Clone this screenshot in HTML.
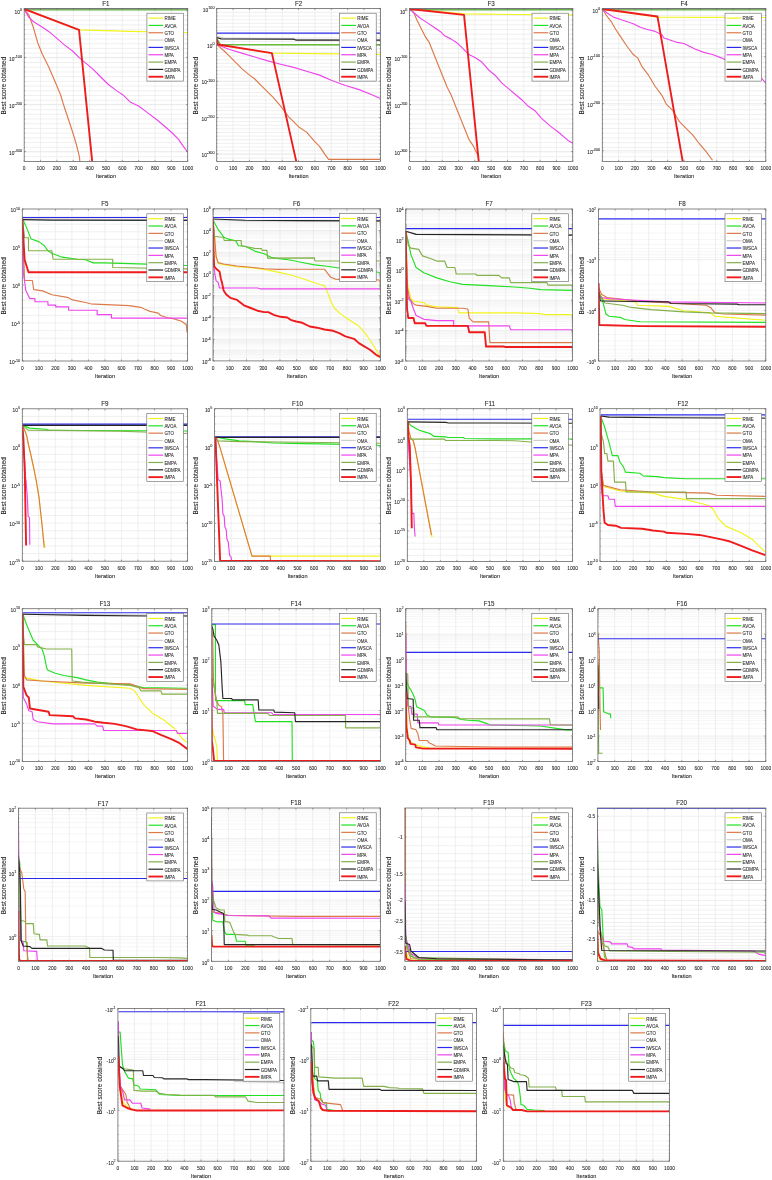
<!DOCTYPE html><html><head><meta charset="utf-8"><style>html,body{margin:0;padding:0;background:#fff;width:772px;height:1180px;overflow:hidden}svg{display:block;font-family:"Liberation Sans",sans-serif}</style></head><body><svg width="772" height="1180" viewBox="0 0 772 1180" font-family="Liberation Sans, sans-serif"><defs><filter id="bl" x="0" y="0" width="1" height="1"><feGaussianBlur stdDeviation="0.45"/></filter><style>text{stroke:#262626;stroke-width:0.08px}</style></defs><rect width="772" height="1180" fill="#fff"/><g filter="url(#bl)"><clipPath id="clipF1"><rect x="24.20" y="8.40" width="163.50" height="153.00"/></clipPath>
<g><path d="M24.2 156.69H187.7M24.2 151.98H187.7M24.2 147.28H187.7M24.2 142.57H187.7M24.2 137.86H187.7M24.2 133.15H187.7M24.2 128.45H187.7M24.2 123.74H187.7M24.2 119.03H187.7M24.2 114.32H187.7M24.2 109.62H187.7M24.2 104.91H187.7M24.2 100.20H187.7M24.2 95.49H187.7M24.2 90.78H187.7M24.2 86.08H187.7M24.2 81.37H187.7M24.2 76.66H187.7M24.2 71.95H187.7M24.2 67.25H187.7M24.2 62.54H187.7M24.2 57.83H187.7M24.2 53.12H187.7M24.2 48.42H187.7M24.2 43.71H187.7M24.2 39.00H187.7M24.2 34.29H187.7M24.2 29.58H187.7M24.2 24.88H187.7M24.2 20.17H187.7M24.2 15.46H187.7M24.2 10.75H187.7" stroke="#e6e6e6" stroke-width="0.6"/>
<path d="" stroke="#f0f0f0" stroke-width="0.6"/>
<path d="M24.2 10.28H187.7M24.2 57.36H187.7M24.2 104.44H187.7M24.2 151.51H187.7M40.55 8.4V161.4M56.90 8.4V161.4M73.25 8.4V161.4M89.60 8.4V161.4M105.95 8.4V161.4M122.30 8.4V161.4M138.65 8.4V161.4M155.00 8.4V161.4M171.35 8.4V161.4" stroke="#e4e4e4" stroke-width="0.6"/>
<g clip-path="url(#clipF1)">
<polyline points="23.96,8.96 79.02,29.88 130.11,31.43 187.80,32.53" fill="none" stroke="#f2f21a" stroke-width="1.15" stroke-linejoin="round"/>
<polyline points="24.20,9.60 187.70,9.60" fill="none" stroke="#22e022" stroke-width="1.15" stroke-linejoin="round"/>
<polyline points="23.96,8.96 28.81,14.91 33.21,27.02 37.62,42.44 42.02,53.45 48.63,66.66 55.23,82.08 60.74,95.29 64.04,106.30 68.45,119.51 72.85,132.73 76.16,143.74 79.46,156.95 79.90,161.79" fill="none" stroke="#dc7a4a" stroke-width="1.15" stroke-linejoin="round"/>
<polyline points="24.20,8.90 187.70,8.90" fill="none" stroke="#cfcfcf" stroke-width="1.15" stroke-linejoin="round"/>
<polyline points="24.20,8.70 187.70,8.70" fill="none" stroke="#2c2cec" stroke-width="1.15" stroke-linejoin="round"/>
<polyline points="23.96,8.96 28.81,17.11 33.21,21.52 42.02,27.02 48.63,31.43 55.23,36.93 64.04,44.64 72.85,51.25 79.46,57.85 86.06,63.36 92.67,68.86 99.28,75.47 108.09,84.28 116.89,90.88 123.50,95.29 130.11,101.89 138.92,106.30 147.73,112.91 156.53,119.51 163.14,125.02 171.95,132.73 178.56,139.33 182.96,145.94 187.80,152.10" fill="none" stroke="#ee44ee" stroke-width="1.15" stroke-linejoin="round"/>
<polyline points="24.20,9.70 187.70,9.70" fill="none" stroke="#84b04a" stroke-width="1.15" stroke-linejoin="round"/>
<polyline points="23.96,8.96 79.02,29.88 92.23,161.79" fill="none" stroke="#ee1c1c" stroke-width="1.9" stroke-linejoin="round"/>
</g>
<rect x="24.20" y="8.40" width="163.50" height="153.00" fill="none" stroke="#6a6a6a" stroke-width="0.8"/>
<path d="M24.20 161.4v-1.6M24.20 8.4v1.6M40.55 161.4v-1.6M40.55 8.4v1.6M56.90 161.4v-1.6M56.90 8.4v1.6M73.25 161.4v-1.6M73.25 8.4v1.6M89.60 161.4v-1.6M89.60 8.4v1.6M105.95 161.4v-1.6M105.95 8.4v1.6M122.30 161.4v-1.6M122.30 8.4v1.6M138.65 161.4v-1.6M138.65 8.4v1.6M155.00 161.4v-1.6M155.00 8.4v1.6M171.35 161.4v-1.6M171.35 8.4v1.6M187.70 161.4v-1.6M187.70 8.4v1.6M24.2 10.28h1.6M187.7 10.28h-1.6M24.2 57.36h1.6M187.7 57.36h-1.6M24.2 104.44h1.6M187.7 104.44h-1.6M24.2 151.51h1.6M187.7 151.51h-1.6" stroke="#6a6a6a" stroke-width="0.6"/>
<path d="M24.2 156.69h0.9M187.7 156.69h-0.9M24.2 151.98h0.9M187.7 151.98h-0.9M24.2 147.28h0.9M187.7 147.28h-0.9M24.2 142.57h0.9M187.7 142.57h-0.9M24.2 137.86h0.9M187.7 137.86h-0.9M24.2 133.15h0.9M187.7 133.15h-0.9M24.2 128.45h0.9M187.7 128.45h-0.9M24.2 123.74h0.9M187.7 123.74h-0.9M24.2 119.03h0.9M187.7 119.03h-0.9M24.2 114.32h0.9M187.7 114.32h-0.9M24.2 109.62h0.9M187.7 109.62h-0.9M24.2 104.91h0.9M187.7 104.91h-0.9M24.2 100.20h0.9M187.7 100.20h-0.9M24.2 95.49h0.9M187.7 95.49h-0.9M24.2 90.78h0.9M187.7 90.78h-0.9M24.2 86.08h0.9M187.7 86.08h-0.9M24.2 81.37h0.9M187.7 81.37h-0.9M24.2 76.66h0.9M187.7 76.66h-0.9M24.2 71.95h0.9M187.7 71.95h-0.9M24.2 67.25h0.9M187.7 67.25h-0.9M24.2 62.54h0.9M187.7 62.54h-0.9M24.2 57.83h0.9M187.7 57.83h-0.9M24.2 53.12h0.9M187.7 53.12h-0.9M24.2 48.42h0.9M187.7 48.42h-0.9M24.2 43.71h0.9M187.7 43.71h-0.9M24.2 39.00h0.9M187.7 39.00h-0.9M24.2 34.29h0.9M187.7 34.29h-0.9M24.2 29.58h0.9M187.7 29.58h-0.9M24.2 24.88h0.9M187.7 24.88h-0.9M24.2 20.17h0.9M187.7 20.17h-0.9M24.2 15.46h0.9M187.7 15.46h-0.9M24.2 10.75h0.9M187.7 10.75h-0.9" stroke="#6a6a6a" stroke-width="0.5"/>
<text x="22.85" y="170.10" font-size="5.6" textLength="2.71" lengthAdjust="spacingAndGlyphs" fill="#262626" >0</text>
<text x="36.49" y="170.10" font-size="5.6" textLength="8.13" lengthAdjust="spacingAndGlyphs" fill="#262626" >100</text>
<text x="52.84" y="170.10" font-size="5.6" textLength="8.13" lengthAdjust="spacingAndGlyphs" fill="#262626" >200</text>
<text x="69.19" y="170.10" font-size="5.6" textLength="8.13" lengthAdjust="spacingAndGlyphs" fill="#262626" >300</text>
<text x="85.54" y="170.10" font-size="5.6" textLength="8.13" lengthAdjust="spacingAndGlyphs" fill="#262626" >400</text>
<text x="101.89" y="170.10" font-size="5.6" textLength="8.13" lengthAdjust="spacingAndGlyphs" fill="#262626" >500</text>
<text x="118.24" y="170.10" font-size="5.6" textLength="8.13" lengthAdjust="spacingAndGlyphs" fill="#262626" >600</text>
<text x="134.59" y="170.10" font-size="5.6" textLength="8.13" lengthAdjust="spacingAndGlyphs" fill="#262626" >700</text>
<text x="150.94" y="170.10" font-size="5.6" textLength="8.13" lengthAdjust="spacingAndGlyphs" fill="#262626" >800</text>
<text x="167.29" y="170.10" font-size="5.6" textLength="8.13" lengthAdjust="spacingAndGlyphs" fill="#262626" >900</text>
<text x="182.28" y="170.10" font-size="5.6" textLength="10.84" lengthAdjust="spacingAndGlyphs" fill="#262626" >1000</text>
<text x="14.50" y="13.58" font-size="5.6" textLength="5.42" lengthAdjust="spacingAndGlyphs" fill="#262626" >10</text>
<text x="19.92" y="10.78" font-size="4.3" textLength="2.08" lengthAdjust="spacingAndGlyphs" fill="#262626" >0</text>
<text x="9.09" y="60.66" font-size="5.6" textLength="5.42" lengthAdjust="spacingAndGlyphs" fill="#262626" >10</text>
<text x="14.51" y="57.86" font-size="4.3" textLength="7.49" lengthAdjust="spacingAndGlyphs" fill="#262626" >-100</text>
<text x="9.09" y="107.74" font-size="5.6" textLength="5.42" lengthAdjust="spacingAndGlyphs" fill="#262626" >10</text>
<text x="14.51" y="104.94" font-size="4.3" textLength="7.49" lengthAdjust="spacingAndGlyphs" fill="#262626" >-200</text>
<text x="9.09" y="154.81" font-size="5.6" textLength="5.42" lengthAdjust="spacingAndGlyphs" fill="#262626" >10</text>
<text x="14.51" y="152.01" font-size="4.3" textLength="7.49" lengthAdjust="spacingAndGlyphs" fill="#262626" >-300</text>
<text x="95.87" y="178.10" font-size="6.2" textLength="20.16" lengthAdjust="spacingAndGlyphs" fill="#262626" >Iteration</text>
<text x="102.29" y="5.80" font-size="6.6" textLength="7.32" lengthAdjust="spacingAndGlyphs" fill="#262626" >F1</text>
<text x="-28.72" y="0.00" font-size="6.5" textLength="57.45" lengthAdjust="spacingAndGlyphs" fill="#262626" transform="translate(5.50,85.70) rotate(-90)" style="stroke-width:0.1px">Best score obtained</text>
<rect x="146.90" y="13.20" width="36.60" height="67.90" fill="#fff" stroke="#666" stroke-width="0.6"/>
<line x1="148.50" y1="18.10" x2="163.20" y2="18.10" stroke="#f2f21a" stroke-width="1.2"/>
<text x="164.50" y="20.40" font-size="5.2" textLength="11.18" lengthAdjust="spacingAndGlyphs" fill="#262626" >RIME</text>
<line x1="148.50" y1="25.43" x2="163.20" y2="25.43" stroke="#22e022" stroke-width="1.2"/>
<text x="164.50" y="27.73" font-size="5.2" textLength="12.10" lengthAdjust="spacingAndGlyphs" fill="#262626" >AVOA</text>
<line x1="148.50" y1="32.76" x2="163.20" y2="32.76" stroke="#dc7a4a" stroke-width="1.2"/>
<text x="164.50" y="35.06" font-size="5.2" textLength="9.61" lengthAdjust="spacingAndGlyphs" fill="#262626" >GTO</text>
<line x1="148.50" y1="40.09" x2="163.20" y2="40.09" stroke="#cfcfcf" stroke-width="1.2"/>
<text x="164.50" y="42.39" font-size="5.2" textLength="10.19" lengthAdjust="spacingAndGlyphs" fill="#262626" >OMA</text>
<line x1="148.50" y1="47.42" x2="163.20" y2="47.42" stroke="#2c2cec" stroke-width="1.2"/>
<text x="164.50" y="49.72" font-size="5.2" textLength="14.66" lengthAdjust="spacingAndGlyphs" fill="#262626" >IWSCA</text>
<line x1="148.50" y1="54.75" x2="163.20" y2="54.75" stroke="#ee44ee" stroke-width="1.2"/>
<text x="164.50" y="57.05" font-size="5.2" textLength="9.36" lengthAdjust="spacingAndGlyphs" fill="#262626" >MPA</text>
<line x1="148.50" y1="62.08" x2="163.20" y2="62.08" stroke="#84b04a" stroke-width="1.2"/>
<text x="164.50" y="64.38" font-size="5.2" textLength="12.34" lengthAdjust="spacingAndGlyphs" fill="#262626" >EMPA</text>
<line x1="148.50" y1="69.41" x2="163.20" y2="69.41" stroke="#262626" stroke-width="1.2"/>
<text x="164.50" y="71.71" font-size="5.2" textLength="16.07" lengthAdjust="spacingAndGlyphs" fill="#262626" >GDMPA</text>
<line x1="148.50" y1="76.74" x2="163.20" y2="76.74" stroke="#ee1c1c" stroke-width="1.9"/>
<text x="164.50" y="79.04" font-size="5.2" textLength="10.60" lengthAdjust="spacingAndGlyphs" fill="#262626" >IMPA</text></g>
<clipPath id="clipF2"><rect x="216.70" y="8.40" width="163.70" height="153.00"/></clipPath>
<g><path d="M216.7 157.94H380.4M216.7 154.30H380.4M216.7 150.67H380.4M216.7 147.03H380.4M216.7 143.39H380.4M216.7 139.75H380.4M216.7 136.11H380.4M216.7 132.47H380.4M216.7 128.84H380.4M216.7 125.20H380.4M216.7 121.56H380.4M216.7 117.92H380.4M216.7 114.28H380.4M216.7 110.64H380.4M216.7 107.00H380.4M216.7 103.37H380.4M216.7 99.73H380.4M216.7 96.09H380.4M216.7 92.45H380.4M216.7 88.81H380.4M216.7 85.17H380.4M216.7 81.53H380.4M216.7 77.90H380.4M216.7 74.26H380.4M216.7 70.62H380.4M216.7 66.98H380.4M216.7 63.34H380.4M216.7 59.70H380.4M216.7 56.06H380.4M216.7 52.43H380.4M216.7 48.79H380.4M216.7 45.15H380.4M216.7 41.51H380.4M216.7 37.87H380.4M216.7 34.23H380.4M216.7 30.60H380.4M216.7 26.96H380.4M216.7 23.32H380.4M216.7 19.68H380.4M216.7 16.04H380.4M216.7 12.40H380.4M216.7 8.76H380.4" stroke="#e6e6e6" stroke-width="0.6"/>
<path d="" stroke="#f0f0f0" stroke-width="0.6"/>
<path d="M216.7 44.79H380.4M216.7 81.17H380.4M216.7 117.56H380.4M216.7 153.94H380.4M233.07 8.4V161.4M249.44 8.4V161.4M265.81 8.4V161.4M282.18 8.4V161.4M298.55 8.4V161.4M314.92 8.4V161.4M331.29 8.4V161.4M347.66 8.4V161.4M364.03 8.4V161.4" stroke="#e4e4e4" stroke-width="0.6"/>
<g clip-path="url(#clipF2)">
<polyline points="216.68,44.56 271.87,53.11 380.41,54.40" fill="none" stroke="#f2f21a" stroke-width="1.15" stroke-linejoin="round"/>
<polyline points="216.68,37.56 219.79,44.56 380.41,44.56" fill="none" stroke="#22e022" stroke-width="1.15" stroke-linejoin="round"/>
<polyline points="216.68,44.56 223.68,50.52 228.86,55.70 235.34,62.18 241.81,68.65 249.59,75.13 254.77,79.02 262.54,86.79 272.90,97.15 280.67,106.22 288.45,116.58 298.81,126.94 306.58,132.12 314.35,141.19 319.53,146.37 324.72,154.15 328.60,159.33 380.41,159.33" fill="none" stroke="#dc7a4a" stroke-width="1.15" stroke-linejoin="round"/>
<polyline points="216.68,36.27 223.68,38.08 296.22,39.38 380.41,40.16" fill="none" stroke="#cfcfcf" stroke-width="1.15" stroke-linejoin="round"/>
<polyline points="216.68,33.16 380.41,33.16" fill="none" stroke="#2c2cec" stroke-width="1.15" stroke-linejoin="round"/>
<polyline points="216.68,44.56 228.86,49.22 241.81,53.11 254.77,56.99 267.72,60.88 280.67,64.25 293.63,67.36 306.58,71.24 319.53,75.13 331.19,80.31 345.44,85.49 358.39,89.38 371.35,94.56 380.41,98.45" fill="none" stroke="#ee44ee" stroke-width="1.15" stroke-linejoin="round"/>
<polyline points="216.68,38.86 220.57,44.56 380.41,44.82" fill="none" stroke="#84b04a" stroke-width="1.15" stroke-linejoin="round"/>
<polyline points="216.68,37.56 221.09,38.86 293.63,39.12 296.22,40.16 380.41,40.16" fill="none" stroke="#262626" stroke-width="1.15" stroke-linejoin="round"/>
<polyline points="216.68,38.86 217.98,44.56 271.87,53.11 296.22,161.14" fill="none" stroke="#ee1c1c" stroke-width="1.9" stroke-linejoin="round"/>
</g>
<rect x="216.70" y="8.40" width="163.70" height="153.00" fill="none" stroke="#6a6a6a" stroke-width="0.8"/>
<path d="M216.70 161.4v-1.6M216.70 8.4v1.6M233.07 161.4v-1.6M233.07 8.4v1.6M249.44 161.4v-1.6M249.44 8.4v1.6M265.81 161.4v-1.6M265.81 8.4v1.6M282.18 161.4v-1.6M282.18 8.4v1.6M298.55 161.4v-1.6M298.55 8.4v1.6M314.92 161.4v-1.6M314.92 8.4v1.6M331.29 161.4v-1.6M331.29 8.4v1.6M347.66 161.4v-1.6M347.66 8.4v1.6M364.03 161.4v-1.6M364.03 8.4v1.6M380.40 161.4v-1.6M380.40 8.4v1.6M216.7 8.40h1.6M380.4 8.40h-1.6M216.7 44.79h1.6M380.4 44.79h-1.6M216.7 81.17h1.6M380.4 81.17h-1.6M216.7 117.56h1.6M380.4 117.56h-1.6M216.7 153.94h1.6M380.4 153.94h-1.6" stroke="#6a6a6a" stroke-width="0.6"/>
<path d="M216.7 157.94h0.9M380.4 157.94h-0.9M216.7 154.30h0.9M380.4 154.30h-0.9M216.7 150.67h0.9M380.4 150.67h-0.9M216.7 147.03h0.9M380.4 147.03h-0.9M216.7 143.39h0.9M380.4 143.39h-0.9M216.7 139.75h0.9M380.4 139.75h-0.9M216.7 136.11h0.9M380.4 136.11h-0.9M216.7 132.47h0.9M380.4 132.47h-0.9M216.7 128.84h0.9M380.4 128.84h-0.9M216.7 125.20h0.9M380.4 125.20h-0.9M216.7 121.56h0.9M380.4 121.56h-0.9M216.7 117.92h0.9M380.4 117.92h-0.9M216.7 114.28h0.9M380.4 114.28h-0.9M216.7 110.64h0.9M380.4 110.64h-0.9M216.7 107.00h0.9M380.4 107.00h-0.9M216.7 103.37h0.9M380.4 103.37h-0.9M216.7 99.73h0.9M380.4 99.73h-0.9M216.7 96.09h0.9M380.4 96.09h-0.9M216.7 92.45h0.9M380.4 92.45h-0.9M216.7 88.81h0.9M380.4 88.81h-0.9M216.7 85.17h0.9M380.4 85.17h-0.9M216.7 81.53h0.9M380.4 81.53h-0.9M216.7 77.90h0.9M380.4 77.90h-0.9M216.7 74.26h0.9M380.4 74.26h-0.9M216.7 70.62h0.9M380.4 70.62h-0.9M216.7 66.98h0.9M380.4 66.98h-0.9M216.7 63.34h0.9M380.4 63.34h-0.9M216.7 59.70h0.9M380.4 59.70h-0.9M216.7 56.06h0.9M380.4 56.06h-0.9M216.7 52.43h0.9M380.4 52.43h-0.9M216.7 48.79h0.9M380.4 48.79h-0.9M216.7 45.15h0.9M380.4 45.15h-0.9M216.7 41.51h0.9M380.4 41.51h-0.9M216.7 37.87h0.9M380.4 37.87h-0.9M216.7 34.23h0.9M380.4 34.23h-0.9M216.7 30.60h0.9M380.4 30.60h-0.9M216.7 26.96h0.9M380.4 26.96h-0.9M216.7 23.32h0.9M380.4 23.32h-0.9M216.7 19.68h0.9M380.4 19.68h-0.9M216.7 16.04h0.9M380.4 16.04h-0.9M216.7 12.40h0.9M380.4 12.40h-0.9M216.7 8.76h0.9M380.4 8.76h-0.9" stroke="#6a6a6a" stroke-width="0.5"/>
<text x="215.35" y="170.10" font-size="5.6" textLength="2.71" lengthAdjust="spacingAndGlyphs" fill="#262626" >0</text>
<text x="229.01" y="170.10" font-size="5.6" textLength="8.13" lengthAdjust="spacingAndGlyphs" fill="#262626" >100</text>
<text x="245.38" y="170.10" font-size="5.6" textLength="8.13" lengthAdjust="spacingAndGlyphs" fill="#262626" >200</text>
<text x="261.75" y="170.10" font-size="5.6" textLength="8.13" lengthAdjust="spacingAndGlyphs" fill="#262626" >300</text>
<text x="278.12" y="170.10" font-size="5.6" textLength="8.13" lengthAdjust="spacingAndGlyphs" fill="#262626" >400</text>
<text x="294.49" y="170.10" font-size="5.6" textLength="8.13" lengthAdjust="spacingAndGlyphs" fill="#262626" >500</text>
<text x="310.86" y="170.10" font-size="5.6" textLength="8.13" lengthAdjust="spacingAndGlyphs" fill="#262626" >600</text>
<text x="327.23" y="170.10" font-size="5.6" textLength="8.13" lengthAdjust="spacingAndGlyphs" fill="#262626" >700</text>
<text x="343.60" y="170.10" font-size="5.6" textLength="8.13" lengthAdjust="spacingAndGlyphs" fill="#262626" >800</text>
<text x="359.97" y="170.10" font-size="5.6" textLength="8.13" lengthAdjust="spacingAndGlyphs" fill="#262626" >900</text>
<text x="374.98" y="170.10" font-size="5.6" textLength="10.84" lengthAdjust="spacingAndGlyphs" fill="#262626" >1000</text>
<text x="202.84" y="11.70" font-size="5.6" textLength="5.42" lengthAdjust="spacingAndGlyphs" fill="#262626" >10</text>
<text x="208.26" y="8.90" font-size="4.3" textLength="6.24" lengthAdjust="spacingAndGlyphs" fill="#262626" >100</text>
<text x="207.00" y="48.09" font-size="5.6" textLength="5.42" lengthAdjust="spacingAndGlyphs" fill="#262626" >10</text>
<text x="212.42" y="45.29" font-size="4.3" textLength="2.08" lengthAdjust="spacingAndGlyphs" fill="#262626" >0</text>
<text x="201.59" y="84.47" font-size="5.6" textLength="5.42" lengthAdjust="spacingAndGlyphs" fill="#262626" >10</text>
<text x="207.01" y="81.67" font-size="4.3" textLength="7.49" lengthAdjust="spacingAndGlyphs" fill="#262626" >-100</text>
<text x="201.59" y="120.86" font-size="5.6" textLength="5.42" lengthAdjust="spacingAndGlyphs" fill="#262626" >10</text>
<text x="207.01" y="118.06" font-size="4.3" textLength="7.49" lengthAdjust="spacingAndGlyphs" fill="#262626" >-200</text>
<text x="201.59" y="157.24" font-size="5.6" textLength="5.42" lengthAdjust="spacingAndGlyphs" fill="#262626" >10</text>
<text x="207.01" y="154.44" font-size="4.3" textLength="7.49" lengthAdjust="spacingAndGlyphs" fill="#262626" >-300</text>
<text x="288.47" y="178.10" font-size="6.2" textLength="20.16" lengthAdjust="spacingAndGlyphs" fill="#262626" >Iteration</text>
<text x="294.89" y="5.80" font-size="6.6" textLength="7.32" lengthAdjust="spacingAndGlyphs" fill="#262626" >F2</text>
<text x="-28.72" y="0.00" font-size="6.5" textLength="57.45" lengthAdjust="spacingAndGlyphs" fill="#262626" transform="translate(198.20,85.70) rotate(-90)" style="stroke-width:0.1px">Best score obtained</text>
<rect x="339.60" y="13.20" width="36.60" height="67.90" fill="#fff" stroke="#666" stroke-width="0.6"/>
<line x1="341.20" y1="18.10" x2="355.90" y2="18.10" stroke="#f2f21a" stroke-width="1.2"/>
<text x="357.20" y="20.40" font-size="5.2" textLength="11.18" lengthAdjust="spacingAndGlyphs" fill="#262626" >RIME</text>
<line x1="341.20" y1="25.43" x2="355.90" y2="25.43" stroke="#22e022" stroke-width="1.2"/>
<text x="357.20" y="27.73" font-size="5.2" textLength="12.10" lengthAdjust="spacingAndGlyphs" fill="#262626" >AVOA</text>
<line x1="341.20" y1="32.76" x2="355.90" y2="32.76" stroke="#dc7a4a" stroke-width="1.2"/>
<text x="357.20" y="35.06" font-size="5.2" textLength="9.61" lengthAdjust="spacingAndGlyphs" fill="#262626" >GTO</text>
<line x1="341.20" y1="40.09" x2="355.90" y2="40.09" stroke="#cfcfcf" stroke-width="1.2"/>
<text x="357.20" y="42.39" font-size="5.2" textLength="10.19" lengthAdjust="spacingAndGlyphs" fill="#262626" >OMA</text>
<line x1="341.20" y1="47.42" x2="355.90" y2="47.42" stroke="#2c2cec" stroke-width="1.2"/>
<text x="357.20" y="49.72" font-size="5.2" textLength="14.66" lengthAdjust="spacingAndGlyphs" fill="#262626" >IWSCA</text>
<line x1="341.20" y1="54.75" x2="355.90" y2="54.75" stroke="#ee44ee" stroke-width="1.2"/>
<text x="357.20" y="57.05" font-size="5.2" textLength="9.36" lengthAdjust="spacingAndGlyphs" fill="#262626" >MPA</text>
<line x1="341.20" y1="62.08" x2="355.90" y2="62.08" stroke="#84b04a" stroke-width="1.2"/>
<text x="357.20" y="64.38" font-size="5.2" textLength="12.34" lengthAdjust="spacingAndGlyphs" fill="#262626" >EMPA</text>
<line x1="341.20" y1="69.41" x2="355.90" y2="69.41" stroke="#262626" stroke-width="1.2"/>
<text x="357.20" y="71.71" font-size="5.2" textLength="16.07" lengthAdjust="spacingAndGlyphs" fill="#262626" >GDMPA</text>
<line x1="341.20" y1="76.74" x2="355.90" y2="76.74" stroke="#ee1c1c" stroke-width="1.9"/>
<text x="357.20" y="79.04" font-size="5.2" textLength="10.60" lengthAdjust="spacingAndGlyphs" fill="#262626" >IMPA</text></g>
<clipPath id="clipF3"><rect x="409.60" y="8.40" width="163.20" height="153.00"/></clipPath>
<g><path d="M409.6 156.69H572.8M409.6 151.98H572.8M409.6 147.28H572.8M409.6 142.57H572.8M409.6 137.86H572.8M409.6 133.15H572.8M409.6 128.45H572.8M409.6 123.74H572.8M409.6 119.03H572.8M409.6 114.32H572.8M409.6 109.62H572.8M409.6 104.91H572.8M409.6 100.20H572.8M409.6 95.49H572.8M409.6 90.78H572.8M409.6 86.08H572.8M409.6 81.37H572.8M409.6 76.66H572.8M409.6 71.95H572.8M409.6 67.25H572.8M409.6 62.54H572.8M409.6 57.83H572.8M409.6 53.12H572.8M409.6 48.42H572.8M409.6 43.71H572.8M409.6 39.00H572.8M409.6 34.29H572.8M409.6 29.58H572.8M409.6 24.88H572.8M409.6 20.17H572.8M409.6 15.46H572.8M409.6 10.75H572.8" stroke="#e6e6e6" stroke-width="0.6"/>
<path d="" stroke="#f0f0f0" stroke-width="0.6"/>
<path d="M409.6 10.28H572.8M409.6 57.36H572.8M409.6 104.44H572.8M409.6 151.51H572.8M425.92 8.4V161.4M442.24 8.4V161.4M458.56 8.4V161.4M474.88 8.4V161.4M491.20 8.4V161.4M507.52 8.4V161.4M523.84 8.4V161.4M540.16 8.4V161.4M556.48 8.4V161.4" stroke="#e4e4e4" stroke-width="0.6"/>
<g clip-path="url(#clipF3)">
<polyline points="409.84,8.96 464.46,13.81 515.11,14.47 572.80,14.91" fill="none" stroke="#f2f21a" stroke-width="1.15" stroke-linejoin="round"/>
<polyline points="409.60,9.60 572.80,9.60" fill="none" stroke="#22e022" stroke-width="1.15" stroke-linejoin="round"/>
<polyline points="409.84,8.96 413.81,12.71 417.11,20.42 420.42,27.02 424.82,35.83 429.22,42.44 433.63,53.45 438.03,64.46 442.44,75.47 446.84,86.48 451.25,95.29 455.65,106.30 460.05,117.31 464.46,128.32 468.86,139.33 473.27,145.94 478.77,156.95" fill="none" stroke="#dc7a4a" stroke-width="1.15" stroke-linejoin="round"/>
<polyline points="409.60,8.70 572.80,8.70" fill="none" stroke="#2c2cec" stroke-width="1.15" stroke-linejoin="round"/>
<polyline points="409.84,8.96 413.81,12.71 420.42,18.21 427.02,22.62 433.63,27.02 440.23,31.43 444.64,35.83 451.25,39.13 457.85,43.54 462.26,47.94 468.86,54.55 475.47,57.85 482.08,62.26 488.68,69.96 495.29,75.47 501.89,83.18 508.50,88.68 515.11,94.19 521.71,99.69 528.32,106.30 534.93,110.70 541.53,118.41 550.34,126.12 559.15,132.73 567.96,140.43 572.80,143.30" fill="none" stroke="#ee44ee" stroke-width="1.15" stroke-linejoin="round"/>
<polyline points="409.60,9.70 572.80,9.70" fill="none" stroke="#84b04a" stroke-width="1.15" stroke-linejoin="round"/>
<polyline points="409.84,8.96 464.02,14.91 478.77,161.79" fill="none" stroke="#ee1c1c" stroke-width="1.9" stroke-linejoin="round"/>
</g>
<rect x="409.60" y="8.40" width="163.20" height="153.00" fill="none" stroke="#6a6a6a" stroke-width="0.8"/>
<path d="M409.60 161.4v-1.6M409.60 8.4v1.6M425.92 161.4v-1.6M425.92 8.4v1.6M442.24 161.4v-1.6M442.24 8.4v1.6M458.56 161.4v-1.6M458.56 8.4v1.6M474.88 161.4v-1.6M474.88 8.4v1.6M491.20 161.4v-1.6M491.20 8.4v1.6M507.52 161.4v-1.6M507.52 8.4v1.6M523.84 161.4v-1.6M523.84 8.4v1.6M540.16 161.4v-1.6M540.16 8.4v1.6M556.48 161.4v-1.6M556.48 8.4v1.6M572.80 161.4v-1.6M572.80 8.4v1.6M409.6 10.28h1.6M572.8 10.28h-1.6M409.6 57.36h1.6M572.8 57.36h-1.6M409.6 104.44h1.6M572.8 104.44h-1.6M409.6 151.51h1.6M572.8 151.51h-1.6" stroke="#6a6a6a" stroke-width="0.6"/>
<path d="M409.6 156.69h0.9M572.8 156.69h-0.9M409.6 151.98h0.9M572.8 151.98h-0.9M409.6 147.28h0.9M572.8 147.28h-0.9M409.6 142.57h0.9M572.8 142.57h-0.9M409.6 137.86h0.9M572.8 137.86h-0.9M409.6 133.15h0.9M572.8 133.15h-0.9M409.6 128.45h0.9M572.8 128.45h-0.9M409.6 123.74h0.9M572.8 123.74h-0.9M409.6 119.03h0.9M572.8 119.03h-0.9M409.6 114.32h0.9M572.8 114.32h-0.9M409.6 109.62h0.9M572.8 109.62h-0.9M409.6 104.91h0.9M572.8 104.91h-0.9M409.6 100.20h0.9M572.8 100.20h-0.9M409.6 95.49h0.9M572.8 95.49h-0.9M409.6 90.78h0.9M572.8 90.78h-0.9M409.6 86.08h0.9M572.8 86.08h-0.9M409.6 81.37h0.9M572.8 81.37h-0.9M409.6 76.66h0.9M572.8 76.66h-0.9M409.6 71.95h0.9M572.8 71.95h-0.9M409.6 67.25h0.9M572.8 67.25h-0.9M409.6 62.54h0.9M572.8 62.54h-0.9M409.6 57.83h0.9M572.8 57.83h-0.9M409.6 53.12h0.9M572.8 53.12h-0.9M409.6 48.42h0.9M572.8 48.42h-0.9M409.6 43.71h0.9M572.8 43.71h-0.9M409.6 39.00h0.9M572.8 39.00h-0.9M409.6 34.29h0.9M572.8 34.29h-0.9M409.6 29.58h0.9M572.8 29.58h-0.9M409.6 24.88h0.9M572.8 24.88h-0.9M409.6 20.17h0.9M572.8 20.17h-0.9M409.6 15.46h0.9M572.8 15.46h-0.9M409.6 10.75h0.9M572.8 10.75h-0.9" stroke="#6a6a6a" stroke-width="0.5"/>
<text x="408.25" y="170.10" font-size="5.6" textLength="2.71" lengthAdjust="spacingAndGlyphs" fill="#262626" >0</text>
<text x="421.86" y="170.10" font-size="5.6" textLength="8.13" lengthAdjust="spacingAndGlyphs" fill="#262626" >100</text>
<text x="438.18" y="170.10" font-size="5.6" textLength="8.13" lengthAdjust="spacingAndGlyphs" fill="#262626" >200</text>
<text x="454.50" y="170.10" font-size="5.6" textLength="8.13" lengthAdjust="spacingAndGlyphs" fill="#262626" >300</text>
<text x="470.82" y="170.10" font-size="5.6" textLength="8.13" lengthAdjust="spacingAndGlyphs" fill="#262626" >400</text>
<text x="487.14" y="170.10" font-size="5.6" textLength="8.13" lengthAdjust="spacingAndGlyphs" fill="#262626" >500</text>
<text x="503.46" y="170.10" font-size="5.6" textLength="8.13" lengthAdjust="spacingAndGlyphs" fill="#262626" >600</text>
<text x="519.78" y="170.10" font-size="5.6" textLength="8.13" lengthAdjust="spacingAndGlyphs" fill="#262626" >700</text>
<text x="536.10" y="170.10" font-size="5.6" textLength="8.13" lengthAdjust="spacingAndGlyphs" fill="#262626" >800</text>
<text x="552.42" y="170.10" font-size="5.6" textLength="8.13" lengthAdjust="spacingAndGlyphs" fill="#262626" >900</text>
<text x="567.38" y="170.10" font-size="5.6" textLength="10.84" lengthAdjust="spacingAndGlyphs" fill="#262626" >1000</text>
<text x="399.90" y="13.58" font-size="5.6" textLength="5.42" lengthAdjust="spacingAndGlyphs" fill="#262626" >10</text>
<text x="405.32" y="10.78" font-size="4.3" textLength="2.08" lengthAdjust="spacingAndGlyphs" fill="#262626" >0</text>
<text x="394.49" y="60.66" font-size="5.6" textLength="5.42" lengthAdjust="spacingAndGlyphs" fill="#262626" >10</text>
<text x="399.91" y="57.86" font-size="4.3" textLength="7.49" lengthAdjust="spacingAndGlyphs" fill="#262626" >-100</text>
<text x="394.49" y="107.74" font-size="5.6" textLength="5.42" lengthAdjust="spacingAndGlyphs" fill="#262626" >10</text>
<text x="399.91" y="104.94" font-size="4.3" textLength="7.49" lengthAdjust="spacingAndGlyphs" fill="#262626" >-200</text>
<text x="394.49" y="154.81" font-size="5.6" textLength="5.42" lengthAdjust="spacingAndGlyphs" fill="#262626" >10</text>
<text x="399.91" y="152.01" font-size="4.3" textLength="7.49" lengthAdjust="spacingAndGlyphs" fill="#262626" >-300</text>
<text x="481.12" y="178.10" font-size="6.2" textLength="20.16" lengthAdjust="spacingAndGlyphs" fill="#262626" >Iteration</text>
<text x="487.54" y="5.80" font-size="6.6" textLength="7.32" lengthAdjust="spacingAndGlyphs" fill="#262626" >F3</text>
<text x="-28.72" y="0.00" font-size="6.5" textLength="57.45" lengthAdjust="spacingAndGlyphs" fill="#262626" transform="translate(390.90,85.70) rotate(-90)" style="stroke-width:0.1px">Best score obtained</text>
<rect x="532.00" y="13.20" width="36.60" height="67.90" fill="#fff" stroke="#666" stroke-width="0.6"/>
<line x1="533.60" y1="18.10" x2="548.30" y2="18.10" stroke="#f2f21a" stroke-width="1.2"/>
<text x="549.60" y="20.40" font-size="5.2" textLength="11.18" lengthAdjust="spacingAndGlyphs" fill="#262626" >RIME</text>
<line x1="533.60" y1="25.43" x2="548.30" y2="25.43" stroke="#22e022" stroke-width="1.2"/>
<text x="549.60" y="27.73" font-size="5.2" textLength="12.10" lengthAdjust="spacingAndGlyphs" fill="#262626" >AVOA</text>
<line x1="533.60" y1="32.76" x2="548.30" y2="32.76" stroke="#dc7a4a" stroke-width="1.2"/>
<text x="549.60" y="35.06" font-size="5.2" textLength="9.61" lengthAdjust="spacingAndGlyphs" fill="#262626" >GTO</text>
<line x1="533.60" y1="40.09" x2="548.30" y2="40.09" stroke="#cfcfcf" stroke-width="1.2"/>
<text x="549.60" y="42.39" font-size="5.2" textLength="10.19" lengthAdjust="spacingAndGlyphs" fill="#262626" >OMA</text>
<line x1="533.60" y1="47.42" x2="548.30" y2="47.42" stroke="#2c2cec" stroke-width="1.2"/>
<text x="549.60" y="49.72" font-size="5.2" textLength="14.66" lengthAdjust="spacingAndGlyphs" fill="#262626" >IWSCA</text>
<line x1="533.60" y1="54.75" x2="548.30" y2="54.75" stroke="#ee44ee" stroke-width="1.2"/>
<text x="549.60" y="57.05" font-size="5.2" textLength="9.36" lengthAdjust="spacingAndGlyphs" fill="#262626" >MPA</text>
<line x1="533.60" y1="62.08" x2="548.30" y2="62.08" stroke="#84b04a" stroke-width="1.2"/>
<text x="549.60" y="64.38" font-size="5.2" textLength="12.34" lengthAdjust="spacingAndGlyphs" fill="#262626" >EMPA</text>
<line x1="533.60" y1="69.41" x2="548.30" y2="69.41" stroke="#262626" stroke-width="1.2"/>
<text x="549.60" y="71.71" font-size="5.2" textLength="16.07" lengthAdjust="spacingAndGlyphs" fill="#262626" >GDMPA</text>
<line x1="533.60" y1="76.74" x2="548.30" y2="76.74" stroke="#ee1c1c" stroke-width="1.9"/>
<text x="549.60" y="79.04" font-size="5.2" textLength="10.60" lengthAdjust="spacingAndGlyphs" fill="#262626" >IMPA</text></g>
<clipPath id="clipF4"><rect x="602.30" y="8.40" width="163.50" height="153.00"/></clipPath>
<g><path d="M602.3 156.78H765.8M602.3 152.07H765.8M602.3 147.36H765.8M602.3 142.65H765.8M602.3 137.94H765.8M602.3 133.23H765.8M602.3 128.52H765.8M602.3 123.81H765.8M602.3 119.10H765.8M602.3 114.39H765.8M602.3 109.68H765.8M602.3 104.97H765.8M602.3 100.26H765.8M602.3 95.55H765.8M602.3 90.84H765.8M602.3 86.12H765.8M602.3 81.41H765.8M602.3 76.70H765.8M602.3 71.99H765.8M602.3 67.28H765.8M602.3 62.57H765.8M602.3 57.86H765.8M602.3 53.15H765.8M602.3 48.44H765.8M602.3 43.73H765.8M602.3 39.02H765.8M602.3 34.31H765.8M602.3 29.60H765.8M602.3 24.89H765.8M602.3 20.18H765.8M602.3 15.47H765.8M602.3 10.76H765.8" stroke="#e6e6e6" stroke-width="0.6"/>
<path d="" stroke="#f0f0f0" stroke-width="0.6"/>
<path d="M602.3 9.34H765.8M602.3 56.45H765.8M602.3 103.55H765.8M602.3 150.66H765.8M618.65 8.4V161.4M635.00 8.4V161.4M651.35 8.4V161.4M667.70 8.4V161.4M684.05 8.4V161.4M700.40 8.4V161.4M716.75 8.4V161.4M733.10 8.4V161.4M749.45 8.4V161.4" stroke="#e4e4e4" stroke-width="0.6"/>
<g clip-path="url(#clipF4)">
<polyline points="602.40,8.96 657.46,17.11 765.80,17.55" fill="none" stroke="#f2f21a" stroke-width="1.15" stroke-linejoin="round"/>
<polyline points="602.30,9.60 765.80,9.60" fill="none" stroke="#22e022" stroke-width="1.15" stroke-linejoin="round"/>
<polyline points="602.40,8.96 606.81,16.01 611.21,21.52 615.62,29.22 620.02,35.83 626.63,45.74 633.23,54.55 637.64,57.85 642.04,66.66 648.65,75.47 655.26,86.48 661.86,95.29 666.27,104.10 672.87,110.70 679.48,121.71 686.09,128.32 692.69,134.93 699.30,143.74 705.91,151.44 712.51,160.25" fill="none" stroke="#dc7a4a" stroke-width="1.15" stroke-linejoin="round"/>
<polyline points="602.30,8.90 765.80,8.90" fill="none" stroke="#cfcfcf" stroke-width="1.15" stroke-linejoin="round"/>
<polyline points="602.30,8.70 765.80,8.70" fill="none" stroke="#2c2cec" stroke-width="1.15" stroke-linejoin="round"/>
<polyline points="602.40,8.96 606.81,12.71 613.42,17.11 620.02,19.31 626.63,21.52 633.23,23.72 639.84,27.02 646.45,29.22 655.26,31.43 661.86,34.73 664.06,38.03 670.67,40.23 677.28,42.44 683.88,43.54 690.49,46.84 694.89,49.04 703.70,52.35 712.51,54.55 721.32,57.85 730.13,62.26 741.14,66.66 752.15,71.06 760.96,77.67 765.80,83.18" fill="none" stroke="#ee44ee" stroke-width="1.15" stroke-linejoin="round"/>
<polyline points="602.30,9.70 765.80,9.70" fill="none" stroke="#84b04a" stroke-width="1.15" stroke-linejoin="round"/>
<polyline points="602.40,8.96 657.46,16.45 682.78,161.79" fill="none" stroke="#ee1c1c" stroke-width="1.9" stroke-linejoin="round"/>
</g>
<rect x="602.30" y="8.40" width="163.50" height="153.00" fill="none" stroke="#6a6a6a" stroke-width="0.8"/>
<path d="M602.30 161.4v-1.6M602.30 8.4v1.6M618.65 161.4v-1.6M618.65 8.4v1.6M635.00 161.4v-1.6M635.00 8.4v1.6M651.35 161.4v-1.6M651.35 8.4v1.6M667.70 161.4v-1.6M667.70 8.4v1.6M684.05 161.4v-1.6M684.05 8.4v1.6M700.40 161.4v-1.6M700.40 8.4v1.6M716.75 161.4v-1.6M716.75 8.4v1.6M733.10 161.4v-1.6M733.10 8.4v1.6M749.45 161.4v-1.6M749.45 8.4v1.6M765.80 161.4v-1.6M765.80 8.4v1.6M602.3 9.34h1.6M765.8 9.34h-1.6M602.3 56.45h1.6M765.8 56.45h-1.6M602.3 103.55h1.6M765.8 103.55h-1.6M602.3 150.66h1.6M765.8 150.66h-1.6" stroke="#6a6a6a" stroke-width="0.6"/>
<path d="M602.3 156.78h0.9M765.8 156.78h-0.9M602.3 152.07h0.9M765.8 152.07h-0.9M602.3 147.36h0.9M765.8 147.36h-0.9M602.3 142.65h0.9M765.8 142.65h-0.9M602.3 137.94h0.9M765.8 137.94h-0.9M602.3 133.23h0.9M765.8 133.23h-0.9M602.3 128.52h0.9M765.8 128.52h-0.9M602.3 123.81h0.9M765.8 123.81h-0.9M602.3 119.10h0.9M765.8 119.10h-0.9M602.3 114.39h0.9M765.8 114.39h-0.9M602.3 109.68h0.9M765.8 109.68h-0.9M602.3 104.97h0.9M765.8 104.97h-0.9M602.3 100.26h0.9M765.8 100.26h-0.9M602.3 95.55h0.9M765.8 95.55h-0.9M602.3 90.84h0.9M765.8 90.84h-0.9M602.3 86.12h0.9M765.8 86.12h-0.9M602.3 81.41h0.9M765.8 81.41h-0.9M602.3 76.70h0.9M765.8 76.70h-0.9M602.3 71.99h0.9M765.8 71.99h-0.9M602.3 67.28h0.9M765.8 67.28h-0.9M602.3 62.57h0.9M765.8 62.57h-0.9M602.3 57.86h0.9M765.8 57.86h-0.9M602.3 53.15h0.9M765.8 53.15h-0.9M602.3 48.44h0.9M765.8 48.44h-0.9M602.3 43.73h0.9M765.8 43.73h-0.9M602.3 39.02h0.9M765.8 39.02h-0.9M602.3 34.31h0.9M765.8 34.31h-0.9M602.3 29.60h0.9M765.8 29.60h-0.9M602.3 24.89h0.9M765.8 24.89h-0.9M602.3 20.18h0.9M765.8 20.18h-0.9M602.3 15.47h0.9M765.8 15.47h-0.9M602.3 10.76h0.9M765.8 10.76h-0.9" stroke="#6a6a6a" stroke-width="0.5"/>
<text x="600.95" y="170.10" font-size="5.6" textLength="2.71" lengthAdjust="spacingAndGlyphs" fill="#262626" >0</text>
<text x="614.59" y="170.10" font-size="5.6" textLength="8.13" lengthAdjust="spacingAndGlyphs" fill="#262626" >100</text>
<text x="630.94" y="170.10" font-size="5.6" textLength="8.13" lengthAdjust="spacingAndGlyphs" fill="#262626" >200</text>
<text x="647.29" y="170.10" font-size="5.6" textLength="8.13" lengthAdjust="spacingAndGlyphs" fill="#262626" >300</text>
<text x="663.64" y="170.10" font-size="5.6" textLength="8.13" lengthAdjust="spacingAndGlyphs" fill="#262626" >400</text>
<text x="679.99" y="170.10" font-size="5.6" textLength="8.13" lengthAdjust="spacingAndGlyphs" fill="#262626" >500</text>
<text x="696.34" y="170.10" font-size="5.6" textLength="8.13" lengthAdjust="spacingAndGlyphs" fill="#262626" >600</text>
<text x="712.69" y="170.10" font-size="5.6" textLength="8.13" lengthAdjust="spacingAndGlyphs" fill="#262626" >700</text>
<text x="729.04" y="170.10" font-size="5.6" textLength="8.13" lengthAdjust="spacingAndGlyphs" fill="#262626" >800</text>
<text x="745.39" y="170.10" font-size="5.6" textLength="8.13" lengthAdjust="spacingAndGlyphs" fill="#262626" >900</text>
<text x="760.38" y="170.10" font-size="5.6" textLength="10.84" lengthAdjust="spacingAndGlyphs" fill="#262626" >1000</text>
<text x="592.60" y="12.64" font-size="5.6" textLength="5.42" lengthAdjust="spacingAndGlyphs" fill="#262626" >10</text>
<text x="598.02" y="9.84" font-size="4.3" textLength="2.08" lengthAdjust="spacingAndGlyphs" fill="#262626" >0</text>
<text x="587.19" y="59.75" font-size="5.6" textLength="5.42" lengthAdjust="spacingAndGlyphs" fill="#262626" >10</text>
<text x="592.61" y="56.95" font-size="4.3" textLength="7.49" lengthAdjust="spacingAndGlyphs" fill="#262626" >-100</text>
<text x="587.19" y="106.85" font-size="5.6" textLength="5.42" lengthAdjust="spacingAndGlyphs" fill="#262626" >10</text>
<text x="592.61" y="104.05" font-size="4.3" textLength="7.49" lengthAdjust="spacingAndGlyphs" fill="#262626" >-200</text>
<text x="587.19" y="153.96" font-size="5.6" textLength="5.42" lengthAdjust="spacingAndGlyphs" fill="#262626" >10</text>
<text x="592.61" y="151.16" font-size="4.3" textLength="7.49" lengthAdjust="spacingAndGlyphs" fill="#262626" >-300</text>
<text x="673.97" y="178.10" font-size="6.2" textLength="20.16" lengthAdjust="spacingAndGlyphs" fill="#262626" >Iteration</text>
<text x="680.39" y="5.80" font-size="6.6" textLength="7.32" lengthAdjust="spacingAndGlyphs" fill="#262626" >F4</text>
<text x="-28.72" y="0.00" font-size="6.5" textLength="57.45" lengthAdjust="spacingAndGlyphs" fill="#262626" transform="translate(583.60,85.70) rotate(-90)" style="stroke-width:0.1px">Best score obtained</text>
<rect x="725.00" y="13.20" width="36.60" height="67.90" fill="#fff" stroke="#666" stroke-width="0.6"/>
<line x1="726.60" y1="18.10" x2="741.30" y2="18.10" stroke="#f2f21a" stroke-width="1.2"/>
<text x="742.60" y="20.40" font-size="5.2" textLength="11.18" lengthAdjust="spacingAndGlyphs" fill="#262626" >RIME</text>
<line x1="726.60" y1="25.43" x2="741.30" y2="25.43" stroke="#22e022" stroke-width="1.2"/>
<text x="742.60" y="27.73" font-size="5.2" textLength="12.10" lengthAdjust="spacingAndGlyphs" fill="#262626" >AVOA</text>
<line x1="726.60" y1="32.76" x2="741.30" y2="32.76" stroke="#dc7a4a" stroke-width="1.2"/>
<text x="742.60" y="35.06" font-size="5.2" textLength="9.61" lengthAdjust="spacingAndGlyphs" fill="#262626" >GTO</text>
<line x1="726.60" y1="40.09" x2="741.30" y2="40.09" stroke="#cfcfcf" stroke-width="1.2"/>
<text x="742.60" y="42.39" font-size="5.2" textLength="10.19" lengthAdjust="spacingAndGlyphs" fill="#262626" >OMA</text>
<line x1="726.60" y1="47.42" x2="741.30" y2="47.42" stroke="#2c2cec" stroke-width="1.2"/>
<text x="742.60" y="49.72" font-size="5.2" textLength="14.66" lengthAdjust="spacingAndGlyphs" fill="#262626" >IWSCA</text>
<line x1="726.60" y1="54.75" x2="741.30" y2="54.75" stroke="#ee44ee" stroke-width="1.2"/>
<text x="742.60" y="57.05" font-size="5.2" textLength="9.36" lengthAdjust="spacingAndGlyphs" fill="#262626" >MPA</text>
<line x1="726.60" y1="62.08" x2="741.30" y2="62.08" stroke="#84b04a" stroke-width="1.2"/>
<text x="742.60" y="64.38" font-size="5.2" textLength="12.34" lengthAdjust="spacingAndGlyphs" fill="#262626" >EMPA</text>
<line x1="726.60" y1="69.41" x2="741.30" y2="69.41" stroke="#262626" stroke-width="1.2"/>
<text x="742.60" y="71.71" font-size="5.2" textLength="16.07" lengthAdjust="spacingAndGlyphs" fill="#262626" >GDMPA</text>
<line x1="726.60" y1="76.74" x2="741.30" y2="76.74" stroke="#ee1c1c" stroke-width="1.9"/>
<text x="742.60" y="79.04" font-size="5.2" textLength="10.60" lengthAdjust="spacingAndGlyphs" fill="#262626" >IMPA</text></g>
<clipPath id="clipF5"><rect x="22.30" y="209.00" width="165.30" height="152.00"/></clipPath>
<g><path d="M22.3 353.40H187.6M22.3 345.80H187.6M22.3 338.20H187.6M22.3 330.60H187.6M22.3 315.40H187.6M22.3 307.80H187.6M22.3 300.20H187.6M22.3 292.60H187.6M22.3 277.40H187.6M22.3 269.80H187.6M22.3 262.20H187.6M22.3 254.60H187.6M22.3 239.40H187.6M22.3 231.80H187.6M22.3 224.20H187.6M22.3 216.60H187.6" stroke="#e6e6e6" stroke-width="0.6"/>
<path d="" stroke="#f0f0f0" stroke-width="0.6"/>
<path d="M22.3 247.00H187.6M22.3 285.00H187.6M22.3 323.00H187.6M38.83 209.0V361.0M55.36 209.0V361.0M71.89 209.0V361.0M88.42 209.0V361.0M104.95 209.0V361.0M121.48 209.0V361.0M138.01 209.0V361.0M154.54 209.0V361.0M171.07 209.0V361.0" stroke="#e4e4e4" stroke-width="0.6"/>
<g clip-path="url(#clipF5)">
<polyline points="22.28,218.32 25.91,226.09 31.09,239.04 38.86,241.63 44.04,245.52 47.93,250.70 51.81,253.29 62.18,257.18 77.72,259.25 85.49,259.77 93.26,262.88 103.63,262.88 129.53,263.65 155.44,264.43 187.56,265.47" fill="none" stroke="#22e022" stroke-width="1.15" stroke-linejoin="round"/>
<polyline points="22.28,218.32 24.61,280.49 32.38,280.49 33.68,289.56 42.75,290.85 51.81,294.74 67.36,297.33 72.54,299.92 85.49,302.51 90.67,303.81 100.00,304.40 129.09,305.60 140.80,307.31 144.30,309.09 150.10,311.40 158.29,313.11 160.60,315.49 167.59,317.80 172.31,318.39 181.61,321.30 186.30,324.79 187.20,333.01" fill="none" stroke="#dc7a4a" stroke-width="1.15" stroke-linejoin="round"/>
<polyline points="22.28,218.83 187.56,219.61" fill="none" stroke="#cfcfcf" stroke-width="1.15" stroke-linejoin="round"/>
<polyline points="22.28,217.54 187.56,217.54" fill="none" stroke="#2c2cec" stroke-width="1.15" stroke-linejoin="round"/>
<polyline points="22.28,218.32 23.32,272.72 25.91,290.85 29.79,298.63 34.97,298.63 34.97,301.74 47.93,301.74 47.93,305.10 55.70,305.10 55.70,306.92 68.65,306.92 68.65,310.28 97.15,310.28 97.15,314.69 111.40,314.69 111.40,318.06 187.56,318.06" fill="none" stroke="#ee44ee" stroke-width="1.15" stroke-linejoin="round"/>
<polyline points="22.28,218.32 24.61,237.75 28.50,237.75 28.50,250.70 51.81,250.70 53.11,259.25 112.69,259.25 112.69,267.54 187.56,268.83" fill="none" stroke="#84b04a" stroke-width="1.15" stroke-linejoin="round"/>
<polyline points="22.28,219.61 51.81,220.13 187.56,220.39" fill="none" stroke="#262626" stroke-width="1.15" stroke-linejoin="round"/>
<polyline points="22.28,218.32 24.61,259.77 28.50,272.20 187.56,272.20" fill="none" stroke="#ee1c1c" stroke-width="1.9" stroke-linejoin="round"/>
</g>
<rect x="22.30" y="209.00" width="165.30" height="152.00" fill="none" stroke="#6a6a6a" stroke-width="0.8"/>
<path d="M22.30 361.0v-1.6M22.30 209.0v1.6M38.83 361.0v-1.6M38.83 209.0v1.6M55.36 361.0v-1.6M55.36 209.0v1.6M71.89 361.0v-1.6M71.89 209.0v1.6M88.42 361.0v-1.6M88.42 209.0v1.6M104.95 361.0v-1.6M104.95 209.0v1.6M121.48 361.0v-1.6M121.48 209.0v1.6M138.01 361.0v-1.6M138.01 209.0v1.6M154.54 361.0v-1.6M154.54 209.0v1.6M171.07 361.0v-1.6M171.07 209.0v1.6M187.60 361.0v-1.6M187.60 209.0v1.6M22.3 209.00h1.6M187.6 209.00h-1.6M22.3 247.00h1.6M187.6 247.00h-1.6M22.3 285.00h1.6M187.6 285.00h-1.6M22.3 323.00h1.6M187.6 323.00h-1.6M22.3 361.00h1.6M187.6 361.00h-1.6" stroke="#6a6a6a" stroke-width="0.6"/>
<path d="M22.3 353.40h0.9M187.6 353.40h-0.9M22.3 345.80h0.9M187.6 345.80h-0.9M22.3 338.20h0.9M187.6 338.20h-0.9M22.3 330.60h0.9M187.6 330.60h-0.9M22.3 315.40h0.9M187.6 315.40h-0.9M22.3 307.80h0.9M187.6 307.80h-0.9M22.3 300.20h0.9M187.6 300.20h-0.9M22.3 292.60h0.9M187.6 292.60h-0.9M22.3 277.40h0.9M187.6 277.40h-0.9M22.3 269.80h0.9M187.6 269.80h-0.9M22.3 262.20h0.9M187.6 262.20h-0.9M22.3 254.60h0.9M187.6 254.60h-0.9M22.3 239.40h0.9M187.6 239.40h-0.9M22.3 231.80h0.9M187.6 231.80h-0.9M22.3 224.20h0.9M187.6 224.20h-0.9M22.3 216.60h0.9M187.6 216.60h-0.9" stroke="#6a6a6a" stroke-width="0.5"/>
<text x="20.95" y="369.70" font-size="5.6" textLength="2.71" lengthAdjust="spacingAndGlyphs" fill="#262626" >0</text>
<text x="34.77" y="369.70" font-size="5.6" textLength="8.13" lengthAdjust="spacingAndGlyphs" fill="#262626" >100</text>
<text x="51.30" y="369.70" font-size="5.6" textLength="8.13" lengthAdjust="spacingAndGlyphs" fill="#262626" >200</text>
<text x="67.83" y="369.70" font-size="5.6" textLength="8.13" lengthAdjust="spacingAndGlyphs" fill="#262626" >300</text>
<text x="84.36" y="369.70" font-size="5.6" textLength="8.13" lengthAdjust="spacingAndGlyphs" fill="#262626" >400</text>
<text x="100.89" y="369.70" font-size="5.6" textLength="8.13" lengthAdjust="spacingAndGlyphs" fill="#262626" >500</text>
<text x="117.42" y="369.70" font-size="5.6" textLength="8.13" lengthAdjust="spacingAndGlyphs" fill="#262626" >600</text>
<text x="133.95" y="369.70" font-size="5.6" textLength="8.13" lengthAdjust="spacingAndGlyphs" fill="#262626" >700</text>
<text x="150.48" y="369.70" font-size="5.6" textLength="8.13" lengthAdjust="spacingAndGlyphs" fill="#262626" >800</text>
<text x="167.01" y="369.70" font-size="5.6" textLength="8.13" lengthAdjust="spacingAndGlyphs" fill="#262626" >900</text>
<text x="182.18" y="369.70" font-size="5.6" textLength="10.84" lengthAdjust="spacingAndGlyphs" fill="#262626" >1000</text>
<text x="10.52" y="212.30" font-size="5.6" textLength="5.42" lengthAdjust="spacingAndGlyphs" fill="#262626" >10</text>
<text x="15.94" y="209.50" font-size="4.3" textLength="4.16" lengthAdjust="spacingAndGlyphs" fill="#262626" >10</text>
<text x="12.60" y="250.30" font-size="5.6" textLength="5.42" lengthAdjust="spacingAndGlyphs" fill="#262626" >10</text>
<text x="18.02" y="247.50" font-size="4.3" textLength="2.08" lengthAdjust="spacingAndGlyphs" fill="#262626" >5</text>
<text x="12.60" y="288.30" font-size="5.6" textLength="5.42" lengthAdjust="spacingAndGlyphs" fill="#262626" >10</text>
<text x="18.02" y="285.50" font-size="4.3" textLength="2.08" lengthAdjust="spacingAndGlyphs" fill="#262626" >0</text>
<text x="11.36" y="326.30" font-size="5.6" textLength="5.42" lengthAdjust="spacingAndGlyphs" fill="#262626" >10</text>
<text x="16.77" y="323.50" font-size="4.3" textLength="3.33" lengthAdjust="spacingAndGlyphs" fill="#262626" >-5</text>
<text x="9.28" y="364.30" font-size="5.6" textLength="5.42" lengthAdjust="spacingAndGlyphs" fill="#262626" >10</text>
<text x="14.69" y="361.50" font-size="4.3" textLength="5.41" lengthAdjust="spacingAndGlyphs" fill="#262626" >-10</text>
<text x="94.87" y="377.70" font-size="6.2" textLength="20.16" lengthAdjust="spacingAndGlyphs" fill="#262626" >Iteration</text>
<text x="101.29" y="206.40" font-size="6.6" textLength="7.32" lengthAdjust="spacingAndGlyphs" fill="#262626" >F5</text>
<text x="-28.72" y="0.00" font-size="6.5" textLength="57.45" lengthAdjust="spacingAndGlyphs" fill="#262626" transform="translate(5.50,285.80) rotate(-90)" style="stroke-width:0.1px">Best score obtained</text>
<rect x="146.80" y="213.80" width="36.60" height="67.90" fill="#fff" stroke="#666" stroke-width="0.6"/>
<line x1="148.40" y1="218.70" x2="163.10" y2="218.70" stroke="#f2f21a" stroke-width="1.2"/>
<text x="164.40" y="221.00" font-size="5.2" textLength="11.18" lengthAdjust="spacingAndGlyphs" fill="#262626" >RIME</text>
<line x1="148.40" y1="226.03" x2="163.10" y2="226.03" stroke="#22e022" stroke-width="1.2"/>
<text x="164.40" y="228.33" font-size="5.2" textLength="12.10" lengthAdjust="spacingAndGlyphs" fill="#262626" >AVOA</text>
<line x1="148.40" y1="233.36" x2="163.10" y2="233.36" stroke="#dc7a4a" stroke-width="1.2"/>
<text x="164.40" y="235.66" font-size="5.2" textLength="9.61" lengthAdjust="spacingAndGlyphs" fill="#262626" >GTO</text>
<line x1="148.40" y1="240.69" x2="163.10" y2="240.69" stroke="#cfcfcf" stroke-width="1.2"/>
<text x="164.40" y="242.99" font-size="5.2" textLength="10.19" lengthAdjust="spacingAndGlyphs" fill="#262626" >OMA</text>
<line x1="148.40" y1="248.02" x2="163.10" y2="248.02" stroke="#2c2cec" stroke-width="1.2"/>
<text x="164.40" y="250.32" font-size="5.2" textLength="14.66" lengthAdjust="spacingAndGlyphs" fill="#262626" >IWSCA</text>
<line x1="148.40" y1="255.35" x2="163.10" y2="255.35" stroke="#ee44ee" stroke-width="1.2"/>
<text x="164.40" y="257.65" font-size="5.2" textLength="9.36" lengthAdjust="spacingAndGlyphs" fill="#262626" >MPA</text>
<line x1="148.40" y1="262.68" x2="163.10" y2="262.68" stroke="#84b04a" stroke-width="1.2"/>
<text x="164.40" y="264.98" font-size="5.2" textLength="12.34" lengthAdjust="spacingAndGlyphs" fill="#262626" >EMPA</text>
<line x1="148.40" y1="270.01" x2="163.10" y2="270.01" stroke="#262626" stroke-width="1.2"/>
<text x="164.40" y="272.31" font-size="5.2" textLength="16.07" lengthAdjust="spacingAndGlyphs" fill="#262626" >GDMPA</text>
<line x1="148.40" y1="277.34" x2="163.10" y2="277.34" stroke="#ee1c1c" stroke-width="1.9"/>
<text x="164.40" y="279.64" font-size="5.2" textLength="10.60" lengthAdjust="spacingAndGlyphs" fill="#262626" >IMPA</text></g>
<clipPath id="clipF6"><rect x="213.00" y="208.80" width="167.40" height="152.10"/></clipPath>
<g><path d="M213.0 350.04H380.4M213.0 328.31H380.4M213.0 306.58H380.4M213.0 284.85H380.4M213.0 263.12H380.4M213.0 241.39H380.4M213.0 219.66H380.4" stroke="#e6e6e6" stroke-width="0.6"/>
<path d="M213.0 357.63H380.4M213.0 355.72H380.4M213.0 354.36H380.4M213.0 353.31H380.4M213.0 352.45H380.4M213.0 351.72H380.4M213.0 351.09H380.4M213.0 350.53H380.4M213.0 346.77H380.4M213.0 344.85H380.4M213.0 343.49H380.4M213.0 342.44H380.4M213.0 341.58H380.4M213.0 340.85H380.4M213.0 340.22H380.4M213.0 339.67H380.4M213.0 335.90H380.4M213.0 333.99H380.4M213.0 332.63H380.4M213.0 331.58H380.4M213.0 330.72H380.4M213.0 329.99H380.4M213.0 329.36H380.4M213.0 328.80H380.4M213.0 325.04H380.4M213.0 323.12H380.4M213.0 321.77H380.4M213.0 320.71H380.4M213.0 319.85H380.4M213.0 319.13H380.4M213.0 318.50H380.4M213.0 317.94H380.4M213.0 314.17H380.4M213.0 312.26H380.4M213.0 310.90H380.4M213.0 309.85H380.4M213.0 308.99H380.4M213.0 308.26H380.4M213.0 307.63H380.4M213.0 307.08H380.4M213.0 303.31H380.4M213.0 301.39H380.4M213.0 300.04H380.4M213.0 298.98H380.4M213.0 298.12H380.4M213.0 297.40H380.4M213.0 296.77H380.4M213.0 296.21H380.4M213.0 292.44H380.4M213.0 290.53H380.4M213.0 289.17H380.4M213.0 288.12H380.4M213.0 287.26H380.4M213.0 286.53H380.4M213.0 285.90H380.4M213.0 285.35H380.4M213.0 281.58H380.4M213.0 279.67H380.4M213.0 278.31H380.4M213.0 277.26H380.4M213.0 276.40H380.4M213.0 275.67H380.4M213.0 275.04H380.4M213.0 274.48H380.4M213.0 270.72H380.4M213.0 268.80H380.4M213.0 267.44H380.4M213.0 266.39H380.4M213.0 265.53H380.4M213.0 264.80H380.4M213.0 264.17H380.4M213.0 263.62H380.4M213.0 259.85H380.4M213.0 257.94H380.4M213.0 256.58H380.4M213.0 255.53H380.4M213.0 254.67H380.4M213.0 253.94H380.4M213.0 253.31H380.4M213.0 252.75H380.4M213.0 248.99H380.4M213.0 247.07H380.4M213.0 245.72H380.4M213.0 244.66H380.4M213.0 243.80H380.4M213.0 243.08H380.4M213.0 242.45H380.4M213.0 241.89H380.4M213.0 238.12H380.4M213.0 236.21H380.4M213.0 234.85H380.4M213.0 233.80H380.4M213.0 232.94H380.4M213.0 232.21H380.4M213.0 231.58H380.4M213.0 231.03H380.4M213.0 227.26H380.4M213.0 225.34H380.4M213.0 223.99H380.4M213.0 222.93H380.4M213.0 222.07H380.4M213.0 221.35H380.4M213.0 220.72H380.4M213.0 220.16H380.4M213.0 216.39H380.4M213.0 214.48H380.4M213.0 213.12H380.4M213.0 212.07H380.4M213.0 211.21H380.4M213.0 210.48H380.4M213.0 209.85H380.4M213.0 209.30H380.4" stroke="#f0f0f0" stroke-width="0.6"/>
<path d="M213.0 230.53H380.4M213.0 252.26H380.4M213.0 273.99H380.4M213.0 295.71H380.4M213.0 317.44H380.4M213.0 339.17H380.4M229.74 208.8V360.9M246.48 208.8V360.9M263.22 208.8V360.9M279.96 208.8V360.9M296.70 208.8V360.9M313.44 208.8V360.9M330.18 208.8V360.9M346.92 208.8V360.9M363.66 208.8V360.9" stroke="#e4e4e4" stroke-width="0.6"/>
<g clip-path="url(#clipF6)">
<polyline points="213.00,219.90 214.70,238.90 216.10,256.50 218.10,263.30 223.60,264.60 237.10,266.70 250.70,267.60 264.20,269.40 277.80,272.10 290.00,274.80 302.30,278.50 314.60,282.80 324.50,285.80 326.90,290.80 330.60,300.60 334.30,308.00 339.20,312.90 345.40,317.20 351.50,321.50 357.70,325.20 363.80,331.40 370.00,340.00 376.10,349.80 380.50,357.20" fill="none" stroke="#f2f21a" stroke-width="1.15" stroke-linejoin="round"/>
<polyline points="213.00,219.90 218.10,229.40 223.60,236.90 227.60,238.90 235.80,240.90 238.50,245.70 245.20,246.30 254.70,251.10 264.20,253.80 271.00,257.20 275.10,258.10 290.00,260.00 302.30,262.50 314.60,264.90 326.90,266.20 339.20,268.00 378.60,272.30 380.40,273.00" fill="none" stroke="#22e022" stroke-width="1.15" stroke-linejoin="round"/>
<polyline points="213.00,219.90 214.70,238.90 216.10,256.50 218.10,262.60 223.60,264.00 237.10,266.00 250.70,267.30 264.20,268.70 277.80,269.40 290.00,269.20 324.50,269.20 326.90,272.30 330.60,277.20 335.50,279.10 339.20,279.40 376.10,279.70 379.80,280.30 380.50,286.50" fill="none" stroke="#dc7a4a" stroke-width="1.15" stroke-linejoin="round"/>
<polyline points="213.00,219.50 245.00,221.00 380.40,221.20" fill="none" stroke="#cfcfcf" stroke-width="1.15" stroke-linejoin="round"/>
<polyline points="213.00,217.50 380.40,217.50" fill="none" stroke="#2c2cec" stroke-width="1.15" stroke-linejoin="round"/>
<polyline points="213.00,259.20 214.70,272.80 216.10,280.90 218.10,282.30 219.50,288.00 257.40,288.00 260.10,288.80 380.40,288.80" fill="none" stroke="#ee44ee" stroke-width="1.15" stroke-linejoin="round"/>
<polyline points="213.00,219.90 214.10,236.20 223.60,237.50 224.20,240.50 241.20,240.50 241.40,245.70 254.70,248.40 261.50,248.60 262.20,250.40 266.90,250.40 267.60,258.10 314.40,257.90 315.00,261.00 380.40,261.00" fill="none" stroke="#84b04a" stroke-width="1.15" stroke-linejoin="round"/>
<polyline points="213.00,219.00 245.20,220.20 300.00,220.60 380.40,220.80" fill="none" stroke="#262626" stroke-width="1.15" stroke-linejoin="round"/>
<polyline points="213.00,218.60 213.40,245.70 214.10,266.00 216.10,268.70 219.50,271.40 220.80,278.20 222.20,283.60 223.60,290.40 226.30,294.50 230.30,297.80 237.10,299.90 243.90,305.30 250.70,308.00 257.40,310.70 264.20,312.10 268.30,312.10 273.70,314.80 280.50,316.80 287.30,317.50 291.30,320.20 296.20,321.50 302.30,322.80 309.70,326.50 317.10,327.70 324.50,329.50 333.10,330.80 339.20,333.20 345.40,336.30 354.00,338.80 358.90,343.10 363.80,346.10 370.00,349.80 376.10,354.80 380.50,357.20" fill="none" stroke="#ee1c1c" stroke-width="1.9" stroke-linejoin="round"/>
</g>
<rect x="213.00" y="208.80" width="167.40" height="152.10" fill="none" stroke="#6a6a6a" stroke-width="0.8"/>
<path d="M213.00 360.9v-1.6M213.00 208.8v1.6M229.74 360.9v-1.6M229.74 208.8v1.6M246.48 360.9v-1.6M246.48 208.8v1.6M263.22 360.9v-1.6M263.22 208.8v1.6M279.96 360.9v-1.6M279.96 208.8v1.6M296.70 360.9v-1.6M296.70 208.8v1.6M313.44 360.9v-1.6M313.44 208.8v1.6M330.18 360.9v-1.6M330.18 208.8v1.6M346.92 360.9v-1.6M346.92 208.8v1.6M363.66 360.9v-1.6M363.66 208.8v1.6M380.40 360.9v-1.6M380.40 208.8v1.6M213.0 208.80h1.6M380.4 208.80h-1.6M213.0 230.53h1.6M380.4 230.53h-1.6M213.0 252.26h1.6M380.4 252.26h-1.6M213.0 273.99h1.6M380.4 273.99h-1.6M213.0 295.71h1.6M380.4 295.71h-1.6M213.0 317.44h1.6M380.4 317.44h-1.6M213.0 339.17h1.6M380.4 339.17h-1.6M213.0 360.90h1.6M380.4 360.90h-1.6" stroke="#6a6a6a" stroke-width="0.6"/>
<path d="M213.0 357.63h0.9M380.4 357.63h-0.9M213.0 355.72h0.9M380.4 355.72h-0.9M213.0 354.36h0.9M380.4 354.36h-0.9M213.0 353.31h0.9M380.4 353.31h-0.9M213.0 352.45h0.9M380.4 352.45h-0.9M213.0 351.72h0.9M380.4 351.72h-0.9M213.0 351.09h0.9M380.4 351.09h-0.9M213.0 350.53h0.9M380.4 350.53h-0.9M213.0 346.77h0.9M380.4 346.77h-0.9M213.0 344.85h0.9M380.4 344.85h-0.9M213.0 343.49h0.9M380.4 343.49h-0.9M213.0 342.44h0.9M380.4 342.44h-0.9M213.0 341.58h0.9M380.4 341.58h-0.9M213.0 340.85h0.9M380.4 340.85h-0.9M213.0 340.22h0.9M380.4 340.22h-0.9M213.0 339.67h0.9M380.4 339.67h-0.9M213.0 335.90h0.9M380.4 335.90h-0.9M213.0 333.99h0.9M380.4 333.99h-0.9M213.0 332.63h0.9M380.4 332.63h-0.9M213.0 331.58h0.9M380.4 331.58h-0.9M213.0 330.72h0.9M380.4 330.72h-0.9M213.0 329.99h0.9M380.4 329.99h-0.9M213.0 329.36h0.9M380.4 329.36h-0.9M213.0 328.80h0.9M380.4 328.80h-0.9M213.0 325.04h0.9M380.4 325.04h-0.9M213.0 323.12h0.9M380.4 323.12h-0.9M213.0 321.77h0.9M380.4 321.77h-0.9M213.0 320.71h0.9M380.4 320.71h-0.9M213.0 319.85h0.9M380.4 319.85h-0.9M213.0 319.13h0.9M380.4 319.13h-0.9M213.0 318.50h0.9M380.4 318.50h-0.9M213.0 317.94h0.9M380.4 317.94h-0.9M213.0 314.17h0.9M380.4 314.17h-0.9M213.0 312.26h0.9M380.4 312.26h-0.9M213.0 310.90h0.9M380.4 310.90h-0.9M213.0 309.85h0.9M380.4 309.85h-0.9M213.0 308.99h0.9M380.4 308.99h-0.9M213.0 308.26h0.9M380.4 308.26h-0.9M213.0 307.63h0.9M380.4 307.63h-0.9M213.0 307.08h0.9M380.4 307.08h-0.9M213.0 303.31h0.9M380.4 303.31h-0.9M213.0 301.39h0.9M380.4 301.39h-0.9M213.0 300.04h0.9M380.4 300.04h-0.9M213.0 298.98h0.9M380.4 298.98h-0.9M213.0 298.12h0.9M380.4 298.12h-0.9M213.0 297.40h0.9M380.4 297.40h-0.9M213.0 296.77h0.9M380.4 296.77h-0.9M213.0 296.21h0.9M380.4 296.21h-0.9M213.0 292.44h0.9M380.4 292.44h-0.9M213.0 290.53h0.9M380.4 290.53h-0.9M213.0 289.17h0.9M380.4 289.17h-0.9M213.0 288.12h0.9M380.4 288.12h-0.9M213.0 287.26h0.9M380.4 287.26h-0.9M213.0 286.53h0.9M380.4 286.53h-0.9M213.0 285.90h0.9M380.4 285.90h-0.9M213.0 285.35h0.9M380.4 285.35h-0.9M213.0 281.58h0.9M380.4 281.58h-0.9M213.0 279.67h0.9M380.4 279.67h-0.9M213.0 278.31h0.9M380.4 278.31h-0.9M213.0 277.26h0.9M380.4 277.26h-0.9M213.0 276.40h0.9M380.4 276.40h-0.9M213.0 275.67h0.9M380.4 275.67h-0.9M213.0 275.04h0.9M380.4 275.04h-0.9M213.0 274.48h0.9M380.4 274.48h-0.9M213.0 270.72h0.9M380.4 270.72h-0.9M213.0 268.80h0.9M380.4 268.80h-0.9M213.0 267.44h0.9M380.4 267.44h-0.9M213.0 266.39h0.9M380.4 266.39h-0.9M213.0 265.53h0.9M380.4 265.53h-0.9M213.0 264.80h0.9M380.4 264.80h-0.9M213.0 264.17h0.9M380.4 264.17h-0.9M213.0 263.62h0.9M380.4 263.62h-0.9M213.0 259.85h0.9M380.4 259.85h-0.9M213.0 257.94h0.9M380.4 257.94h-0.9M213.0 256.58h0.9M380.4 256.58h-0.9M213.0 255.53h0.9M380.4 255.53h-0.9M213.0 254.67h0.9M380.4 254.67h-0.9M213.0 253.94h0.9M380.4 253.94h-0.9M213.0 253.31h0.9M380.4 253.31h-0.9M213.0 252.75h0.9M380.4 252.75h-0.9M213.0 248.99h0.9M380.4 248.99h-0.9M213.0 247.07h0.9M380.4 247.07h-0.9M213.0 245.72h0.9M380.4 245.72h-0.9M213.0 244.66h0.9M380.4 244.66h-0.9M213.0 243.80h0.9M380.4 243.80h-0.9M213.0 243.08h0.9M380.4 243.08h-0.9M213.0 242.45h0.9M380.4 242.45h-0.9M213.0 241.89h0.9M380.4 241.89h-0.9M213.0 238.12h0.9M380.4 238.12h-0.9M213.0 236.21h0.9M380.4 236.21h-0.9M213.0 234.85h0.9M380.4 234.85h-0.9M213.0 233.80h0.9M380.4 233.80h-0.9M213.0 232.94h0.9M380.4 232.94h-0.9M213.0 232.21h0.9M380.4 232.21h-0.9M213.0 231.58h0.9M380.4 231.58h-0.9M213.0 231.03h0.9M380.4 231.03h-0.9M213.0 227.26h0.9M380.4 227.26h-0.9M213.0 225.34h0.9M380.4 225.34h-0.9M213.0 223.99h0.9M380.4 223.99h-0.9M213.0 222.93h0.9M380.4 222.93h-0.9M213.0 222.07h0.9M380.4 222.07h-0.9M213.0 221.35h0.9M380.4 221.35h-0.9M213.0 220.72h0.9M380.4 220.72h-0.9M213.0 220.16h0.9M380.4 220.16h-0.9M213.0 216.39h0.9M380.4 216.39h-0.9M213.0 214.48h0.9M380.4 214.48h-0.9M213.0 213.12h0.9M380.4 213.12h-0.9M213.0 212.07h0.9M380.4 212.07h-0.9M213.0 211.21h0.9M380.4 211.21h-0.9M213.0 210.48h0.9M380.4 210.48h-0.9M213.0 209.85h0.9M380.4 209.85h-0.9M213.0 209.30h0.9M380.4 209.30h-0.9M213.0 350.04h0.9M380.4 350.04h-0.9M213.0 328.31h0.9M380.4 328.31h-0.9M213.0 306.58h0.9M380.4 306.58h-0.9M213.0 284.85h0.9M380.4 284.85h-0.9M213.0 263.12h0.9M380.4 263.12h-0.9M213.0 241.39h0.9M380.4 241.39h-0.9M213.0 219.66h0.9M380.4 219.66h-0.9" stroke="#6a6a6a" stroke-width="0.5"/>
<text x="211.65" y="369.60" font-size="5.6" textLength="2.71" lengthAdjust="spacingAndGlyphs" fill="#262626" >0</text>
<text x="225.68" y="369.60" font-size="5.6" textLength="8.13" lengthAdjust="spacingAndGlyphs" fill="#262626" >100</text>
<text x="242.42" y="369.60" font-size="5.6" textLength="8.13" lengthAdjust="spacingAndGlyphs" fill="#262626" >200</text>
<text x="259.16" y="369.60" font-size="5.6" textLength="8.13" lengthAdjust="spacingAndGlyphs" fill="#262626" >300</text>
<text x="275.90" y="369.60" font-size="5.6" textLength="8.13" lengthAdjust="spacingAndGlyphs" fill="#262626" >400</text>
<text x="292.64" y="369.60" font-size="5.6" textLength="8.13" lengthAdjust="spacingAndGlyphs" fill="#262626" >500</text>
<text x="309.38" y="369.60" font-size="5.6" textLength="8.13" lengthAdjust="spacingAndGlyphs" fill="#262626" >600</text>
<text x="326.12" y="369.60" font-size="5.6" textLength="8.13" lengthAdjust="spacingAndGlyphs" fill="#262626" >700</text>
<text x="342.86" y="369.60" font-size="5.6" textLength="8.13" lengthAdjust="spacingAndGlyphs" fill="#262626" >800</text>
<text x="359.60" y="369.60" font-size="5.6" textLength="8.13" lengthAdjust="spacingAndGlyphs" fill="#262626" >900</text>
<text x="374.98" y="369.60" font-size="5.6" textLength="10.84" lengthAdjust="spacingAndGlyphs" fill="#262626" >1000</text>
<text x="203.30" y="212.10" font-size="5.6" textLength="5.42" lengthAdjust="spacingAndGlyphs" fill="#262626" >10</text>
<text x="208.72" y="209.30" font-size="4.3" textLength="2.08" lengthAdjust="spacingAndGlyphs" fill="#262626" >6</text>
<text x="203.30" y="233.83" font-size="5.6" textLength="5.42" lengthAdjust="spacingAndGlyphs" fill="#262626" >10</text>
<text x="208.72" y="231.03" font-size="4.3" textLength="2.08" lengthAdjust="spacingAndGlyphs" fill="#262626" >4</text>
<text x="203.30" y="255.56" font-size="5.6" textLength="5.42" lengthAdjust="spacingAndGlyphs" fill="#262626" >10</text>
<text x="208.72" y="252.76" font-size="4.3" textLength="2.08" lengthAdjust="spacingAndGlyphs" fill="#262626" >2</text>
<text x="203.30" y="277.29" font-size="5.6" textLength="5.42" lengthAdjust="spacingAndGlyphs" fill="#262626" >10</text>
<text x="208.72" y="274.49" font-size="4.3" textLength="2.08" lengthAdjust="spacingAndGlyphs" fill="#262626" >0</text>
<text x="202.06" y="299.01" font-size="5.6" textLength="5.42" lengthAdjust="spacingAndGlyphs" fill="#262626" >10</text>
<text x="207.47" y="296.21" font-size="4.3" textLength="3.33" lengthAdjust="spacingAndGlyphs" fill="#262626" >-2</text>
<text x="202.06" y="320.74" font-size="5.6" textLength="5.42" lengthAdjust="spacingAndGlyphs" fill="#262626" >10</text>
<text x="207.47" y="317.94" font-size="4.3" textLength="3.33" lengthAdjust="spacingAndGlyphs" fill="#262626" >-4</text>
<text x="202.06" y="342.47" font-size="5.6" textLength="5.42" lengthAdjust="spacingAndGlyphs" fill="#262626" >10</text>
<text x="207.47" y="339.67" font-size="4.3" textLength="3.33" lengthAdjust="spacingAndGlyphs" fill="#262626" >-6</text>
<text x="202.06" y="364.20" font-size="5.6" textLength="5.42" lengthAdjust="spacingAndGlyphs" fill="#262626" >10</text>
<text x="207.47" y="361.40" font-size="4.3" textLength="3.33" lengthAdjust="spacingAndGlyphs" fill="#262626" >-8</text>
<text x="286.62" y="377.60" font-size="6.2" textLength="20.16" lengthAdjust="spacingAndGlyphs" fill="#262626" >Iteration</text>
<text x="293.04" y="206.20" font-size="6.6" textLength="7.32" lengthAdjust="spacingAndGlyphs" fill="#262626" >F6</text>
<text x="-28.72" y="0.00" font-size="6.5" textLength="57.45" lengthAdjust="spacingAndGlyphs" fill="#262626" transform="translate(198.20,285.65) rotate(-90)" style="stroke-width:0.1px">Best score obtained</text>
<rect x="339.60" y="213.60" width="36.60" height="67.90" fill="#fff" stroke="#666" stroke-width="0.6"/>
<line x1="341.20" y1="218.50" x2="355.90" y2="218.50" stroke="#f2f21a" stroke-width="1.2"/>
<text x="357.20" y="220.80" font-size="5.2" textLength="11.18" lengthAdjust="spacingAndGlyphs" fill="#262626" >RIME</text>
<line x1="341.20" y1="225.83" x2="355.90" y2="225.83" stroke="#22e022" stroke-width="1.2"/>
<text x="357.20" y="228.13" font-size="5.2" textLength="12.10" lengthAdjust="spacingAndGlyphs" fill="#262626" >AVOA</text>
<line x1="341.20" y1="233.16" x2="355.90" y2="233.16" stroke="#dc7a4a" stroke-width="1.2"/>
<text x="357.20" y="235.46" font-size="5.2" textLength="9.61" lengthAdjust="spacingAndGlyphs" fill="#262626" >GTO</text>
<line x1="341.20" y1="240.49" x2="355.90" y2="240.49" stroke="#cfcfcf" stroke-width="1.2"/>
<text x="357.20" y="242.79" font-size="5.2" textLength="10.19" lengthAdjust="spacingAndGlyphs" fill="#262626" >OMA</text>
<line x1="341.20" y1="247.82" x2="355.90" y2="247.82" stroke="#2c2cec" stroke-width="1.2"/>
<text x="357.20" y="250.12" font-size="5.2" textLength="14.66" lengthAdjust="spacingAndGlyphs" fill="#262626" >IWSCA</text>
<line x1="341.20" y1="255.15" x2="355.90" y2="255.15" stroke="#ee44ee" stroke-width="1.2"/>
<text x="357.20" y="257.45" font-size="5.2" textLength="9.36" lengthAdjust="spacingAndGlyphs" fill="#262626" >MPA</text>
<line x1="341.20" y1="262.48" x2="355.90" y2="262.48" stroke="#84b04a" stroke-width="1.2"/>
<text x="357.20" y="264.78" font-size="5.2" textLength="12.34" lengthAdjust="spacingAndGlyphs" fill="#262626" >EMPA</text>
<line x1="341.20" y1="269.81" x2="355.90" y2="269.81" stroke="#262626" stroke-width="1.2"/>
<text x="357.20" y="272.11" font-size="5.2" textLength="16.07" lengthAdjust="spacingAndGlyphs" fill="#262626" >GDMPA</text>
<line x1="341.20" y1="277.14" x2="355.90" y2="277.14" stroke="#ee1c1c" stroke-width="1.9"/>
<text x="357.20" y="279.44" font-size="5.2" textLength="10.60" lengthAdjust="spacingAndGlyphs" fill="#262626" >IMPA</text></g>
<clipPath id="clipF7"><rect x="405.70" y="209.00" width="166.90" height="152.00"/></clipPath>
<g><path d="M405.7 345.80H572.6M405.7 315.40H572.6M405.7 285.00H572.6M405.7 254.60H572.6M405.7 224.20H572.6" stroke="#e6e6e6" stroke-width="0.6"/>
<path d="M405.7 356.42H572.6M405.7 353.75H572.6M405.7 351.85H572.6M405.7 350.38H572.6M405.7 349.17H572.6M405.7 348.15H572.6M405.7 347.27H572.6M405.7 346.50H572.6M405.7 341.22H572.6M405.7 338.55H572.6M405.7 336.65H572.6M405.7 335.18H572.6M405.7 333.97H572.6M405.7 332.95H572.6M405.7 332.07H572.6M405.7 331.30H572.6M405.7 326.02H572.6M405.7 323.35H572.6M405.7 321.45H572.6M405.7 319.98H572.6M405.7 318.77H572.6M405.7 317.75H572.6M405.7 316.87H572.6M405.7 316.10H572.6M405.7 310.82H572.6M405.7 308.15H572.6M405.7 306.25H572.6M405.7 304.78H572.6M405.7 303.57H572.6M405.7 302.55H572.6M405.7 301.67H572.6M405.7 300.90H572.6M405.7 295.62H572.6M405.7 292.95H572.6M405.7 291.05H572.6M405.7 289.58H572.6M405.7 288.37H572.6M405.7 287.35H572.6M405.7 286.47H572.6M405.7 285.70H572.6M405.7 280.42H572.6M405.7 277.75H572.6M405.7 275.85H572.6M405.7 274.38H572.6M405.7 273.17H572.6M405.7 272.15H572.6M405.7 271.27H572.6M405.7 270.50H572.6M405.7 265.22H572.6M405.7 262.55H572.6M405.7 260.65H572.6M405.7 259.18H572.6M405.7 257.97H572.6M405.7 256.95H572.6M405.7 256.07H572.6M405.7 255.30H572.6M405.7 250.02H572.6M405.7 247.35H572.6M405.7 245.45H572.6M405.7 243.98H572.6M405.7 242.77H572.6M405.7 241.75H572.6M405.7 240.87H572.6M405.7 240.10H572.6M405.7 234.82H572.6M405.7 232.15H572.6M405.7 230.25H572.6M405.7 228.78H572.6M405.7 227.57H572.6M405.7 226.55H572.6M405.7 225.67H572.6M405.7 224.90H572.6M405.7 219.62H572.6M405.7 216.95H572.6M405.7 215.05H572.6M405.7 213.58H572.6M405.7 212.37H572.6M405.7 211.35H572.6M405.7 210.47H572.6M405.7 209.70H572.6" stroke="#f0f0f0" stroke-width="0.6"/>
<path d="M405.7 239.40H572.6M405.7 269.80H572.6M405.7 300.20H572.6M405.7 330.60H572.6M422.39 209.0V361.0M439.08 209.0V361.0M455.77 209.0V361.0M472.46 209.0V361.0M489.15 209.0V361.0M505.84 209.0V361.0M522.53 209.0V361.0M539.22 209.0V361.0M555.91 209.0V361.0" stroke="#e4e4e4" stroke-width="0.6"/>
<g clip-path="url(#clipF7)">
<polyline points="405.73,231.27 407.80,285.67 410.91,298.63 413.50,301.22 423.86,302.51 426.45,305.10 436.81,306.92 457.54,307.69 458.83,312.88 514.53,312.88 540.44,313.65 545.62,314.69 572.56,314.69" fill="none" stroke="#f2f21a" stroke-width="1.15" stroke-linejoin="round"/>
<polyline points="405.73,231.27 408.32,241.63 410.91,254.59 416.09,267.54 423.86,272.72 436.81,277.90 449.77,281.79 462.72,284.38 488.63,285.67 514.53,286.97 530.08,288.26 540.44,289.56 572.56,290.34" fill="none" stroke="#22e022" stroke-width="1.15" stroke-linejoin="round"/>
<polyline points="405.73,231.27 407.02,285.67 409.61,298.63 413.50,303.81 416.09,305.10 426.45,306.40 436.81,308.21 462.72,308.21 467.90,308.99 469.20,318.06 473.08,321.94 488.63,321.94 489.92,342.67 572.56,342.67" fill="none" stroke="#dc7a4a" stroke-width="1.15" stroke-linejoin="round"/>
<polyline points="405.73,231.27 416.09,233.86 572.56,234.64" fill="none" stroke="#cfcfcf" stroke-width="1.15" stroke-linejoin="round"/>
<polyline points="405.73,228.68 572.56,228.68" fill="none" stroke="#2c2cec" stroke-width="1.15" stroke-linejoin="round"/>
<polyline points="405.73,231.27 407.02,285.67 408.32,298.63 410.91,301.22 413.50,308.99 416.09,315.47 423.86,319.35 436.81,320.65 453.65,320.65 453.65,325.83 509.35,325.83 510.65,329.72 572.56,329.72" fill="none" stroke="#ee44ee" stroke-width="1.15" stroke-linejoin="round"/>
<polyline points="405.73,231.27 408.32,245.52 410.91,248.11 418.68,249.40 422.56,255.88 430.34,258.47 436.81,261.06 444.59,261.06 447.18,267.54 454.95,267.54 456.24,274.02 475.67,274.02 476.97,275.31 498.99,275.31 501.58,277.90 509.35,277.90 510.65,282.56 546.92,282.56 548.21,285.16 572.56,285.16" fill="none" stroke="#84b04a" stroke-width="1.15" stroke-linejoin="round"/>
<polyline points="405.73,231.27 416.09,234.38 572.56,235.16" fill="none" stroke="#262626" stroke-width="1.15" stroke-linejoin="round"/>
<polyline points="405.73,231.27 407.02,308.99 408.32,318.06 413.50,318.06 414.79,323.24 425.16,323.24 426.45,325.83 467.90,325.83 469.20,332.31 484.74,332.31 486.04,346.55 504.17,346.55 505.47,347.07 572.56,347.07" fill="none" stroke="#ee1c1c" stroke-width="1.9" stroke-linejoin="round"/>
</g>
<rect x="405.70" y="209.00" width="166.90" height="152.00" fill="none" stroke="#6a6a6a" stroke-width="0.8"/>
<path d="M405.70 361.0v-1.6M405.70 209.0v1.6M422.39 361.0v-1.6M422.39 209.0v1.6M439.08 361.0v-1.6M439.08 209.0v1.6M455.77 361.0v-1.6M455.77 209.0v1.6M472.46 361.0v-1.6M472.46 209.0v1.6M489.15 361.0v-1.6M489.15 209.0v1.6M505.84 361.0v-1.6M505.84 209.0v1.6M522.53 361.0v-1.6M522.53 209.0v1.6M539.22 361.0v-1.6M539.22 209.0v1.6M555.91 361.0v-1.6M555.91 209.0v1.6M572.60 361.0v-1.6M572.60 209.0v1.6M405.7 209.00h1.6M572.6 209.00h-1.6M405.7 239.40h1.6M572.6 239.40h-1.6M405.7 269.80h1.6M572.6 269.80h-1.6M405.7 300.20h1.6M572.6 300.20h-1.6M405.7 330.60h1.6M572.6 330.60h-1.6M405.7 361.00h1.6M572.6 361.00h-1.6" stroke="#6a6a6a" stroke-width="0.6"/>
<path d="M405.7 356.42h0.9M572.6 356.42h-0.9M405.7 353.75h0.9M572.6 353.75h-0.9M405.7 351.85h0.9M572.6 351.85h-0.9M405.7 350.38h0.9M572.6 350.38h-0.9M405.7 349.17h0.9M572.6 349.17h-0.9M405.7 348.15h0.9M572.6 348.15h-0.9M405.7 347.27h0.9M572.6 347.27h-0.9M405.7 346.50h0.9M572.6 346.50h-0.9M405.7 341.22h0.9M572.6 341.22h-0.9M405.7 338.55h0.9M572.6 338.55h-0.9M405.7 336.65h0.9M572.6 336.65h-0.9M405.7 335.18h0.9M572.6 335.18h-0.9M405.7 333.97h0.9M572.6 333.97h-0.9M405.7 332.95h0.9M572.6 332.95h-0.9M405.7 332.07h0.9M572.6 332.07h-0.9M405.7 331.30h0.9M572.6 331.30h-0.9M405.7 326.02h0.9M572.6 326.02h-0.9M405.7 323.35h0.9M572.6 323.35h-0.9M405.7 321.45h0.9M572.6 321.45h-0.9M405.7 319.98h0.9M572.6 319.98h-0.9M405.7 318.77h0.9M572.6 318.77h-0.9M405.7 317.75h0.9M572.6 317.75h-0.9M405.7 316.87h0.9M572.6 316.87h-0.9M405.7 316.10h0.9M572.6 316.10h-0.9M405.7 310.82h0.9M572.6 310.82h-0.9M405.7 308.15h0.9M572.6 308.15h-0.9M405.7 306.25h0.9M572.6 306.25h-0.9M405.7 304.78h0.9M572.6 304.78h-0.9M405.7 303.57h0.9M572.6 303.57h-0.9M405.7 302.55h0.9M572.6 302.55h-0.9M405.7 301.67h0.9M572.6 301.67h-0.9M405.7 300.90h0.9M572.6 300.90h-0.9M405.7 295.62h0.9M572.6 295.62h-0.9M405.7 292.95h0.9M572.6 292.95h-0.9M405.7 291.05h0.9M572.6 291.05h-0.9M405.7 289.58h0.9M572.6 289.58h-0.9M405.7 288.37h0.9M572.6 288.37h-0.9M405.7 287.35h0.9M572.6 287.35h-0.9M405.7 286.47h0.9M572.6 286.47h-0.9M405.7 285.70h0.9M572.6 285.70h-0.9M405.7 280.42h0.9M572.6 280.42h-0.9M405.7 277.75h0.9M572.6 277.75h-0.9M405.7 275.85h0.9M572.6 275.85h-0.9M405.7 274.38h0.9M572.6 274.38h-0.9M405.7 273.17h0.9M572.6 273.17h-0.9M405.7 272.15h0.9M572.6 272.15h-0.9M405.7 271.27h0.9M572.6 271.27h-0.9M405.7 270.50h0.9M572.6 270.50h-0.9M405.7 265.22h0.9M572.6 265.22h-0.9M405.7 262.55h0.9M572.6 262.55h-0.9M405.7 260.65h0.9M572.6 260.65h-0.9M405.7 259.18h0.9M572.6 259.18h-0.9M405.7 257.97h0.9M572.6 257.97h-0.9M405.7 256.95h0.9M572.6 256.95h-0.9M405.7 256.07h0.9M572.6 256.07h-0.9M405.7 255.30h0.9M572.6 255.30h-0.9M405.7 250.02h0.9M572.6 250.02h-0.9M405.7 247.35h0.9M572.6 247.35h-0.9M405.7 245.45h0.9M572.6 245.45h-0.9M405.7 243.98h0.9M572.6 243.98h-0.9M405.7 242.77h0.9M572.6 242.77h-0.9M405.7 241.75h0.9M572.6 241.75h-0.9M405.7 240.87h0.9M572.6 240.87h-0.9M405.7 240.10h0.9M572.6 240.10h-0.9M405.7 234.82h0.9M572.6 234.82h-0.9M405.7 232.15h0.9M572.6 232.15h-0.9M405.7 230.25h0.9M572.6 230.25h-0.9M405.7 228.78h0.9M572.6 228.78h-0.9M405.7 227.57h0.9M572.6 227.57h-0.9M405.7 226.55h0.9M572.6 226.55h-0.9M405.7 225.67h0.9M572.6 225.67h-0.9M405.7 224.90h0.9M572.6 224.90h-0.9M405.7 219.62h0.9M572.6 219.62h-0.9M405.7 216.95h0.9M572.6 216.95h-0.9M405.7 215.05h0.9M572.6 215.05h-0.9M405.7 213.58h0.9M572.6 213.58h-0.9M405.7 212.37h0.9M572.6 212.37h-0.9M405.7 211.35h0.9M572.6 211.35h-0.9M405.7 210.47h0.9M572.6 210.47h-0.9M405.7 209.70h0.9M572.6 209.70h-0.9M405.7 345.80h0.9M572.6 345.80h-0.9M405.7 315.40h0.9M572.6 315.40h-0.9M405.7 285.00h0.9M572.6 285.00h-0.9M405.7 254.60h0.9M572.6 254.60h-0.9M405.7 224.20h0.9M572.6 224.20h-0.9" stroke="#6a6a6a" stroke-width="0.5"/>
<text x="404.35" y="369.70" font-size="5.6" textLength="2.71" lengthAdjust="spacingAndGlyphs" fill="#262626" >0</text>
<text x="418.33" y="369.70" font-size="5.6" textLength="8.13" lengthAdjust="spacingAndGlyphs" fill="#262626" >100</text>
<text x="435.02" y="369.70" font-size="5.6" textLength="8.13" lengthAdjust="spacingAndGlyphs" fill="#262626" >200</text>
<text x="451.71" y="369.70" font-size="5.6" textLength="8.13" lengthAdjust="spacingAndGlyphs" fill="#262626" >300</text>
<text x="468.40" y="369.70" font-size="5.6" textLength="8.13" lengthAdjust="spacingAndGlyphs" fill="#262626" >400</text>
<text x="485.09" y="369.70" font-size="5.6" textLength="8.13" lengthAdjust="spacingAndGlyphs" fill="#262626" >500</text>
<text x="501.78" y="369.70" font-size="5.6" textLength="8.13" lengthAdjust="spacingAndGlyphs" fill="#262626" >600</text>
<text x="518.47" y="369.70" font-size="5.6" textLength="8.13" lengthAdjust="spacingAndGlyphs" fill="#262626" >700</text>
<text x="535.16" y="369.70" font-size="5.6" textLength="8.13" lengthAdjust="spacingAndGlyphs" fill="#262626" >800</text>
<text x="551.85" y="369.70" font-size="5.6" textLength="8.13" lengthAdjust="spacingAndGlyphs" fill="#262626" >900</text>
<text x="567.18" y="369.70" font-size="5.6" textLength="10.84" lengthAdjust="spacingAndGlyphs" fill="#262626" >1000</text>
<text x="396.00" y="212.30" font-size="5.6" textLength="5.42" lengthAdjust="spacingAndGlyphs" fill="#262626" >10</text>
<text x="401.42" y="209.50" font-size="4.3" textLength="2.08" lengthAdjust="spacingAndGlyphs" fill="#262626" >4</text>
<text x="396.00" y="242.70" font-size="5.6" textLength="5.42" lengthAdjust="spacingAndGlyphs" fill="#262626" >10</text>
<text x="401.42" y="239.90" font-size="4.3" textLength="2.08" lengthAdjust="spacingAndGlyphs" fill="#262626" >2</text>
<text x="396.00" y="273.10" font-size="5.6" textLength="5.42" lengthAdjust="spacingAndGlyphs" fill="#262626" >10</text>
<text x="401.42" y="270.30" font-size="4.3" textLength="2.08" lengthAdjust="spacingAndGlyphs" fill="#262626" >0</text>
<text x="394.76" y="303.50" font-size="5.6" textLength="5.42" lengthAdjust="spacingAndGlyphs" fill="#262626" >10</text>
<text x="400.17" y="300.70" font-size="4.3" textLength="3.33" lengthAdjust="spacingAndGlyphs" fill="#262626" >-2</text>
<text x="394.76" y="333.90" font-size="5.6" textLength="5.42" lengthAdjust="spacingAndGlyphs" fill="#262626" >10</text>
<text x="400.17" y="331.10" font-size="4.3" textLength="3.33" lengthAdjust="spacingAndGlyphs" fill="#262626" >-4</text>
<text x="394.76" y="364.30" font-size="5.6" textLength="5.42" lengthAdjust="spacingAndGlyphs" fill="#262626" >10</text>
<text x="400.17" y="361.50" font-size="4.3" textLength="3.33" lengthAdjust="spacingAndGlyphs" fill="#262626" >-6</text>
<text x="479.07" y="377.70" font-size="6.2" textLength="20.16" lengthAdjust="spacingAndGlyphs" fill="#262626" >Iteration</text>
<text x="485.49" y="206.40" font-size="6.6" textLength="7.32" lengthAdjust="spacingAndGlyphs" fill="#262626" >F7</text>
<text x="-28.72" y="0.00" font-size="6.5" textLength="57.45" lengthAdjust="spacingAndGlyphs" fill="#262626" transform="translate(390.90,285.80) rotate(-90)" style="stroke-width:0.1px">Best score obtained</text>
<rect x="531.80" y="213.80" width="36.60" height="67.90" fill="#fff" stroke="#666" stroke-width="0.6"/>
<line x1="533.40" y1="218.70" x2="548.10" y2="218.70" stroke="#f2f21a" stroke-width="1.2"/>
<text x="549.40" y="221.00" font-size="5.2" textLength="11.18" lengthAdjust="spacingAndGlyphs" fill="#262626" >RIME</text>
<line x1="533.40" y1="226.03" x2="548.10" y2="226.03" stroke="#22e022" stroke-width="1.2"/>
<text x="549.40" y="228.33" font-size="5.2" textLength="12.10" lengthAdjust="spacingAndGlyphs" fill="#262626" >AVOA</text>
<line x1="533.40" y1="233.36" x2="548.10" y2="233.36" stroke="#dc7a4a" stroke-width="1.2"/>
<text x="549.40" y="235.66" font-size="5.2" textLength="9.61" lengthAdjust="spacingAndGlyphs" fill="#262626" >GTO</text>
<line x1="533.40" y1="240.69" x2="548.10" y2="240.69" stroke="#cfcfcf" stroke-width="1.2"/>
<text x="549.40" y="242.99" font-size="5.2" textLength="10.19" lengthAdjust="spacingAndGlyphs" fill="#262626" >OMA</text>
<line x1="533.40" y1="248.02" x2="548.10" y2="248.02" stroke="#2c2cec" stroke-width="1.2"/>
<text x="549.40" y="250.32" font-size="5.2" textLength="14.66" lengthAdjust="spacingAndGlyphs" fill="#262626" >IWSCA</text>
<line x1="533.40" y1="255.35" x2="548.10" y2="255.35" stroke="#ee44ee" stroke-width="1.2"/>
<text x="549.40" y="257.65" font-size="5.2" textLength="9.36" lengthAdjust="spacingAndGlyphs" fill="#262626" >MPA</text>
<line x1="533.40" y1="262.68" x2="548.10" y2="262.68" stroke="#84b04a" stroke-width="1.2"/>
<text x="549.40" y="264.98" font-size="5.2" textLength="12.34" lengthAdjust="spacingAndGlyphs" fill="#262626" >EMPA</text>
<line x1="533.40" y1="270.01" x2="548.10" y2="270.01" stroke="#262626" stroke-width="1.2"/>
<text x="549.40" y="272.31" font-size="5.2" textLength="16.07" lengthAdjust="spacingAndGlyphs" fill="#262626" >GDMPA</text>
<line x1="533.40" y1="277.34" x2="548.10" y2="277.34" stroke="#ee1c1c" stroke-width="1.9"/>
<text x="549.40" y="279.64" font-size="5.2" textLength="10.60" lengthAdjust="spacingAndGlyphs" fill="#262626" >IMPA</text></g>
<clipPath id="clipF8"><rect x="598.40" y="209.00" width="167.40" height="152.00"/></clipPath>
<g><path d="M598.4 224.25H765.8M598.4 233.17H765.8M598.4 239.50H765.8M598.4 244.41H765.8M598.4 248.43H765.8M598.4 251.82H765.8M598.4 254.76H765.8M598.4 257.35H765.8M598.4 274.92H765.8M598.4 283.84H765.8M598.4 290.17H765.8M598.4 295.08H765.8M598.4 299.09H765.8M598.4 302.48H765.8M598.4 305.42H765.8M598.4 308.01H765.8M598.4 325.59H765.8M598.4 334.51H765.8M598.4 340.84H765.8M598.4 345.75H765.8M598.4 349.76H765.8M598.4 353.15H765.8M598.4 356.09H765.8M598.4 358.68H765.8" stroke="#f0f0f0" stroke-width="0.6"/>
<path d="M598.4 259.67H765.8M598.4 310.33H765.8M615.14 209.0V361.0M631.88 209.0V361.0M648.62 209.0V361.0M665.36 209.0V361.0M682.10 209.0V361.0M698.84 209.0V361.0M715.58 209.0V361.0M732.32 209.0V361.0M749.06 209.0V361.0" stroke="#e4e4e4" stroke-width="0.6"/>
<g clip-path="url(#clipF8)">
<polyline points="598.64,292.02 602.61,298.63 624.63,300.83 635.64,301.93 637.84,305.23 668.67,306.34 684.09,310.74 710.51,312.94 714.92,316.25 728.13,317.35 766.01,320.21" fill="none" stroke="#f2f21a" stroke-width="1.15" stroke-linejoin="round"/>
<polyline points="598.64,292.02 602.61,300.83 605.91,314.04 609.21,316.25 620.22,317.35 624.63,319.55 640.04,321.75 766.01,322.41" fill="none" stroke="#22e022" stroke-width="1.15" stroke-linejoin="round"/>
<polyline points="598.64,287.62 601.51,294.22 607.01,297.53 626.83,299.73 635.64,300.83 668.67,303.03 706.11,305.23 710.51,307.44 714.92,312.94 723.73,314.04 766.01,315.14" fill="none" stroke="#dc7a4a" stroke-width="1.15" stroke-linejoin="round"/>
<polyline points="598.40,218.80 765.80,218.80" fill="none" stroke="#2c2cec" stroke-width="1.15" stroke-linejoin="round"/>
<polyline points="598.64,292.02 600.40,297.53 609.21,298.63 626.83,299.73 668.67,301.93 766.01,303.03" fill="none" stroke="#ee44ee" stroke-width="1.15" stroke-linejoin="round"/>
<polyline points="598.64,292.02 604.81,303.03 622.43,305.23 631.23,307.44 651.05,309.64 684.09,311.84 710.51,312.94 766.01,313.60" fill="none" stroke="#84b04a" stroke-width="1.15" stroke-linejoin="round"/>
<polyline points="598.64,292.02 600.40,300.83 618.02,301.27 668.67,301.93 670.87,303.47 736.94,304.13 739.14,304.79 766.01,304.79" fill="none" stroke="#262626" stroke-width="1.15" stroke-linejoin="round"/>
<polyline points="598.64,283.21 599.30,325.05 640.04,326.16 766.01,326.82" fill="none" stroke="#ee1c1c" stroke-width="1.9" stroke-linejoin="round"/>
</g>
<rect x="598.40" y="209.00" width="167.40" height="152.00" fill="none" stroke="#6a6a6a" stroke-width="0.8"/>
<path d="M598.40 361.0v-1.6M598.40 209.0v1.6M615.14 361.0v-1.6M615.14 209.0v1.6M631.88 361.0v-1.6M631.88 209.0v1.6M648.62 361.0v-1.6M648.62 209.0v1.6M665.36 361.0v-1.6M665.36 209.0v1.6M682.10 361.0v-1.6M682.10 209.0v1.6M698.84 361.0v-1.6M698.84 209.0v1.6M715.58 361.0v-1.6M715.58 209.0v1.6M732.32 361.0v-1.6M732.32 209.0v1.6M749.06 361.0v-1.6M749.06 209.0v1.6M765.80 361.0v-1.6M765.80 209.0v1.6M598.4 209.00h1.6M765.8 209.00h-1.6M598.4 259.67h1.6M765.8 259.67h-1.6M598.4 310.33h1.6M765.8 310.33h-1.6M598.4 361.00h1.6M765.8 361.00h-1.6" stroke="#6a6a6a" stroke-width="0.6"/>
<path d="M598.4 224.25h0.9M765.8 224.25h-0.9M598.4 233.17h0.9M765.8 233.17h-0.9M598.4 239.50h0.9M765.8 239.50h-0.9M598.4 244.41h0.9M765.8 244.41h-0.9M598.4 248.43h0.9M765.8 248.43h-0.9M598.4 251.82h0.9M765.8 251.82h-0.9M598.4 254.76h0.9M765.8 254.76h-0.9M598.4 257.35h0.9M765.8 257.35h-0.9M598.4 274.92h0.9M765.8 274.92h-0.9M598.4 283.84h0.9M765.8 283.84h-0.9M598.4 290.17h0.9M765.8 290.17h-0.9M598.4 295.08h0.9M765.8 295.08h-0.9M598.4 299.09h0.9M765.8 299.09h-0.9M598.4 302.48h0.9M765.8 302.48h-0.9M598.4 305.42h0.9M765.8 305.42h-0.9M598.4 308.01h0.9M765.8 308.01h-0.9M598.4 325.59h0.9M765.8 325.59h-0.9M598.4 334.51h0.9M765.8 334.51h-0.9M598.4 340.84h0.9M765.8 340.84h-0.9M598.4 345.75h0.9M765.8 345.75h-0.9M598.4 349.76h0.9M765.8 349.76h-0.9M598.4 353.15h0.9M765.8 353.15h-0.9M598.4 356.09h0.9M765.8 356.09h-0.9M598.4 358.68h0.9M765.8 358.68h-0.9" stroke="#6a6a6a" stroke-width="0.5"/>
<text x="597.05" y="369.70" font-size="5.6" textLength="2.71" lengthAdjust="spacingAndGlyphs" fill="#262626" >0</text>
<text x="611.08" y="369.70" font-size="5.6" textLength="8.13" lengthAdjust="spacingAndGlyphs" fill="#262626" >100</text>
<text x="627.82" y="369.70" font-size="5.6" textLength="8.13" lengthAdjust="spacingAndGlyphs" fill="#262626" >200</text>
<text x="644.56" y="369.70" font-size="5.6" textLength="8.13" lengthAdjust="spacingAndGlyphs" fill="#262626" >300</text>
<text x="661.30" y="369.70" font-size="5.6" textLength="8.13" lengthAdjust="spacingAndGlyphs" fill="#262626" >400</text>
<text x="678.04" y="369.70" font-size="5.6" textLength="8.13" lengthAdjust="spacingAndGlyphs" fill="#262626" >500</text>
<text x="694.78" y="369.70" font-size="5.6" textLength="8.13" lengthAdjust="spacingAndGlyphs" fill="#262626" >600</text>
<text x="711.52" y="369.70" font-size="5.6" textLength="8.13" lengthAdjust="spacingAndGlyphs" fill="#262626" >700</text>
<text x="728.26" y="369.70" font-size="5.6" textLength="8.13" lengthAdjust="spacingAndGlyphs" fill="#262626" >800</text>
<text x="745.00" y="369.70" font-size="5.6" textLength="8.13" lengthAdjust="spacingAndGlyphs" fill="#262626" >900</text>
<text x="760.38" y="369.70" font-size="5.6" textLength="10.84" lengthAdjust="spacingAndGlyphs" fill="#262626" >1000</text>
<text x="587.08" y="212.30" font-size="5.6" textLength="7.04" lengthAdjust="spacingAndGlyphs" fill="#262626" >-10</text>
<text x="594.12" y="209.50" font-size="4.3" textLength="2.08" lengthAdjust="spacingAndGlyphs" fill="#262626" >2</text>
<text x="587.08" y="262.97" font-size="5.6" textLength="7.04" lengthAdjust="spacingAndGlyphs" fill="#262626" >-10</text>
<text x="594.12" y="260.17" font-size="4.3" textLength="2.08" lengthAdjust="spacingAndGlyphs" fill="#262626" >3</text>
<text x="587.08" y="313.63" font-size="5.6" textLength="7.04" lengthAdjust="spacingAndGlyphs" fill="#262626" >-10</text>
<text x="594.12" y="310.83" font-size="4.3" textLength="2.08" lengthAdjust="spacingAndGlyphs" fill="#262626" >4</text>
<text x="587.08" y="364.30" font-size="5.6" textLength="7.04" lengthAdjust="spacingAndGlyphs" fill="#262626" >-10</text>
<text x="594.12" y="361.50" font-size="4.3" textLength="2.08" lengthAdjust="spacingAndGlyphs" fill="#262626" >5</text>
<text x="672.02" y="377.70" font-size="6.2" textLength="20.16" lengthAdjust="spacingAndGlyphs" fill="#262626" >Iteration</text>
<text x="678.44" y="206.40" font-size="6.6" textLength="7.32" lengthAdjust="spacingAndGlyphs" fill="#262626" >F8</text>
<text x="-28.72" y="0.00" font-size="6.5" textLength="57.45" lengthAdjust="spacingAndGlyphs" fill="#262626" transform="translate(583.60,285.80) rotate(-90)" style="stroke-width:0.1px">Best score obtained</text>
<rect x="725.00" y="213.80" width="36.60" height="67.90" fill="#fff" stroke="#666" stroke-width="0.6"/>
<line x1="726.60" y1="218.70" x2="741.30" y2="218.70" stroke="#f2f21a" stroke-width="1.2"/>
<text x="742.60" y="221.00" font-size="5.2" textLength="11.18" lengthAdjust="spacingAndGlyphs" fill="#262626" >RIME</text>
<line x1="726.60" y1="226.03" x2="741.30" y2="226.03" stroke="#22e022" stroke-width="1.2"/>
<text x="742.60" y="228.33" font-size="5.2" textLength="12.10" lengthAdjust="spacingAndGlyphs" fill="#262626" >AVOA</text>
<line x1="726.60" y1="233.36" x2="741.30" y2="233.36" stroke="#dc7a4a" stroke-width="1.2"/>
<text x="742.60" y="235.66" font-size="5.2" textLength="9.61" lengthAdjust="spacingAndGlyphs" fill="#262626" >GTO</text>
<line x1="726.60" y1="240.69" x2="741.30" y2="240.69" stroke="#cfcfcf" stroke-width="1.2"/>
<text x="742.60" y="242.99" font-size="5.2" textLength="10.19" lengthAdjust="spacingAndGlyphs" fill="#262626" >OMA</text>
<line x1="726.60" y1="248.02" x2="741.30" y2="248.02" stroke="#2c2cec" stroke-width="1.2"/>
<text x="742.60" y="250.32" font-size="5.2" textLength="14.66" lengthAdjust="spacingAndGlyphs" fill="#262626" >IWSCA</text>
<line x1="726.60" y1="255.35" x2="741.30" y2="255.35" stroke="#ee44ee" stroke-width="1.2"/>
<text x="742.60" y="257.65" font-size="5.2" textLength="9.36" lengthAdjust="spacingAndGlyphs" fill="#262626" >MPA</text>
<line x1="726.60" y1="262.68" x2="741.30" y2="262.68" stroke="#84b04a" stroke-width="1.2"/>
<text x="742.60" y="264.98" font-size="5.2" textLength="12.34" lengthAdjust="spacingAndGlyphs" fill="#262626" >EMPA</text>
<line x1="726.60" y1="270.01" x2="741.30" y2="270.01" stroke="#262626" stroke-width="1.2"/>
<text x="742.60" y="272.31" font-size="5.2" textLength="16.07" lengthAdjust="spacingAndGlyphs" fill="#262626" >GDMPA</text>
<line x1="726.60" y1="277.34" x2="741.30" y2="277.34" stroke="#ee1c1c" stroke-width="1.9"/>
<text x="742.60" y="279.64" font-size="5.2" textLength="10.60" lengthAdjust="spacingAndGlyphs" fill="#262626" >IMPA</text></g>
<clipPath id="clipF9"><rect x="22.30" y="408.80" width="165.30" height="152.40"/></clipPath>
<g><path d="M22.3 553.58H187.6M22.3 545.96H187.6M22.3 538.34H187.6M22.3 530.72H187.6M22.3 515.48H187.6M22.3 507.86H187.6M22.3 500.24H187.6M22.3 492.62H187.6M22.3 477.38H187.6M22.3 469.76H187.6M22.3 462.14H187.6M22.3 454.52H187.6M22.3 439.28H187.6M22.3 431.66H187.6M22.3 424.04H187.6M22.3 416.42H187.6" stroke="#e6e6e6" stroke-width="0.6"/>
<path d="" stroke="#f0f0f0" stroke-width="0.6"/>
<path d="M22.3 446.90H187.6M22.3 485.00H187.6M22.3 523.10H187.6M38.83 408.8V561.2M55.36 408.8V561.2M71.89 408.8V561.2M88.42 408.8V561.2M104.95 408.8V561.2M121.48 408.8V561.2M138.01 408.8V561.2M154.54 408.8V561.2M171.07 408.8V561.2" stroke="#e4e4e4" stroke-width="0.6"/>
<g clip-path="url(#clipF9)">
<polyline points="22.30,425.10 25.40,432.10 26.80,436.20 28.10,443.00 30.90,455.20 33.60,467.40 36.30,481.00 39.00,497.30 41.70,521.70 44.60,547.00 45.30,548.00" fill="none" stroke="#f2f21a" stroke-width="1.15" stroke-linejoin="round"/>
<polyline points="22.30,425.10 29.50,428.10 45.80,429.20 48.50,430.10 80.00,430.50 150.00,430.70 187.60,431.00" fill="none" stroke="#22e022" stroke-width="1.15" stroke-linejoin="round"/>
<polyline points="22.30,425.10 25.40,432.10 26.80,436.20 28.10,443.00 30.90,455.20 33.60,467.40 36.30,481.00 39.00,497.30 41.70,521.70 44.20,547.50" fill="none" stroke="#dc7a4a" stroke-width="1.15" stroke-linejoin="round"/>
<polyline points="22.30,424.80 187.60,424.80" fill="none" stroke="#cfcfcf" stroke-width="1.15" stroke-linejoin="round"/>
<polyline points="22.30,424.10 187.60,424.10" fill="none" stroke="#2c2cec" stroke-width="1.15" stroke-linejoin="round"/>
<polyline points="22.30,425.10 23.40,445.70 24.80,462.00 25.40,476.90 26.10,481.00 27.50,500.00 28.10,516.30 29.50,517.70 29.80,544.80" fill="none" stroke="#ee44ee" stroke-width="1.15" stroke-linejoin="round"/>
<polyline points="22.30,425.10 28.10,430.10 80.00,430.80 120.00,431.20 187.60,433.50" fill="none" stroke="#84b04a" stroke-width="1.15" stroke-linejoin="round"/>
<polyline points="22.30,425.40 187.60,425.40" fill="none" stroke="#262626" stroke-width="1.15" stroke-linejoin="round"/>
<polyline points="22.30,425.10 23.40,438.90 24.80,472.90 26.10,545.50" fill="none" stroke="#ee1c1c" stroke-width="1.9" stroke-linejoin="round"/>
</g>
<rect x="22.30" y="408.80" width="165.30" height="152.40" fill="none" stroke="#6a6a6a" stroke-width="0.8"/>
<path d="M22.30 561.2v-1.6M22.30 408.8v1.6M38.83 561.2v-1.6M38.83 408.8v1.6M55.36 561.2v-1.6M55.36 408.8v1.6M71.89 561.2v-1.6M71.89 408.8v1.6M88.42 561.2v-1.6M88.42 408.8v1.6M104.95 561.2v-1.6M104.95 408.8v1.6M121.48 561.2v-1.6M121.48 408.8v1.6M138.01 561.2v-1.6M138.01 408.8v1.6M154.54 561.2v-1.6M154.54 408.8v1.6M171.07 561.2v-1.6M171.07 408.8v1.6M187.60 561.2v-1.6M187.60 408.8v1.6M22.3 408.80h1.6M187.6 408.80h-1.6M22.3 446.90h1.6M187.6 446.90h-1.6M22.3 485.00h1.6M187.6 485.00h-1.6M22.3 523.10h1.6M187.6 523.10h-1.6M22.3 561.20h1.6M187.6 561.20h-1.6" stroke="#6a6a6a" stroke-width="0.6"/>
<path d="M22.3 553.58h0.9M187.6 553.58h-0.9M22.3 545.96h0.9M187.6 545.96h-0.9M22.3 538.34h0.9M187.6 538.34h-0.9M22.3 530.72h0.9M187.6 530.72h-0.9M22.3 515.48h0.9M187.6 515.48h-0.9M22.3 507.86h0.9M187.6 507.86h-0.9M22.3 500.24h0.9M187.6 500.24h-0.9M22.3 492.62h0.9M187.6 492.62h-0.9M22.3 477.38h0.9M187.6 477.38h-0.9M22.3 469.76h0.9M187.6 469.76h-0.9M22.3 462.14h0.9M187.6 462.14h-0.9M22.3 454.52h0.9M187.6 454.52h-0.9M22.3 439.28h0.9M187.6 439.28h-0.9M22.3 431.66h0.9M187.6 431.66h-0.9M22.3 424.04h0.9M187.6 424.04h-0.9M22.3 416.42h0.9M187.6 416.42h-0.9" stroke="#6a6a6a" stroke-width="0.5"/>
<text x="20.95" y="569.90" font-size="5.6" textLength="2.71" lengthAdjust="spacingAndGlyphs" fill="#262626" >0</text>
<text x="34.77" y="569.90" font-size="5.6" textLength="8.13" lengthAdjust="spacingAndGlyphs" fill="#262626" >100</text>
<text x="51.30" y="569.90" font-size="5.6" textLength="8.13" lengthAdjust="spacingAndGlyphs" fill="#262626" >200</text>
<text x="67.83" y="569.90" font-size="5.6" textLength="8.13" lengthAdjust="spacingAndGlyphs" fill="#262626" >300</text>
<text x="84.36" y="569.90" font-size="5.6" textLength="8.13" lengthAdjust="spacingAndGlyphs" fill="#262626" >400</text>
<text x="100.89" y="569.90" font-size="5.6" textLength="8.13" lengthAdjust="spacingAndGlyphs" fill="#262626" >500</text>
<text x="117.42" y="569.90" font-size="5.6" textLength="8.13" lengthAdjust="spacingAndGlyphs" fill="#262626" >600</text>
<text x="133.95" y="569.90" font-size="5.6" textLength="8.13" lengthAdjust="spacingAndGlyphs" fill="#262626" >700</text>
<text x="150.48" y="569.90" font-size="5.6" textLength="8.13" lengthAdjust="spacingAndGlyphs" fill="#262626" >800</text>
<text x="167.01" y="569.90" font-size="5.6" textLength="8.13" lengthAdjust="spacingAndGlyphs" fill="#262626" >900</text>
<text x="182.18" y="569.90" font-size="5.6" textLength="10.84" lengthAdjust="spacingAndGlyphs" fill="#262626" >1000</text>
<text x="12.60" y="412.10" font-size="5.6" textLength="5.42" lengthAdjust="spacingAndGlyphs" fill="#262626" >10</text>
<text x="18.02" y="409.30" font-size="4.3" textLength="2.08" lengthAdjust="spacingAndGlyphs" fill="#262626" >5</text>
<text x="12.60" y="450.20" font-size="5.6" textLength="5.42" lengthAdjust="spacingAndGlyphs" fill="#262626" >10</text>
<text x="18.02" y="447.40" font-size="4.3" textLength="2.08" lengthAdjust="spacingAndGlyphs" fill="#262626" >0</text>
<text x="11.36" y="488.30" font-size="5.6" textLength="5.42" lengthAdjust="spacingAndGlyphs" fill="#262626" >10</text>
<text x="16.77" y="485.50" font-size="4.3" textLength="3.33" lengthAdjust="spacingAndGlyphs" fill="#262626" >-5</text>
<text x="9.28" y="526.40" font-size="5.6" textLength="5.42" lengthAdjust="spacingAndGlyphs" fill="#262626" >10</text>
<text x="14.69" y="523.60" font-size="4.3" textLength="5.41" lengthAdjust="spacingAndGlyphs" fill="#262626" >-10</text>
<text x="9.28" y="564.50" font-size="5.6" textLength="5.42" lengthAdjust="spacingAndGlyphs" fill="#262626" >10</text>
<text x="14.69" y="561.70" font-size="4.3" textLength="5.41" lengthAdjust="spacingAndGlyphs" fill="#262626" >-15</text>
<text x="94.87" y="577.90" font-size="6.2" textLength="20.16" lengthAdjust="spacingAndGlyphs" fill="#262626" >Iteration</text>
<text x="101.29" y="406.20" font-size="6.6" textLength="7.32" lengthAdjust="spacingAndGlyphs" fill="#262626" >F9</text>
<text x="-28.72" y="0.00" font-size="6.5" textLength="57.45" lengthAdjust="spacingAndGlyphs" fill="#262626" transform="translate(5.50,485.80) rotate(-90)" style="stroke-width:0.1px">Best score obtained</text>
<rect x="146.80" y="413.60" width="36.60" height="67.90" fill="#fff" stroke="#666" stroke-width="0.6"/>
<line x1="148.40" y1="418.50" x2="163.10" y2="418.50" stroke="#f2f21a" stroke-width="1.2"/>
<text x="164.40" y="420.80" font-size="5.2" textLength="11.18" lengthAdjust="spacingAndGlyphs" fill="#262626" >RIME</text>
<line x1="148.40" y1="425.83" x2="163.10" y2="425.83" stroke="#22e022" stroke-width="1.2"/>
<text x="164.40" y="428.13" font-size="5.2" textLength="12.10" lengthAdjust="spacingAndGlyphs" fill="#262626" >AVOA</text>
<line x1="148.40" y1="433.16" x2="163.10" y2="433.16" stroke="#dc7a4a" stroke-width="1.2"/>
<text x="164.40" y="435.46" font-size="5.2" textLength="9.61" lengthAdjust="spacingAndGlyphs" fill="#262626" >GTO</text>
<line x1="148.40" y1="440.49" x2="163.10" y2="440.49" stroke="#cfcfcf" stroke-width="1.2"/>
<text x="164.40" y="442.79" font-size="5.2" textLength="10.19" lengthAdjust="spacingAndGlyphs" fill="#262626" >OMA</text>
<line x1="148.40" y1="447.82" x2="163.10" y2="447.82" stroke="#2c2cec" stroke-width="1.2"/>
<text x="164.40" y="450.12" font-size="5.2" textLength="14.66" lengthAdjust="spacingAndGlyphs" fill="#262626" >IWSCA</text>
<line x1="148.40" y1="455.15" x2="163.10" y2="455.15" stroke="#ee44ee" stroke-width="1.2"/>
<text x="164.40" y="457.45" font-size="5.2" textLength="9.36" lengthAdjust="spacingAndGlyphs" fill="#262626" >MPA</text>
<line x1="148.40" y1="462.48" x2="163.10" y2="462.48" stroke="#84b04a" stroke-width="1.2"/>
<text x="164.40" y="464.78" font-size="5.2" textLength="12.34" lengthAdjust="spacingAndGlyphs" fill="#262626" >EMPA</text>
<line x1="148.40" y1="469.81" x2="163.10" y2="469.81" stroke="#262626" stroke-width="1.2"/>
<text x="164.40" y="472.11" font-size="5.2" textLength="16.07" lengthAdjust="spacingAndGlyphs" fill="#262626" >GDMPA</text>
<line x1="148.40" y1="477.14" x2="163.10" y2="477.14" stroke="#ee1c1c" stroke-width="1.9"/>
<text x="164.40" y="479.44" font-size="5.2" textLength="10.60" lengthAdjust="spacingAndGlyphs" fill="#262626" >IMPA</text></g>
<clipPath id="clipF10"><rect x="214.60" y="408.70" width="165.80" height="152.80"/></clipPath>
<g><path d="M214.6 553.86H380.4M214.6 546.22H380.4M214.6 538.58H380.4M214.6 530.94H380.4M214.6 515.66H380.4M214.6 508.02H380.4M214.6 500.38H380.4M214.6 492.74H380.4M214.6 477.46H380.4M214.6 469.82H380.4M214.6 462.18H380.4M214.6 454.54H380.4M214.6 439.26H380.4M214.6 431.62H380.4M214.6 423.98H380.4M214.6 416.34H380.4" stroke="#e6e6e6" stroke-width="0.6"/>
<path d="" stroke="#f0f0f0" stroke-width="0.6"/>
<path d="M214.6 446.90H380.4M214.6 485.10H380.4M214.6 523.30H380.4M231.18 408.7V561.5M247.76 408.7V561.5M264.34 408.7V561.5M280.92 408.7V561.5M297.50 408.7V561.5M314.08 408.7V561.5M330.66 408.7V561.5M347.24 408.7V561.5M363.82 408.7V561.5" stroke="#e4e4e4" stroke-width="0.6"/>
<g clip-path="url(#clipF10)">
<polyline points="215.39,436.85 217.42,440.24 219.45,445.66 251.98,556.12 302.00,556.12 380.40,556.10" fill="none" stroke="#f2f21a" stroke-width="1.15" stroke-linejoin="round"/>
<polyline points="215.39,436.85 225.55,438.88 239.11,440.92 255.37,441.60 272.99,442.95 302.00,443.63 319.50,443.90 345.40,444.40 371.30,444.40 380.40,445.70" fill="none" stroke="#22e022" stroke-width="1.15" stroke-linejoin="round"/>
<polyline points="215.39,436.85 217.42,440.24 219.45,445.66 251.98,556.12 270.28,556.12 270.55,560.87" fill="none" stroke="#dc7a4a" stroke-width="1.15" stroke-linejoin="round"/>
<polyline points="214.60,436.80 380.40,436.80" fill="none" stroke="#2c2cec" stroke-width="1.15" stroke-linejoin="round"/>
<polyline points="215.39,436.85 216.74,459.22 218.10,479.55 220.13,480.90 220.81,487.68 222.17,499.88 222.84,513.43 224.20,516.14 224.88,526.98 226.23,529.70 226.91,539.18 228.26,541.89 229.62,555.45 230.98,556.80 231.65,560.87" fill="none" stroke="#ee44ee" stroke-width="1.15" stroke-linejoin="round"/>
<polyline points="215.39,436.85 218.10,440.92 239.11,441.60 302.00,442.27 380.40,443.30" fill="none" stroke="#84b04a" stroke-width="1.15" stroke-linejoin="round"/>
<polyline points="214.60,437.30 380.40,437.30" fill="none" stroke="#262626" stroke-width="1.15" stroke-linejoin="round"/>
<polyline points="215.39,436.85 220.13,560.87 302.00,560.87 380.40,561.10" fill="none" stroke="#ee1c1c" stroke-width="1.9" stroke-linejoin="round"/>
</g>
<rect x="214.60" y="408.70" width="165.80" height="152.80" fill="none" stroke="#6a6a6a" stroke-width="0.8"/>
<path d="M214.60 561.5v-1.6M214.60 408.7v1.6M231.18 561.5v-1.6M231.18 408.7v1.6M247.76 561.5v-1.6M247.76 408.7v1.6M264.34 561.5v-1.6M264.34 408.7v1.6M280.92 561.5v-1.6M280.92 408.7v1.6M297.50 561.5v-1.6M297.50 408.7v1.6M314.08 561.5v-1.6M314.08 408.7v1.6M330.66 561.5v-1.6M330.66 408.7v1.6M347.24 561.5v-1.6M347.24 408.7v1.6M363.82 561.5v-1.6M363.82 408.7v1.6M380.40 561.5v-1.6M380.40 408.7v1.6M214.6 408.70h1.6M380.4 408.70h-1.6M214.6 446.90h1.6M380.4 446.90h-1.6M214.6 485.10h1.6M380.4 485.10h-1.6M214.6 523.30h1.6M380.4 523.30h-1.6M214.6 561.50h1.6M380.4 561.50h-1.6" stroke="#6a6a6a" stroke-width="0.6"/>
<path d="M214.6 553.86h0.9M380.4 553.86h-0.9M214.6 546.22h0.9M380.4 546.22h-0.9M214.6 538.58h0.9M380.4 538.58h-0.9M214.6 530.94h0.9M380.4 530.94h-0.9M214.6 515.66h0.9M380.4 515.66h-0.9M214.6 508.02h0.9M380.4 508.02h-0.9M214.6 500.38h0.9M380.4 500.38h-0.9M214.6 492.74h0.9M380.4 492.74h-0.9M214.6 477.46h0.9M380.4 477.46h-0.9M214.6 469.82h0.9M380.4 469.82h-0.9M214.6 462.18h0.9M380.4 462.18h-0.9M214.6 454.54h0.9M380.4 454.54h-0.9M214.6 439.26h0.9M380.4 439.26h-0.9M214.6 431.62h0.9M380.4 431.62h-0.9M214.6 423.98h0.9M380.4 423.98h-0.9M214.6 416.34h0.9M380.4 416.34h-0.9" stroke="#6a6a6a" stroke-width="0.5"/>
<text x="213.25" y="570.20" font-size="5.6" textLength="2.71" lengthAdjust="spacingAndGlyphs" fill="#262626" >0</text>
<text x="227.12" y="570.20" font-size="5.6" textLength="8.13" lengthAdjust="spacingAndGlyphs" fill="#262626" >100</text>
<text x="243.70" y="570.20" font-size="5.6" textLength="8.13" lengthAdjust="spacingAndGlyphs" fill="#262626" >200</text>
<text x="260.28" y="570.20" font-size="5.6" textLength="8.13" lengthAdjust="spacingAndGlyphs" fill="#262626" >300</text>
<text x="276.86" y="570.20" font-size="5.6" textLength="8.13" lengthAdjust="spacingAndGlyphs" fill="#262626" >400</text>
<text x="293.44" y="570.20" font-size="5.6" textLength="8.13" lengthAdjust="spacingAndGlyphs" fill="#262626" >500</text>
<text x="310.02" y="570.20" font-size="5.6" textLength="8.13" lengthAdjust="spacingAndGlyphs" fill="#262626" >600</text>
<text x="326.60" y="570.20" font-size="5.6" textLength="8.13" lengthAdjust="spacingAndGlyphs" fill="#262626" >700</text>
<text x="343.18" y="570.20" font-size="5.6" textLength="8.13" lengthAdjust="spacingAndGlyphs" fill="#262626" >800</text>
<text x="359.76" y="570.20" font-size="5.6" textLength="8.13" lengthAdjust="spacingAndGlyphs" fill="#262626" >900</text>
<text x="374.98" y="570.20" font-size="5.6" textLength="10.84" lengthAdjust="spacingAndGlyphs" fill="#262626" >1000</text>
<text x="204.90" y="412.00" font-size="5.6" textLength="5.42" lengthAdjust="spacingAndGlyphs" fill="#262626" >10</text>
<text x="210.32" y="409.20" font-size="4.3" textLength="2.08" lengthAdjust="spacingAndGlyphs" fill="#262626" >5</text>
<text x="204.90" y="450.20" font-size="5.6" textLength="5.42" lengthAdjust="spacingAndGlyphs" fill="#262626" >10</text>
<text x="210.32" y="447.40" font-size="4.3" textLength="2.08" lengthAdjust="spacingAndGlyphs" fill="#262626" >0</text>
<text x="203.66" y="488.40" font-size="5.6" textLength="5.42" lengthAdjust="spacingAndGlyphs" fill="#262626" >10</text>
<text x="209.07" y="485.60" font-size="4.3" textLength="3.33" lengthAdjust="spacingAndGlyphs" fill="#262626" >-5</text>
<text x="201.58" y="526.60" font-size="5.6" textLength="5.42" lengthAdjust="spacingAndGlyphs" fill="#262626" >10</text>
<text x="206.99" y="523.80" font-size="4.3" textLength="5.41" lengthAdjust="spacingAndGlyphs" fill="#262626" >-10</text>
<text x="201.58" y="564.80" font-size="5.6" textLength="5.42" lengthAdjust="spacingAndGlyphs" fill="#262626" >10</text>
<text x="206.99" y="562.00" font-size="4.3" textLength="5.41" lengthAdjust="spacingAndGlyphs" fill="#262626" >-15</text>
<text x="287.42" y="578.20" font-size="6.2" textLength="20.16" lengthAdjust="spacingAndGlyphs" fill="#262626" >Iteration</text>
<text x="292.10" y="406.10" font-size="6.6" textLength="10.80" lengthAdjust="spacingAndGlyphs" fill="#262626" >F10</text>
<text x="-28.72" y="0.00" font-size="6.5" textLength="57.45" lengthAdjust="spacingAndGlyphs" fill="#262626" transform="translate(198.20,485.90) rotate(-90)" style="stroke-width:0.1px">Best score obtained</text>
<rect x="339.60" y="413.50" width="36.60" height="67.90" fill="#fff" stroke="#666" stroke-width="0.6"/>
<line x1="341.20" y1="418.40" x2="355.90" y2="418.40" stroke="#f2f21a" stroke-width="1.2"/>
<text x="357.20" y="420.70" font-size="5.2" textLength="11.18" lengthAdjust="spacingAndGlyphs" fill="#262626" >RIME</text>
<line x1="341.20" y1="425.73" x2="355.90" y2="425.73" stroke="#22e022" stroke-width="1.2"/>
<text x="357.20" y="428.03" font-size="5.2" textLength="12.10" lengthAdjust="spacingAndGlyphs" fill="#262626" >AVOA</text>
<line x1="341.20" y1="433.06" x2="355.90" y2="433.06" stroke="#dc7a4a" stroke-width="1.2"/>
<text x="357.20" y="435.36" font-size="5.2" textLength="9.61" lengthAdjust="spacingAndGlyphs" fill="#262626" >GTO</text>
<line x1="341.20" y1="440.39" x2="355.90" y2="440.39" stroke="#cfcfcf" stroke-width="1.2"/>
<text x="357.20" y="442.69" font-size="5.2" textLength="10.19" lengthAdjust="spacingAndGlyphs" fill="#262626" >OMA</text>
<line x1="341.20" y1="447.72" x2="355.90" y2="447.72" stroke="#2c2cec" stroke-width="1.2"/>
<text x="357.20" y="450.02" font-size="5.2" textLength="14.66" lengthAdjust="spacingAndGlyphs" fill="#262626" >IWSCA</text>
<line x1="341.20" y1="455.05" x2="355.90" y2="455.05" stroke="#ee44ee" stroke-width="1.2"/>
<text x="357.20" y="457.35" font-size="5.2" textLength="9.36" lengthAdjust="spacingAndGlyphs" fill="#262626" >MPA</text>
<line x1="341.20" y1="462.38" x2="355.90" y2="462.38" stroke="#84b04a" stroke-width="1.2"/>
<text x="357.20" y="464.68" font-size="5.2" textLength="12.34" lengthAdjust="spacingAndGlyphs" fill="#262626" >EMPA</text>
<line x1="341.20" y1="469.71" x2="355.90" y2="469.71" stroke="#262626" stroke-width="1.2"/>
<text x="357.20" y="472.01" font-size="5.2" textLength="16.07" lengthAdjust="spacingAndGlyphs" fill="#262626" >GDMPA</text>
<line x1="341.20" y1="477.04" x2="355.90" y2="477.04" stroke="#ee1c1c" stroke-width="1.9"/>
<text x="357.20" y="479.34" font-size="5.2" textLength="10.60" lengthAdjust="spacingAndGlyphs" fill="#262626" >IMPA</text></g>
<clipPath id="clipF11"><rect x="407.30" y="408.70" width="165.30" height="152.80"/></clipPath>
<g><path d="M407.3 555.39H572.6M407.3 549.28H572.6M407.3 543.16H572.6M407.3 537.05H572.6M407.3 524.83H572.6M407.3 518.72H572.6M407.3 512.60H572.6M407.3 506.49H572.6M407.3 494.27H572.6M407.3 488.16H572.6M407.3 482.04H572.6M407.3 475.93H572.6M407.3 463.71H572.6M407.3 457.60H572.6M407.3 451.48H572.6M407.3 445.37H572.6M407.3 433.15H572.6M407.3 427.04H572.6M407.3 420.92H572.6M407.3 414.81H572.6" stroke="#e6e6e6" stroke-width="0.6"/>
<path d="" stroke="#f0f0f0" stroke-width="0.6"/>
<path d="M407.3 439.26H572.6M407.3 469.82H572.6M407.3 500.38H572.6M407.3 530.94H572.6M423.83 408.7V561.5M440.36 408.7V561.5M456.89 408.7V561.5M473.42 408.7V561.5M489.95 408.7V561.5M506.48 408.7V561.5M523.01 408.7V561.5M539.54 408.7V561.5M556.07 408.7V561.5" stroke="#e4e4e4" stroke-width="0.6"/>
<g clip-path="url(#clipF11)">
<polyline points="407.71,421.26 409.07,432.11 411.10,438.88 413.13,440.24 415.17,448.37 432.11,537.15" fill="none" stroke="#f2f21a" stroke-width="1.15" stroke-linejoin="round"/>
<polyline points="407.71,421.26 410.42,425.33 418.55,430.07 425.33,432.11 430.07,433.46 434.14,436.44 445.66,436.85 448.37,437.53 463.28,437.53 464.64,438.48 495.00,438.88 566.30,438.70 572.60,439.20" fill="none" stroke="#22e022" stroke-width="1.15" stroke-linejoin="round"/>
<polyline points="407.71,421.26 409.07,432.11 411.10,438.88 413.13,440.24 415.17,448.37 431.43,535.12" fill="none" stroke="#dc7a4a" stroke-width="1.15" stroke-linejoin="round"/>
<polyline points="407.71,419.23 495.00,419.23 572.60,419.20" fill="none" stroke="#2c2cec" stroke-width="1.15" stroke-linejoin="round"/>
<polyline points="407.71,421.26 408.39,445.66 410.42,472.77 411.78,513.43 413.81,513.43 414.49,529.70 415.17,536.47" fill="none" stroke="#ee44ee" stroke-width="1.15" stroke-linejoin="round"/>
<polyline points="407.71,421.26 408.39,437.53 410.42,439.16 444.31,439.16 445.66,440.51 495.00,440.51 514.50,440.80 572.60,445.20" fill="none" stroke="#84b04a" stroke-width="1.15" stroke-linejoin="round"/>
<polyline points="407.71,421.94 445.66,422.35 448.37,423.03 495.00,423.03 572.60,423.20" fill="none" stroke="#262626" stroke-width="1.15" stroke-linejoin="round"/>
<polyline points="407.71,421.26 408.39,437.53 409.74,445.66 411.10,486.32 411.78,528.34" fill="none" stroke="#ee1c1c" stroke-width="1.9" stroke-linejoin="round"/>
</g>
<rect x="407.30" y="408.70" width="165.30" height="152.80" fill="none" stroke="#6a6a6a" stroke-width="0.8"/>
<path d="M407.30 561.5v-1.6M407.30 408.7v1.6M423.83 561.5v-1.6M423.83 408.7v1.6M440.36 561.5v-1.6M440.36 408.7v1.6M456.89 561.5v-1.6M456.89 408.7v1.6M473.42 561.5v-1.6M473.42 408.7v1.6M489.95 561.5v-1.6M489.95 408.7v1.6M506.48 561.5v-1.6M506.48 408.7v1.6M523.01 561.5v-1.6M523.01 408.7v1.6M539.54 561.5v-1.6M539.54 408.7v1.6M556.07 561.5v-1.6M556.07 408.7v1.6M572.60 561.5v-1.6M572.60 408.7v1.6M407.3 408.70h1.6M572.6 408.70h-1.6M407.3 439.26h1.6M572.6 439.26h-1.6M407.3 469.82h1.6M572.6 469.82h-1.6M407.3 500.38h1.6M572.6 500.38h-1.6M407.3 530.94h1.6M572.6 530.94h-1.6M407.3 561.50h1.6M572.6 561.50h-1.6" stroke="#6a6a6a" stroke-width="0.6"/>
<path d="M407.3 555.39h0.9M572.6 555.39h-0.9M407.3 549.28h0.9M572.6 549.28h-0.9M407.3 543.16h0.9M572.6 543.16h-0.9M407.3 537.05h0.9M572.6 537.05h-0.9M407.3 524.83h0.9M572.6 524.83h-0.9M407.3 518.72h0.9M572.6 518.72h-0.9M407.3 512.60h0.9M572.6 512.60h-0.9M407.3 506.49h0.9M572.6 506.49h-0.9M407.3 494.27h0.9M572.6 494.27h-0.9M407.3 488.16h0.9M572.6 488.16h-0.9M407.3 482.04h0.9M572.6 482.04h-0.9M407.3 475.93h0.9M572.6 475.93h-0.9M407.3 463.71h0.9M572.6 463.71h-0.9M407.3 457.60h0.9M572.6 457.60h-0.9M407.3 451.48h0.9M572.6 451.48h-0.9M407.3 445.37h0.9M572.6 445.37h-0.9M407.3 433.15h0.9M572.6 433.15h-0.9M407.3 427.04h0.9M572.6 427.04h-0.9M407.3 420.92h0.9M572.6 420.92h-0.9M407.3 414.81h0.9M572.6 414.81h-0.9" stroke="#6a6a6a" stroke-width="0.5"/>
<text x="405.95" y="570.20" font-size="5.6" textLength="2.71" lengthAdjust="spacingAndGlyphs" fill="#262626" >0</text>
<text x="419.77" y="570.20" font-size="5.6" textLength="8.13" lengthAdjust="spacingAndGlyphs" fill="#262626" >100</text>
<text x="436.30" y="570.20" font-size="5.6" textLength="8.13" lengthAdjust="spacingAndGlyphs" fill="#262626" >200</text>
<text x="452.83" y="570.20" font-size="5.6" textLength="8.13" lengthAdjust="spacingAndGlyphs" fill="#262626" >300</text>
<text x="469.36" y="570.20" font-size="5.6" textLength="8.13" lengthAdjust="spacingAndGlyphs" fill="#262626" >400</text>
<text x="485.89" y="570.20" font-size="5.6" textLength="8.13" lengthAdjust="spacingAndGlyphs" fill="#262626" >500</text>
<text x="502.42" y="570.20" font-size="5.6" textLength="8.13" lengthAdjust="spacingAndGlyphs" fill="#262626" >600</text>
<text x="518.95" y="570.20" font-size="5.6" textLength="8.13" lengthAdjust="spacingAndGlyphs" fill="#262626" >700</text>
<text x="535.48" y="570.20" font-size="5.6" textLength="8.13" lengthAdjust="spacingAndGlyphs" fill="#262626" >800</text>
<text x="552.01" y="570.20" font-size="5.6" textLength="8.13" lengthAdjust="spacingAndGlyphs" fill="#262626" >900</text>
<text x="567.18" y="570.20" font-size="5.6" textLength="10.84" lengthAdjust="spacingAndGlyphs" fill="#262626" >1000</text>
<text x="397.60" y="412.00" font-size="5.6" textLength="5.42" lengthAdjust="spacingAndGlyphs" fill="#262626" >10</text>
<text x="403.02" y="409.20" font-size="4.3" textLength="2.08" lengthAdjust="spacingAndGlyphs" fill="#262626" >5</text>
<text x="397.60" y="442.56" font-size="5.6" textLength="5.42" lengthAdjust="spacingAndGlyphs" fill="#262626" >10</text>
<text x="403.02" y="439.76" font-size="4.3" textLength="2.08" lengthAdjust="spacingAndGlyphs" fill="#262626" >0</text>
<text x="396.36" y="473.12" font-size="5.6" textLength="5.42" lengthAdjust="spacingAndGlyphs" fill="#262626" >10</text>
<text x="401.77" y="470.32" font-size="4.3" textLength="3.33" lengthAdjust="spacingAndGlyphs" fill="#262626" >-5</text>
<text x="394.28" y="503.68" font-size="5.6" textLength="5.42" lengthAdjust="spacingAndGlyphs" fill="#262626" >10</text>
<text x="399.69" y="500.88" font-size="4.3" textLength="5.41" lengthAdjust="spacingAndGlyphs" fill="#262626" >-10</text>
<text x="394.28" y="534.24" font-size="5.6" textLength="5.42" lengthAdjust="spacingAndGlyphs" fill="#262626" >10</text>
<text x="399.69" y="531.44" font-size="4.3" textLength="5.41" lengthAdjust="spacingAndGlyphs" fill="#262626" >-15</text>
<text x="394.28" y="564.80" font-size="5.6" textLength="5.42" lengthAdjust="spacingAndGlyphs" fill="#262626" >10</text>
<text x="399.69" y="562.00" font-size="4.3" textLength="5.41" lengthAdjust="spacingAndGlyphs" fill="#262626" >-20</text>
<text x="479.87" y="578.20" font-size="6.2" textLength="20.16" lengthAdjust="spacingAndGlyphs" fill="#262626" >Iteration</text>
<text x="484.78" y="406.10" font-size="6.6" textLength="10.34" lengthAdjust="spacingAndGlyphs" fill="#262626" >F11</text>
<text x="-28.72" y="0.00" font-size="6.5" textLength="57.45" lengthAdjust="spacingAndGlyphs" fill="#262626" transform="translate(390.90,485.90) rotate(-90)" style="stroke-width:0.1px">Best score obtained</text>
<rect x="531.80" y="413.50" width="36.60" height="67.90" fill="#fff" stroke="#666" stroke-width="0.6"/>
<line x1="533.40" y1="418.40" x2="548.10" y2="418.40" stroke="#f2f21a" stroke-width="1.2"/>
<text x="549.40" y="420.70" font-size="5.2" textLength="11.18" lengthAdjust="spacingAndGlyphs" fill="#262626" >RIME</text>
<line x1="533.40" y1="425.73" x2="548.10" y2="425.73" stroke="#22e022" stroke-width="1.2"/>
<text x="549.40" y="428.03" font-size="5.2" textLength="12.10" lengthAdjust="spacingAndGlyphs" fill="#262626" >AVOA</text>
<line x1="533.40" y1="433.06" x2="548.10" y2="433.06" stroke="#dc7a4a" stroke-width="1.2"/>
<text x="549.40" y="435.36" font-size="5.2" textLength="9.61" lengthAdjust="spacingAndGlyphs" fill="#262626" >GTO</text>
<line x1="533.40" y1="440.39" x2="548.10" y2="440.39" stroke="#cfcfcf" stroke-width="1.2"/>
<text x="549.40" y="442.69" font-size="5.2" textLength="10.19" lengthAdjust="spacingAndGlyphs" fill="#262626" >OMA</text>
<line x1="533.40" y1="447.72" x2="548.10" y2="447.72" stroke="#2c2cec" stroke-width="1.2"/>
<text x="549.40" y="450.02" font-size="5.2" textLength="14.66" lengthAdjust="spacingAndGlyphs" fill="#262626" >IWSCA</text>
<line x1="533.40" y1="455.05" x2="548.10" y2="455.05" stroke="#ee44ee" stroke-width="1.2"/>
<text x="549.40" y="457.35" font-size="5.2" textLength="9.36" lengthAdjust="spacingAndGlyphs" fill="#262626" >MPA</text>
<line x1="533.40" y1="462.38" x2="548.10" y2="462.38" stroke="#84b04a" stroke-width="1.2"/>
<text x="549.40" y="464.68" font-size="5.2" textLength="12.34" lengthAdjust="spacingAndGlyphs" fill="#262626" >EMPA</text>
<line x1="533.40" y1="469.71" x2="548.10" y2="469.71" stroke="#262626" stroke-width="1.2"/>
<text x="549.40" y="472.01" font-size="5.2" textLength="16.07" lengthAdjust="spacingAndGlyphs" fill="#262626" >GDMPA</text>
<line x1="533.40" y1="477.04" x2="548.10" y2="477.04" stroke="#ee1c1c" stroke-width="1.9"/>
<text x="549.40" y="479.34" font-size="5.2" textLength="10.60" lengthAdjust="spacingAndGlyphs" fill="#262626" >IMPA</text></g>
<clipPath id="clipF12"><rect x="600.00" y="408.70" width="165.80" height="152.80"/></clipPath>
<g><path d="M600.0 553.86H765.8M600.0 546.22H765.8M600.0 538.58H765.8M600.0 530.94H765.8M600.0 515.66H765.8M600.0 508.02H765.8M600.0 500.38H765.8M600.0 492.74H765.8M600.0 477.46H765.8M600.0 469.82H765.8M600.0 462.18H765.8M600.0 454.54H765.8M600.0 439.26H765.8M600.0 431.62H765.8M600.0 423.98H765.8M600.0 416.34H765.8" stroke="#e6e6e6" stroke-width="0.6"/>
<path d="" stroke="#f0f0f0" stroke-width="0.6"/>
<path d="M600.0 446.90H765.8M600.0 485.10H765.8M600.0 523.30H765.8M616.58 408.7V561.5M633.16 408.7V561.5M649.74 408.7V561.5M666.32 408.7V561.5M682.90 408.7V561.5M699.48 408.7V561.5M716.06 408.7V561.5M732.64 408.7V561.5M749.22 408.7V561.5" stroke="#e4e4e4" stroke-width="0.6"/>
<g clip-path="url(#clipF12)">
<polyline points="600.64,416.01 601.30,471.06 603.51,486.48 620.02,490.88 653.05,493.09 664.06,496.39 686.09,499.69 708.11,505.20 712.51,508.50 719.12,519.51 725.73,526.12 741.14,532.73 752.15,539.33 765.36,552.10" fill="none" stroke="#f2f21a" stroke-width="1.15" stroke-linejoin="round"/>
<polyline points="600.64,416.01 604.61,427.02 609.01,442.44 612.31,455.65 617.82,455.65 620.02,462.26 623.32,466.66 625.53,472.17 639.84,473.27 643.14,475.91 657.46,476.57 664.06,477.67 686.09,478.77 765.36,478.77" fill="none" stroke="#22e022" stroke-width="1.15" stroke-linejoin="round"/>
<polyline points="600.64,416.01 601.30,471.06 603.51,485.38 620.02,489.78 653.05,491.99 686.09,492.65 708.11,493.09 716.92,495.29 765.36,496.39" fill="none" stroke="#dc7a4a" stroke-width="1.15" stroke-linejoin="round"/>
<polyline points="600.64,416.01 664.06,417.11 765.36,417.55" fill="none" stroke="#cfcfcf" stroke-width="1.15" stroke-linejoin="round"/>
<polyline points="600.64,414.91 765.36,414.91" fill="none" stroke="#2c2cec" stroke-width="1.15" stroke-linejoin="round"/>
<polyline points="600.64,416.01 601.30,488.68 602.40,495.73 607.91,495.73 609.01,499.25 614.52,499.25 615.18,506.30 765.36,506.30" fill="none" stroke="#ee44ee" stroke-width="1.15" stroke-linejoin="round"/>
<polyline points="600.64,416.01 601.30,433.63 603.51,442.44 604.61,453.45 606.81,453.45 607.91,461.16 613.42,461.16 614.52,482.08 625.53,482.08 626.19,491.99 686.09,491.99 686.53,498.59 765.36,498.59" fill="none" stroke="#84b04a" stroke-width="1.15" stroke-linejoin="round"/>
<polyline points="600.64,416.01 609.01,417.11 664.06,417.77 765.36,418.21" fill="none" stroke="#262626" stroke-width="1.15" stroke-linejoin="round"/>
<polyline points="600.64,416.01 601.30,471.06 603.51,510.70 604.61,522.82 607.91,525.02 615.62,525.68 621.12,527.88 642.04,528.76 653.05,530.52 664.06,531.62 666.27,532.73 686.09,533.83 699.30,534.93 708.11,536.69 721.32,539.33 730.13,541.53 741.14,545.94 752.15,550.34 765.36,555.19" fill="none" stroke="#ee1c1c" stroke-width="1.9" stroke-linejoin="round"/>
</g>
<rect x="600.00" y="408.70" width="165.80" height="152.80" fill="none" stroke="#6a6a6a" stroke-width="0.8"/>
<path d="M600.00 561.5v-1.6M600.00 408.7v1.6M616.58 561.5v-1.6M616.58 408.7v1.6M633.16 561.5v-1.6M633.16 408.7v1.6M649.74 561.5v-1.6M649.74 408.7v1.6M666.32 561.5v-1.6M666.32 408.7v1.6M682.90 561.5v-1.6M682.90 408.7v1.6M699.48 561.5v-1.6M699.48 408.7v1.6M716.06 561.5v-1.6M716.06 408.7v1.6M732.64 561.5v-1.6M732.64 408.7v1.6M749.22 561.5v-1.6M749.22 408.7v1.6M765.80 561.5v-1.6M765.80 408.7v1.6M600.0 408.70h1.6M765.8 408.70h-1.6M600.0 446.90h1.6M765.8 446.90h-1.6M600.0 485.10h1.6M765.8 485.10h-1.6M600.0 523.30h1.6M765.8 523.30h-1.6M600.0 561.50h1.6M765.8 561.50h-1.6" stroke="#6a6a6a" stroke-width="0.6"/>
<path d="M600.0 553.86h0.9M765.8 553.86h-0.9M600.0 546.22h0.9M765.8 546.22h-0.9M600.0 538.58h0.9M765.8 538.58h-0.9M600.0 530.94h0.9M765.8 530.94h-0.9M600.0 515.66h0.9M765.8 515.66h-0.9M600.0 508.02h0.9M765.8 508.02h-0.9M600.0 500.38h0.9M765.8 500.38h-0.9M600.0 492.74h0.9M765.8 492.74h-0.9M600.0 477.46h0.9M765.8 477.46h-0.9M600.0 469.82h0.9M765.8 469.82h-0.9M600.0 462.18h0.9M765.8 462.18h-0.9M600.0 454.54h0.9M765.8 454.54h-0.9M600.0 439.26h0.9M765.8 439.26h-0.9M600.0 431.62h0.9M765.8 431.62h-0.9M600.0 423.98h0.9M765.8 423.98h-0.9M600.0 416.34h0.9M765.8 416.34h-0.9" stroke="#6a6a6a" stroke-width="0.5"/>
<text x="598.65" y="570.20" font-size="5.6" textLength="2.71" lengthAdjust="spacingAndGlyphs" fill="#262626" >0</text>
<text x="612.52" y="570.20" font-size="5.6" textLength="8.13" lengthAdjust="spacingAndGlyphs" fill="#262626" >100</text>
<text x="629.10" y="570.20" font-size="5.6" textLength="8.13" lengthAdjust="spacingAndGlyphs" fill="#262626" >200</text>
<text x="645.68" y="570.20" font-size="5.6" textLength="8.13" lengthAdjust="spacingAndGlyphs" fill="#262626" >300</text>
<text x="662.26" y="570.20" font-size="5.6" textLength="8.13" lengthAdjust="spacingAndGlyphs" fill="#262626" >400</text>
<text x="678.84" y="570.20" font-size="5.6" textLength="8.13" lengthAdjust="spacingAndGlyphs" fill="#262626" >500</text>
<text x="695.42" y="570.20" font-size="5.6" textLength="8.13" lengthAdjust="spacingAndGlyphs" fill="#262626" >600</text>
<text x="712.00" y="570.20" font-size="5.6" textLength="8.13" lengthAdjust="spacingAndGlyphs" fill="#262626" >700</text>
<text x="728.58" y="570.20" font-size="5.6" textLength="8.13" lengthAdjust="spacingAndGlyphs" fill="#262626" >800</text>
<text x="745.16" y="570.20" font-size="5.6" textLength="8.13" lengthAdjust="spacingAndGlyphs" fill="#262626" >900</text>
<text x="760.38" y="570.20" font-size="5.6" textLength="10.84" lengthAdjust="spacingAndGlyphs" fill="#262626" >1000</text>
<text x="588.22" y="412.00" font-size="5.6" textLength="5.42" lengthAdjust="spacingAndGlyphs" fill="#262626" >10</text>
<text x="593.64" y="409.20" font-size="4.3" textLength="4.16" lengthAdjust="spacingAndGlyphs" fill="#262626" >10</text>
<text x="590.30" y="450.20" font-size="5.6" textLength="5.42" lengthAdjust="spacingAndGlyphs" fill="#262626" >10</text>
<text x="595.72" y="447.40" font-size="4.3" textLength="2.08" lengthAdjust="spacingAndGlyphs" fill="#262626" >5</text>
<text x="590.30" y="488.40" font-size="5.6" textLength="5.42" lengthAdjust="spacingAndGlyphs" fill="#262626" >10</text>
<text x="595.72" y="485.60" font-size="4.3" textLength="2.08" lengthAdjust="spacingAndGlyphs" fill="#262626" >0</text>
<text x="589.06" y="526.60" font-size="5.6" textLength="5.42" lengthAdjust="spacingAndGlyphs" fill="#262626" >10</text>
<text x="594.47" y="523.80" font-size="4.3" textLength="3.33" lengthAdjust="spacingAndGlyphs" fill="#262626" >-5</text>
<text x="586.98" y="564.80" font-size="5.6" textLength="5.42" lengthAdjust="spacingAndGlyphs" fill="#262626" >10</text>
<text x="592.39" y="562.00" font-size="4.3" textLength="5.41" lengthAdjust="spacingAndGlyphs" fill="#262626" >-10</text>
<text x="672.82" y="578.20" font-size="6.2" textLength="20.16" lengthAdjust="spacingAndGlyphs" fill="#262626" >Iteration</text>
<text x="677.50" y="406.10" font-size="6.6" textLength="10.80" lengthAdjust="spacingAndGlyphs" fill="#262626" >F12</text>
<text x="-28.72" y="0.00" font-size="6.5" textLength="57.45" lengthAdjust="spacingAndGlyphs" fill="#262626" transform="translate(583.60,485.90) rotate(-90)" style="stroke-width:0.1px">Best score obtained</text>
<rect x="725.00" y="413.50" width="36.60" height="67.90" fill="#fff" stroke="#666" stroke-width="0.6"/>
<line x1="726.60" y1="418.40" x2="741.30" y2="418.40" stroke="#f2f21a" stroke-width="1.2"/>
<text x="742.60" y="420.70" font-size="5.2" textLength="11.18" lengthAdjust="spacingAndGlyphs" fill="#262626" >RIME</text>
<line x1="726.60" y1="425.73" x2="741.30" y2="425.73" stroke="#22e022" stroke-width="1.2"/>
<text x="742.60" y="428.03" font-size="5.2" textLength="12.10" lengthAdjust="spacingAndGlyphs" fill="#262626" >AVOA</text>
<line x1="726.60" y1="433.06" x2="741.30" y2="433.06" stroke="#dc7a4a" stroke-width="1.2"/>
<text x="742.60" y="435.36" font-size="5.2" textLength="9.61" lengthAdjust="spacingAndGlyphs" fill="#262626" >GTO</text>
<line x1="726.60" y1="440.39" x2="741.30" y2="440.39" stroke="#cfcfcf" stroke-width="1.2"/>
<text x="742.60" y="442.69" font-size="5.2" textLength="10.19" lengthAdjust="spacingAndGlyphs" fill="#262626" >OMA</text>
<line x1="726.60" y1="447.72" x2="741.30" y2="447.72" stroke="#2c2cec" stroke-width="1.2"/>
<text x="742.60" y="450.02" font-size="5.2" textLength="14.66" lengthAdjust="spacingAndGlyphs" fill="#262626" >IWSCA</text>
<line x1="726.60" y1="455.05" x2="741.30" y2="455.05" stroke="#ee44ee" stroke-width="1.2"/>
<text x="742.60" y="457.35" font-size="5.2" textLength="9.36" lengthAdjust="spacingAndGlyphs" fill="#262626" >MPA</text>
<line x1="726.60" y1="462.38" x2="741.30" y2="462.38" stroke="#84b04a" stroke-width="1.2"/>
<text x="742.60" y="464.68" font-size="5.2" textLength="12.34" lengthAdjust="spacingAndGlyphs" fill="#262626" >EMPA</text>
<line x1="726.60" y1="469.71" x2="741.30" y2="469.71" stroke="#262626" stroke-width="1.2"/>
<text x="742.60" y="472.01" font-size="5.2" textLength="16.07" lengthAdjust="spacingAndGlyphs" fill="#262626" >GDMPA</text>
<line x1="726.60" y1="477.04" x2="741.30" y2="477.04" stroke="#ee1c1c" stroke-width="1.9"/>
<text x="742.60" y="479.34" font-size="5.2" textLength="10.60" lengthAdjust="spacingAndGlyphs" fill="#262626" >IMPA</text></g>
<clipPath id="clipF13"><rect x="22.30" y="608.70" width="165.30" height="152.80"/></clipPath>
<g><path d="M22.3 753.86H187.6M22.3 746.22H187.6M22.3 738.58H187.6M22.3 730.94H187.6M22.3 715.66H187.6M22.3 708.02H187.6M22.3 700.38H187.6M22.3 692.74H187.6M22.3 677.46H187.6M22.3 669.82H187.6M22.3 662.18H187.6M22.3 654.54H187.6M22.3 639.26H187.6M22.3 631.62H187.6M22.3 623.98H187.6M22.3 616.34H187.6" stroke="#e6e6e6" stroke-width="0.6"/>
<path d="" stroke="#f0f0f0" stroke-width="0.6"/>
<path d="M22.3 646.90H187.6M22.3 685.10H187.6M22.3 723.30H187.6M38.83 608.7V761.5M55.36 608.7V761.5M71.89 608.7V761.5M88.42 608.7V761.5M104.95 608.7V761.5M121.48 608.7V761.5M138.01 608.7V761.5M154.54 608.7V761.5M171.07 608.7V761.5" stroke="#e4e4e4" stroke-width="0.6"/>
<g clip-path="url(#clipF13)">
<polyline points="22.64,613.81 24.40,677.67 42.02,680.97 86.06,685.38 130.11,688.24 134.51,690.88 138.92,697.49 143.32,704.10 152.13,712.91 163.14,719.51 174.15,728.32 182.96,739.33 187.36,742.63" fill="none" stroke="#f2f21a" stroke-width="1.15" stroke-linejoin="round"/>
<polyline points="22.64,613.81 26.61,624.82 33.21,640.23 42.02,649.04 44.22,655.65 46.43,666.66 47.53,669.96 55.23,673.27 64.04,675.47 77.26,677.67 86.06,679.87 97.08,682.08 108.09,683.18 130.11,684.72 143.32,687.58 187.36,688.24" fill="none" stroke="#22e022" stroke-width="1.15" stroke-linejoin="round"/>
<polyline points="22.64,613.81 24.40,675.47 26.61,679.87 42.02,680.97 86.06,683.18 130.11,683.84 134.51,685.38 143.32,688.68 187.36,689.34" fill="none" stroke="#dc7a4a" stroke-width="1.15" stroke-linejoin="round"/>
<polyline points="22.64,613.81 86.06,614.69 187.36,615.35" fill="none" stroke="#cfcfcf" stroke-width="1.15" stroke-linejoin="round"/>
<polyline points="22.64,612.71 187.36,612.71" fill="none" stroke="#2c2cec" stroke-width="1.15" stroke-linejoin="round"/>
<polyline points="22.60,613.80 23.30,697.50 26.60,704.10 28.80,710.70 32.10,711.80 33.20,719.50 37.60,721.70 53.00,723.90 94.90,723.90 97.10,726.10 102.60,726.10 103.70,730.50 176.40,730.50 177.50,733.40 187.60,733.40" fill="none" stroke="#ee44ee" stroke-width="1.15" stroke-linejoin="round"/>
<polyline points="22.64,613.81 23.30,633.63 24.40,644.64 36.52,644.64 37.62,646.84 46.43,649.04 71.75,649.04 72.19,680.97 81.66,682.08 97.08,683.18 130.11,685.38 138.92,687.58 141.12,690.88 160.94,690.88 162.04,694.19 187.36,694.19" fill="none" stroke="#84b04a" stroke-width="1.15" stroke-linejoin="round"/>
<polyline points="22.64,614.25 86.06,615.35 147.73,616.01 187.36,616.01" fill="none" stroke="#262626" stroke-width="1.15" stroke-linejoin="round"/>
<polyline points="22.60,613.80 23.30,686.50 26.60,695.30 28.80,697.50 29.90,708.50 48.60,711.80 49.70,715.10 72.90,716.20 75.10,718.40 86.10,719.50 94.90,721.70 103.70,722.80 114.70,723.90 125.70,726.10 136.70,729.40 152.10,731.00 160.90,734.90 171.90,739.30 178.60,742.60 187.60,749.20" fill="none" stroke="#ee1c1c" stroke-width="1.9" stroke-linejoin="round"/>
</g>
<rect x="22.30" y="608.70" width="165.30" height="152.80" fill="none" stroke="#6a6a6a" stroke-width="0.8"/>
<path d="M22.30 761.5v-1.6M22.30 608.7v1.6M38.83 761.5v-1.6M38.83 608.7v1.6M55.36 761.5v-1.6M55.36 608.7v1.6M71.89 761.5v-1.6M71.89 608.7v1.6M88.42 761.5v-1.6M88.42 608.7v1.6M104.95 761.5v-1.6M104.95 608.7v1.6M121.48 761.5v-1.6M121.48 608.7v1.6M138.01 761.5v-1.6M138.01 608.7v1.6M154.54 761.5v-1.6M154.54 608.7v1.6M171.07 761.5v-1.6M171.07 608.7v1.6M187.60 761.5v-1.6M187.60 608.7v1.6M22.3 608.70h1.6M187.6 608.70h-1.6M22.3 646.90h1.6M187.6 646.90h-1.6M22.3 685.10h1.6M187.6 685.10h-1.6M22.3 723.30h1.6M187.6 723.30h-1.6M22.3 761.50h1.6M187.6 761.50h-1.6" stroke="#6a6a6a" stroke-width="0.6"/>
<path d="M22.3 753.86h0.9M187.6 753.86h-0.9M22.3 746.22h0.9M187.6 746.22h-0.9M22.3 738.58h0.9M187.6 738.58h-0.9M22.3 730.94h0.9M187.6 730.94h-0.9M22.3 715.66h0.9M187.6 715.66h-0.9M22.3 708.02h0.9M187.6 708.02h-0.9M22.3 700.38h0.9M187.6 700.38h-0.9M22.3 692.74h0.9M187.6 692.74h-0.9M22.3 677.46h0.9M187.6 677.46h-0.9M22.3 669.82h0.9M187.6 669.82h-0.9M22.3 662.18h0.9M187.6 662.18h-0.9M22.3 654.54h0.9M187.6 654.54h-0.9M22.3 639.26h0.9M187.6 639.26h-0.9M22.3 631.62h0.9M187.6 631.62h-0.9M22.3 623.98h0.9M187.6 623.98h-0.9M22.3 616.34h0.9M187.6 616.34h-0.9" stroke="#6a6a6a" stroke-width="0.5"/>
<text x="20.95" y="770.20" font-size="5.6" textLength="2.71" lengthAdjust="spacingAndGlyphs" fill="#262626" >0</text>
<text x="34.77" y="770.20" font-size="5.6" textLength="8.13" lengthAdjust="spacingAndGlyphs" fill="#262626" >100</text>
<text x="51.30" y="770.20" font-size="5.6" textLength="8.13" lengthAdjust="spacingAndGlyphs" fill="#262626" >200</text>
<text x="67.83" y="770.20" font-size="5.6" textLength="8.13" lengthAdjust="spacingAndGlyphs" fill="#262626" >300</text>
<text x="84.36" y="770.20" font-size="5.6" textLength="8.13" lengthAdjust="spacingAndGlyphs" fill="#262626" >400</text>
<text x="100.89" y="770.20" font-size="5.6" textLength="8.13" lengthAdjust="spacingAndGlyphs" fill="#262626" >500</text>
<text x="117.42" y="770.20" font-size="5.6" textLength="8.13" lengthAdjust="spacingAndGlyphs" fill="#262626" >600</text>
<text x="133.95" y="770.20" font-size="5.6" textLength="8.13" lengthAdjust="spacingAndGlyphs" fill="#262626" >700</text>
<text x="150.48" y="770.20" font-size="5.6" textLength="8.13" lengthAdjust="spacingAndGlyphs" fill="#262626" >800</text>
<text x="167.01" y="770.20" font-size="5.6" textLength="8.13" lengthAdjust="spacingAndGlyphs" fill="#262626" >900</text>
<text x="182.18" y="770.20" font-size="5.6" textLength="10.84" lengthAdjust="spacingAndGlyphs" fill="#262626" >1000</text>
<text x="10.52" y="612.00" font-size="5.6" textLength="5.42" lengthAdjust="spacingAndGlyphs" fill="#262626" >10</text>
<text x="15.94" y="609.20" font-size="4.3" textLength="4.16" lengthAdjust="spacingAndGlyphs" fill="#262626" >10</text>
<text x="12.60" y="650.20" font-size="5.6" textLength="5.42" lengthAdjust="spacingAndGlyphs" fill="#262626" >10</text>
<text x="18.02" y="647.40" font-size="4.3" textLength="2.08" lengthAdjust="spacingAndGlyphs" fill="#262626" >5</text>
<text x="12.60" y="688.40" font-size="5.6" textLength="5.42" lengthAdjust="spacingAndGlyphs" fill="#262626" >10</text>
<text x="18.02" y="685.60" font-size="4.3" textLength="2.08" lengthAdjust="spacingAndGlyphs" fill="#262626" >0</text>
<text x="11.36" y="726.60" font-size="5.6" textLength="5.42" lengthAdjust="spacingAndGlyphs" fill="#262626" >10</text>
<text x="16.77" y="723.80" font-size="4.3" textLength="3.33" lengthAdjust="spacingAndGlyphs" fill="#262626" >-5</text>
<text x="9.28" y="764.80" font-size="5.6" textLength="5.42" lengthAdjust="spacingAndGlyphs" fill="#262626" >10</text>
<text x="14.69" y="762.00" font-size="4.3" textLength="5.41" lengthAdjust="spacingAndGlyphs" fill="#262626" >-10</text>
<text x="94.87" y="778.20" font-size="6.2" textLength="20.16" lengthAdjust="spacingAndGlyphs" fill="#262626" >Iteration</text>
<text x="99.55" y="606.10" font-size="6.6" textLength="10.80" lengthAdjust="spacingAndGlyphs" fill="#262626" >F13</text>
<text x="-28.72" y="0.00" font-size="6.5" textLength="57.45" lengthAdjust="spacingAndGlyphs" fill="#262626" transform="translate(5.50,685.90) rotate(-90)" style="stroke-width:0.1px">Best score obtained</text>
<rect x="146.80" y="613.50" width="36.60" height="67.90" fill="#fff" stroke="#666" stroke-width="0.6"/>
<line x1="148.40" y1="618.40" x2="163.10" y2="618.40" stroke="#f2f21a" stroke-width="1.2"/>
<text x="164.40" y="620.70" font-size="5.2" textLength="11.18" lengthAdjust="spacingAndGlyphs" fill="#262626" >RIME</text>
<line x1="148.40" y1="625.73" x2="163.10" y2="625.73" stroke="#22e022" stroke-width="1.2"/>
<text x="164.40" y="628.03" font-size="5.2" textLength="12.10" lengthAdjust="spacingAndGlyphs" fill="#262626" >AVOA</text>
<line x1="148.40" y1="633.06" x2="163.10" y2="633.06" stroke="#dc7a4a" stroke-width="1.2"/>
<text x="164.40" y="635.36" font-size="5.2" textLength="9.61" lengthAdjust="spacingAndGlyphs" fill="#262626" >GTO</text>
<line x1="148.40" y1="640.39" x2="163.10" y2="640.39" stroke="#cfcfcf" stroke-width="1.2"/>
<text x="164.40" y="642.69" font-size="5.2" textLength="10.19" lengthAdjust="spacingAndGlyphs" fill="#262626" >OMA</text>
<line x1="148.40" y1="647.72" x2="163.10" y2="647.72" stroke="#2c2cec" stroke-width="1.2"/>
<text x="164.40" y="650.02" font-size="5.2" textLength="14.66" lengthAdjust="spacingAndGlyphs" fill="#262626" >IWSCA</text>
<line x1="148.40" y1="655.05" x2="163.10" y2="655.05" stroke="#ee44ee" stroke-width="1.2"/>
<text x="164.40" y="657.35" font-size="5.2" textLength="9.36" lengthAdjust="spacingAndGlyphs" fill="#262626" >MPA</text>
<line x1="148.40" y1="662.38" x2="163.10" y2="662.38" stroke="#84b04a" stroke-width="1.2"/>
<text x="164.40" y="664.68" font-size="5.2" textLength="12.34" lengthAdjust="spacingAndGlyphs" fill="#262626" >EMPA</text>
<line x1="148.40" y1="669.71" x2="163.10" y2="669.71" stroke="#262626" stroke-width="1.2"/>
<text x="164.40" y="672.01" font-size="5.2" textLength="16.07" lengthAdjust="spacingAndGlyphs" fill="#262626" >GDMPA</text>
<line x1="148.40" y1="677.04" x2="163.10" y2="677.04" stroke="#ee1c1c" stroke-width="1.9"/>
<text x="164.40" y="679.34" font-size="5.2" textLength="10.60" lengthAdjust="spacingAndGlyphs" fill="#262626" >IMPA</text></g>
<clipPath id="clipF14"><rect x="211.80" y="608.70" width="168.60" height="152.80"/></clipPath>
<g><path d="M211.8 746.17H380.4M211.8 737.20H380.4M211.8 730.84H380.4M211.8 725.90H380.4M211.8 721.87H380.4M211.8 718.46H380.4M211.8 715.50H380.4M211.8 712.90H380.4M211.8 695.23H380.4M211.8 686.27H380.4M211.8 679.90H380.4M211.8 674.97H380.4M211.8 670.93H380.4M211.8 667.52H380.4M211.8 664.57H380.4M211.8 661.96H380.4M211.8 644.30H380.4M211.8 635.33H380.4M211.8 628.97H380.4M211.8 624.03H380.4M211.8 620.00H380.4M211.8 616.59H380.4M211.8 613.64H380.4M211.8 611.03H380.4" stroke="#f0f0f0" stroke-width="0.6"/>
<path d="M211.8 659.63H380.4M211.8 710.57H380.4M228.66 608.7V761.5M245.52 608.7V761.5M262.38 608.7V761.5M279.24 608.7V761.5M296.10 608.7V761.5M312.96 608.7V761.5M329.82 608.7V761.5M346.68 608.7V761.5M363.54 608.7V761.5" stroke="#e4e4e4" stroke-width="0.6"/>
<g clip-path="url(#clipF14)">
<polyline points="212.07,726.98 213.42,733.76 215.45,740.54 216.81,747.31 217.49,760.87" fill="none" stroke="#f2f21a" stroke-width="1.15" stroke-linejoin="round"/>
<polyline points="211.39,624.65 215.45,624.65 215.45,700.55 232.40,700.55 244.60,700.55 245.27,704.62 252.73,704.62 255.44,721.56 292.03,721.56 292.30,760.87" fill="none" stroke="#22e022" stroke-width="1.15" stroke-linejoin="round"/>
<polyline points="211.39,624.65 212.74,637.53 213.42,678.19 214.78,691.74 216.13,699.88 218.84,705.30 221.55,706.65 222.91,714.79 223.59,760.87" fill="none" stroke="#dc7a4a" stroke-width="1.15" stroke-linejoin="round"/>
<polyline points="211.39,623.98 298.00,623.98 380.40,624.00" fill="none" stroke="#2c2cec" stroke-width="1.15" stroke-linejoin="round"/>
<polyline points="211.39,623.98 212.07,678.19 213.15,705.98 217.49,709.36 223.59,709.36 224.26,712.75 271.70,712.75 273.06,714.51 298.00,714.51 380.40,714.50" fill="none" stroke="#ee44ee" stroke-width="1.15" stroke-linejoin="round"/>
<polyline points="211.39,624.65 212.07,678.19 214.10,686.32 216.81,701.23 217.49,713.43 248.66,713.43 267.64,713.43 269.67,715.46 298.00,715.46 345.40,715.50 345.60,727.80 380.40,727.80" fill="none" stroke="#84b04a" stroke-width="1.15" stroke-linejoin="round"/>
<polyline points="211.39,625.33 212.74,628.72 214.10,636.17 216.81,640.24 218.84,644.98 220.88,661.93 222.23,689.03 222.91,698.52 231.72,698.52 232.40,699.88 258.15,699.88 258.83,710.04 273.74,710.04 274.41,712.08 294.74,712.75 295.42,721.56 298.00,721.56 380.40,721.60" fill="none" stroke="#262626" stroke-width="1.15" stroke-linejoin="round"/>
<polyline points="211.39,678.19 211.80,740.54 212.74,747.31 214.10,760.87 298.00,760.87 380.40,760.90" fill="none" stroke="#ee1c1c" stroke-width="1.9" stroke-linejoin="round"/>
</g>
<rect x="211.80" y="608.70" width="168.60" height="152.80" fill="none" stroke="#6a6a6a" stroke-width="0.8"/>
<path d="M211.80 761.5v-1.6M211.80 608.7v1.6M228.66 761.5v-1.6M228.66 608.7v1.6M245.52 761.5v-1.6M245.52 608.7v1.6M262.38 761.5v-1.6M262.38 608.7v1.6M279.24 761.5v-1.6M279.24 608.7v1.6M296.10 761.5v-1.6M296.10 608.7v1.6M312.96 761.5v-1.6M312.96 608.7v1.6M329.82 761.5v-1.6M329.82 608.7v1.6M346.68 761.5v-1.6M346.68 608.7v1.6M363.54 761.5v-1.6M363.54 608.7v1.6M380.40 761.5v-1.6M380.40 608.7v1.6M211.8 608.70h1.6M380.4 608.70h-1.6M211.8 659.63h1.6M380.4 659.63h-1.6M211.8 710.57h1.6M380.4 710.57h-1.6M211.8 761.50h1.6M380.4 761.50h-1.6" stroke="#6a6a6a" stroke-width="0.6"/>
<path d="M211.8 746.17h0.9M380.4 746.17h-0.9M211.8 737.20h0.9M380.4 737.20h-0.9M211.8 730.84h0.9M380.4 730.84h-0.9M211.8 725.90h0.9M380.4 725.90h-0.9M211.8 721.87h0.9M380.4 721.87h-0.9M211.8 718.46h0.9M380.4 718.46h-0.9M211.8 715.50h0.9M380.4 715.50h-0.9M211.8 712.90h0.9M380.4 712.90h-0.9M211.8 695.23h0.9M380.4 695.23h-0.9M211.8 686.27h0.9M380.4 686.27h-0.9M211.8 679.90h0.9M380.4 679.90h-0.9M211.8 674.97h0.9M380.4 674.97h-0.9M211.8 670.93h0.9M380.4 670.93h-0.9M211.8 667.52h0.9M380.4 667.52h-0.9M211.8 664.57h0.9M380.4 664.57h-0.9M211.8 661.96h0.9M380.4 661.96h-0.9M211.8 644.30h0.9M380.4 644.30h-0.9M211.8 635.33h0.9M380.4 635.33h-0.9M211.8 628.97h0.9M380.4 628.97h-0.9M211.8 624.03h0.9M380.4 624.03h-0.9M211.8 620.00h0.9M380.4 620.00h-0.9M211.8 616.59h0.9M380.4 616.59h-0.9M211.8 613.64h0.9M380.4 613.64h-0.9M211.8 611.03h0.9M380.4 611.03h-0.9" stroke="#6a6a6a" stroke-width="0.5"/>
<text x="210.45" y="770.20" font-size="5.6" textLength="2.71" lengthAdjust="spacingAndGlyphs" fill="#262626" >0</text>
<text x="224.60" y="770.20" font-size="5.6" textLength="8.13" lengthAdjust="spacingAndGlyphs" fill="#262626" >100</text>
<text x="241.46" y="770.20" font-size="5.6" textLength="8.13" lengthAdjust="spacingAndGlyphs" fill="#262626" >200</text>
<text x="258.32" y="770.20" font-size="5.6" textLength="8.13" lengthAdjust="spacingAndGlyphs" fill="#262626" >300</text>
<text x="275.18" y="770.20" font-size="5.6" textLength="8.13" lengthAdjust="spacingAndGlyphs" fill="#262626" >400</text>
<text x="292.04" y="770.20" font-size="5.6" textLength="8.13" lengthAdjust="spacingAndGlyphs" fill="#262626" >500</text>
<text x="308.90" y="770.20" font-size="5.6" textLength="8.13" lengthAdjust="spacingAndGlyphs" fill="#262626" >600</text>
<text x="325.76" y="770.20" font-size="5.6" textLength="8.13" lengthAdjust="spacingAndGlyphs" fill="#262626" >700</text>
<text x="342.62" y="770.20" font-size="5.6" textLength="8.13" lengthAdjust="spacingAndGlyphs" fill="#262626" >800</text>
<text x="359.48" y="770.20" font-size="5.6" textLength="8.13" lengthAdjust="spacingAndGlyphs" fill="#262626" >900</text>
<text x="374.98" y="770.20" font-size="5.6" textLength="10.84" lengthAdjust="spacingAndGlyphs" fill="#262626" >1000</text>
<text x="202.10" y="612.00" font-size="5.6" textLength="5.42" lengthAdjust="spacingAndGlyphs" fill="#262626" >10</text>
<text x="207.52" y="609.20" font-size="4.3" textLength="2.08" lengthAdjust="spacingAndGlyphs" fill="#262626" >3</text>
<text x="202.10" y="662.93" font-size="5.6" textLength="5.42" lengthAdjust="spacingAndGlyphs" fill="#262626" >10</text>
<text x="207.52" y="660.13" font-size="4.3" textLength="2.08" lengthAdjust="spacingAndGlyphs" fill="#262626" >2</text>
<text x="202.10" y="713.87" font-size="5.6" textLength="5.42" lengthAdjust="spacingAndGlyphs" fill="#262626" >10</text>
<text x="207.52" y="711.07" font-size="4.3" textLength="2.08" lengthAdjust="spacingAndGlyphs" fill="#262626" >1</text>
<text x="202.10" y="764.80" font-size="5.6" textLength="5.42" lengthAdjust="spacingAndGlyphs" fill="#262626" >10</text>
<text x="207.52" y="762.00" font-size="4.3" textLength="2.08" lengthAdjust="spacingAndGlyphs" fill="#262626" >0</text>
<text x="286.02" y="778.20" font-size="6.2" textLength="20.16" lengthAdjust="spacingAndGlyphs" fill="#262626" >Iteration</text>
<text x="290.70" y="606.10" font-size="6.6" textLength="10.80" lengthAdjust="spacingAndGlyphs" fill="#262626" >F14</text>
<text x="-28.72" y="0.00" font-size="6.5" textLength="57.45" lengthAdjust="spacingAndGlyphs" fill="#262626" transform="translate(198.20,685.90) rotate(-90)" style="stroke-width:0.1px">Best score obtained</text>
<rect x="339.60" y="613.50" width="36.60" height="67.90" fill="#fff" stroke="#666" stroke-width="0.6"/>
<line x1="341.20" y1="618.40" x2="355.90" y2="618.40" stroke="#f2f21a" stroke-width="1.2"/>
<text x="357.20" y="620.70" font-size="5.2" textLength="11.18" lengthAdjust="spacingAndGlyphs" fill="#262626" >RIME</text>
<line x1="341.20" y1="625.73" x2="355.90" y2="625.73" stroke="#22e022" stroke-width="1.2"/>
<text x="357.20" y="628.03" font-size="5.2" textLength="12.10" lengthAdjust="spacingAndGlyphs" fill="#262626" >AVOA</text>
<line x1="341.20" y1="633.06" x2="355.90" y2="633.06" stroke="#dc7a4a" stroke-width="1.2"/>
<text x="357.20" y="635.36" font-size="5.2" textLength="9.61" lengthAdjust="spacingAndGlyphs" fill="#262626" >GTO</text>
<line x1="341.20" y1="640.39" x2="355.90" y2="640.39" stroke="#cfcfcf" stroke-width="1.2"/>
<text x="357.20" y="642.69" font-size="5.2" textLength="10.19" lengthAdjust="spacingAndGlyphs" fill="#262626" >OMA</text>
<line x1="341.20" y1="647.72" x2="355.90" y2="647.72" stroke="#2c2cec" stroke-width="1.2"/>
<text x="357.20" y="650.02" font-size="5.2" textLength="14.66" lengthAdjust="spacingAndGlyphs" fill="#262626" >IWSCA</text>
<line x1="341.20" y1="655.05" x2="355.90" y2="655.05" stroke="#ee44ee" stroke-width="1.2"/>
<text x="357.20" y="657.35" font-size="5.2" textLength="9.36" lengthAdjust="spacingAndGlyphs" fill="#262626" >MPA</text>
<line x1="341.20" y1="662.38" x2="355.90" y2="662.38" stroke="#84b04a" stroke-width="1.2"/>
<text x="357.20" y="664.68" font-size="5.2" textLength="12.34" lengthAdjust="spacingAndGlyphs" fill="#262626" >EMPA</text>
<line x1="341.20" y1="669.71" x2="355.90" y2="669.71" stroke="#262626" stroke-width="1.2"/>
<text x="357.20" y="672.01" font-size="5.2" textLength="16.07" lengthAdjust="spacingAndGlyphs" fill="#262626" >GDMPA</text>
<line x1="341.20" y1="677.04" x2="355.90" y2="677.04" stroke="#ee1c1c" stroke-width="1.9"/>
<text x="357.20" y="679.34" font-size="5.2" textLength="10.60" lengthAdjust="spacingAndGlyphs" fill="#262626" >IMPA</text></g>
<clipPath id="clipF15"><rect x="405.70" y="608.70" width="166.90" height="152.80"/></clipPath>
<g><path d="M405.7 753.83H572.6M405.7 749.35H572.6M405.7 746.17H572.6M405.7 743.70H572.6M405.7 741.68H572.6M405.7 739.98H572.6M405.7 738.50H572.6M405.7 737.20H572.6M405.7 728.37H572.6M405.7 723.88H572.6M405.7 720.70H572.6M405.7 718.23H572.6M405.7 716.22H572.6M405.7 714.51H572.6M405.7 713.03H572.6M405.7 711.73H572.6M405.7 702.90H572.6M405.7 698.42H572.6M405.7 695.23H572.6M405.7 692.77H572.6M405.7 690.75H572.6M405.7 689.04H572.6M405.7 687.57H572.6M405.7 686.27H572.6M405.7 677.43H572.6M405.7 672.95H572.6M405.7 669.77H572.6M405.7 667.30H572.6M405.7 665.28H572.6M405.7 663.58H572.6M405.7 662.10H572.6M405.7 660.80H572.6M405.7 651.97H572.6M405.7 647.48H572.6M405.7 644.30H572.6M405.7 641.83H572.6M405.7 639.82H572.6M405.7 638.11H572.6M405.7 636.63H572.6M405.7 635.33H572.6M405.7 626.50H572.6M405.7 622.02H572.6M405.7 618.83H572.6M405.7 616.37H572.6M405.7 614.35H572.6M405.7 612.64H572.6M405.7 611.17H572.6M405.7 609.87H572.6" stroke="#f0f0f0" stroke-width="0.6"/>
<path d="M405.7 634.17H572.6M405.7 659.63H572.6M405.7 685.10H572.6M405.7 710.57H572.6M405.7 736.03H572.6M422.39 608.7V761.5M439.08 608.7V761.5M455.77 608.7V761.5M472.46 608.7V761.5M489.15 608.7V761.5M505.84 608.7V761.5M522.53 608.7V761.5M539.22 608.7V761.5M555.91 608.7V761.5" stroke="#e4e4e4" stroke-width="0.6"/>
<g clip-path="url(#clipF15)">
<polyline points="405.71,686.32 407.07,726.98 409.10,741.89 415.20,744.60 421.98,746.64 430.11,747.99 493.00,748.40 572.60,748.40" fill="none" stroke="#f2f21a" stroke-width="1.15" stroke-linejoin="round"/>
<polyline points="405.71,672.77 407.07,682.26 408.42,686.32 411.13,690.39 413.17,694.46 415.20,699.88 416.55,706.65 421.98,709.36 424.69,710.72 426.72,714.79 430.11,716.82 454.50,717.50 461.28,719.53 468.06,720.21 478.90,720.89 487.03,723.60 489.74,724.95 493.00,724.95 540.40,726.00 566.30,729.90 572.60,729.90" fill="none" stroke="#22e022" stroke-width="1.15" stroke-linejoin="round"/>
<polyline points="405.71,621.26 406.39,686.32 408.42,708.01 409.78,720.21 411.13,728.34 415.88,729.70 417.91,733.76 419.26,740.54 427.40,740.54 428.75,742.57 435.53,745.96 493.00,747.04 572.60,747.00" fill="none" stroke="#dc7a4a" stroke-width="1.15" stroke-linejoin="round"/>
<polyline points="405.71,652.44 493.00,652.44 572.60,652.40" fill="none" stroke="#2c2cec" stroke-width="1.15" stroke-linejoin="round"/>
<polyline points="405.71,636.17 406.39,686.32 407.74,705.98 411.13,706.65 411.81,714.11 417.23,714.11 417.91,722.92 438.24,722.92 438.92,724.95 493.00,724.95 572.60,725.00" fill="none" stroke="#ee44ee" stroke-width="1.15" stroke-linejoin="round"/>
<polyline points="405.71,672.77 407.74,674.12 408.42,708.01 413.84,708.01 414.52,716.82 457.22,716.82 459.93,718.58 493.00,718.85 549.50,718.80 550.30,724.70 572.60,725.20" fill="none" stroke="#84b04a" stroke-width="1.15" stroke-linejoin="round"/>
<polyline points="405.71,672.77 407.07,698.52 413.17,699.20 413.57,720.21 419.26,720.21 419.94,727.66 436.21,727.66 436.88,729.70 493.00,729.70 572.60,729.70" fill="none" stroke="#262626" stroke-width="1.15" stroke-linejoin="round"/>
<polyline points="405.71,691.74 406.39,726.98 407.74,737.83 409.78,740.54 410.45,743.93 415.20,744.60 415.88,747.31 423.33,748.67 493.00,748.67 572.60,748.70" fill="none" stroke="#ee1c1c" stroke-width="1.9" stroke-linejoin="round"/>
</g>
<rect x="405.70" y="608.70" width="166.90" height="152.80" fill="none" stroke="#6a6a6a" stroke-width="0.8"/>
<path d="M405.70 761.5v-1.6M405.70 608.7v1.6M422.39 761.5v-1.6M422.39 608.7v1.6M439.08 761.5v-1.6M439.08 608.7v1.6M455.77 761.5v-1.6M455.77 608.7v1.6M472.46 761.5v-1.6M472.46 608.7v1.6M489.15 761.5v-1.6M489.15 608.7v1.6M505.84 761.5v-1.6M505.84 608.7v1.6M522.53 761.5v-1.6M522.53 608.7v1.6M539.22 761.5v-1.6M539.22 608.7v1.6M555.91 761.5v-1.6M555.91 608.7v1.6M572.60 761.5v-1.6M572.60 608.7v1.6M405.7 608.70h1.6M572.6 608.70h-1.6M405.7 634.17h1.6M572.6 634.17h-1.6M405.7 659.63h1.6M572.6 659.63h-1.6M405.7 685.10h1.6M572.6 685.10h-1.6M405.7 710.57h1.6M572.6 710.57h-1.6M405.7 736.03h1.6M572.6 736.03h-1.6M405.7 761.50h1.6M572.6 761.50h-1.6" stroke="#6a6a6a" stroke-width="0.6"/>
<path d="M405.7 753.83h0.9M572.6 753.83h-0.9M405.7 749.35h0.9M572.6 749.35h-0.9M405.7 746.17h0.9M572.6 746.17h-0.9M405.7 743.70h0.9M572.6 743.70h-0.9M405.7 741.68h0.9M572.6 741.68h-0.9M405.7 739.98h0.9M572.6 739.98h-0.9M405.7 738.50h0.9M572.6 738.50h-0.9M405.7 737.20h0.9M572.6 737.20h-0.9M405.7 728.37h0.9M572.6 728.37h-0.9M405.7 723.88h0.9M572.6 723.88h-0.9M405.7 720.70h0.9M572.6 720.70h-0.9M405.7 718.23h0.9M572.6 718.23h-0.9M405.7 716.22h0.9M572.6 716.22h-0.9M405.7 714.51h0.9M572.6 714.51h-0.9M405.7 713.03h0.9M572.6 713.03h-0.9M405.7 711.73h0.9M572.6 711.73h-0.9M405.7 702.90h0.9M572.6 702.90h-0.9M405.7 698.42h0.9M572.6 698.42h-0.9M405.7 695.23h0.9M572.6 695.23h-0.9M405.7 692.77h0.9M572.6 692.77h-0.9M405.7 690.75h0.9M572.6 690.75h-0.9M405.7 689.04h0.9M572.6 689.04h-0.9M405.7 687.57h0.9M572.6 687.57h-0.9M405.7 686.27h0.9M572.6 686.27h-0.9M405.7 677.43h0.9M572.6 677.43h-0.9M405.7 672.95h0.9M572.6 672.95h-0.9M405.7 669.77h0.9M572.6 669.77h-0.9M405.7 667.30h0.9M572.6 667.30h-0.9M405.7 665.28h0.9M572.6 665.28h-0.9M405.7 663.58h0.9M572.6 663.58h-0.9M405.7 662.10h0.9M572.6 662.10h-0.9M405.7 660.80h0.9M572.6 660.80h-0.9M405.7 651.97h0.9M572.6 651.97h-0.9M405.7 647.48h0.9M572.6 647.48h-0.9M405.7 644.30h0.9M572.6 644.30h-0.9M405.7 641.83h0.9M572.6 641.83h-0.9M405.7 639.82h0.9M572.6 639.82h-0.9M405.7 638.11h0.9M572.6 638.11h-0.9M405.7 636.63h0.9M572.6 636.63h-0.9M405.7 635.33h0.9M572.6 635.33h-0.9M405.7 626.50h0.9M572.6 626.50h-0.9M405.7 622.02h0.9M572.6 622.02h-0.9M405.7 618.83h0.9M572.6 618.83h-0.9M405.7 616.37h0.9M572.6 616.37h-0.9M405.7 614.35h0.9M572.6 614.35h-0.9M405.7 612.64h0.9M572.6 612.64h-0.9M405.7 611.17h0.9M572.6 611.17h-0.9M405.7 609.87h0.9M572.6 609.87h-0.9" stroke="#6a6a6a" stroke-width="0.5"/>
<text x="404.35" y="770.20" font-size="5.6" textLength="2.71" lengthAdjust="spacingAndGlyphs" fill="#262626" >0</text>
<text x="418.33" y="770.20" font-size="5.6" textLength="8.13" lengthAdjust="spacingAndGlyphs" fill="#262626" >100</text>
<text x="435.02" y="770.20" font-size="5.6" textLength="8.13" lengthAdjust="spacingAndGlyphs" fill="#262626" >200</text>
<text x="451.71" y="770.20" font-size="5.6" textLength="8.13" lengthAdjust="spacingAndGlyphs" fill="#262626" >300</text>
<text x="468.40" y="770.20" font-size="5.6" textLength="8.13" lengthAdjust="spacingAndGlyphs" fill="#262626" >400</text>
<text x="485.09" y="770.20" font-size="5.6" textLength="8.13" lengthAdjust="spacingAndGlyphs" fill="#262626" >500</text>
<text x="501.78" y="770.20" font-size="5.6" textLength="8.13" lengthAdjust="spacingAndGlyphs" fill="#262626" >600</text>
<text x="518.47" y="770.20" font-size="5.6" textLength="8.13" lengthAdjust="spacingAndGlyphs" fill="#262626" >700</text>
<text x="535.16" y="770.20" font-size="5.6" textLength="8.13" lengthAdjust="spacingAndGlyphs" fill="#262626" >800</text>
<text x="551.85" y="770.20" font-size="5.6" textLength="8.13" lengthAdjust="spacingAndGlyphs" fill="#262626" >900</text>
<text x="567.18" y="770.20" font-size="5.6" textLength="10.84" lengthAdjust="spacingAndGlyphs" fill="#262626" >1000</text>
<text x="396.00" y="612.00" font-size="5.6" textLength="5.42" lengthAdjust="spacingAndGlyphs" fill="#262626" >10</text>
<text x="401.42" y="609.20" font-size="4.3" textLength="2.08" lengthAdjust="spacingAndGlyphs" fill="#262626" >2</text>
<text x="396.00" y="637.47" font-size="5.6" textLength="5.42" lengthAdjust="spacingAndGlyphs" fill="#262626" >10</text>
<text x="401.42" y="634.67" font-size="4.3" textLength="2.08" lengthAdjust="spacingAndGlyphs" fill="#262626" >1</text>
<text x="396.00" y="662.93" font-size="5.6" textLength="5.42" lengthAdjust="spacingAndGlyphs" fill="#262626" >10</text>
<text x="401.42" y="660.13" font-size="4.3" textLength="2.08" lengthAdjust="spacingAndGlyphs" fill="#262626" >0</text>
<text x="394.76" y="688.40" font-size="5.6" textLength="5.42" lengthAdjust="spacingAndGlyphs" fill="#262626" >10</text>
<text x="400.17" y="685.60" font-size="4.3" textLength="3.33" lengthAdjust="spacingAndGlyphs" fill="#262626" >-1</text>
<text x="394.76" y="713.87" font-size="5.6" textLength="5.42" lengthAdjust="spacingAndGlyphs" fill="#262626" >10</text>
<text x="400.17" y="711.07" font-size="4.3" textLength="3.33" lengthAdjust="spacingAndGlyphs" fill="#262626" >-2</text>
<text x="394.76" y="739.33" font-size="5.6" textLength="5.42" lengthAdjust="spacingAndGlyphs" fill="#262626" >10</text>
<text x="400.17" y="736.53" font-size="4.3" textLength="3.33" lengthAdjust="spacingAndGlyphs" fill="#262626" >-3</text>
<text x="394.76" y="764.80" font-size="5.6" textLength="5.42" lengthAdjust="spacingAndGlyphs" fill="#262626" >10</text>
<text x="400.17" y="762.00" font-size="4.3" textLength="3.33" lengthAdjust="spacingAndGlyphs" fill="#262626" >-4</text>
<text x="479.07" y="778.20" font-size="6.2" textLength="20.16" lengthAdjust="spacingAndGlyphs" fill="#262626" >Iteration</text>
<text x="483.75" y="606.10" font-size="6.6" textLength="10.80" lengthAdjust="spacingAndGlyphs" fill="#262626" >F15</text>
<text x="-28.72" y="0.00" font-size="6.5" textLength="57.45" lengthAdjust="spacingAndGlyphs" fill="#262626" transform="translate(390.90,685.90) rotate(-90)" style="stroke-width:0.1px">Best score obtained</text>
<rect x="531.80" y="613.50" width="36.60" height="67.90" fill="#fff" stroke="#666" stroke-width="0.6"/>
<line x1="533.40" y1="618.40" x2="548.10" y2="618.40" stroke="#f2f21a" stroke-width="1.2"/>
<text x="549.40" y="620.70" font-size="5.2" textLength="11.18" lengthAdjust="spacingAndGlyphs" fill="#262626" >RIME</text>
<line x1="533.40" y1="625.73" x2="548.10" y2="625.73" stroke="#22e022" stroke-width="1.2"/>
<text x="549.40" y="628.03" font-size="5.2" textLength="12.10" lengthAdjust="spacingAndGlyphs" fill="#262626" >AVOA</text>
<line x1="533.40" y1="633.06" x2="548.10" y2="633.06" stroke="#dc7a4a" stroke-width="1.2"/>
<text x="549.40" y="635.36" font-size="5.2" textLength="9.61" lengthAdjust="spacingAndGlyphs" fill="#262626" >GTO</text>
<line x1="533.40" y1="640.39" x2="548.10" y2="640.39" stroke="#cfcfcf" stroke-width="1.2"/>
<text x="549.40" y="642.69" font-size="5.2" textLength="10.19" lengthAdjust="spacingAndGlyphs" fill="#262626" >OMA</text>
<line x1="533.40" y1="647.72" x2="548.10" y2="647.72" stroke="#2c2cec" stroke-width="1.2"/>
<text x="549.40" y="650.02" font-size="5.2" textLength="14.66" lengthAdjust="spacingAndGlyphs" fill="#262626" >IWSCA</text>
<line x1="533.40" y1="655.05" x2="548.10" y2="655.05" stroke="#ee44ee" stroke-width="1.2"/>
<text x="549.40" y="657.35" font-size="5.2" textLength="9.36" lengthAdjust="spacingAndGlyphs" fill="#262626" >MPA</text>
<line x1="533.40" y1="662.38" x2="548.10" y2="662.38" stroke="#84b04a" stroke-width="1.2"/>
<text x="549.40" y="664.68" font-size="5.2" textLength="12.34" lengthAdjust="spacingAndGlyphs" fill="#262626" >EMPA</text>
<line x1="533.40" y1="669.71" x2="548.10" y2="669.71" stroke="#262626" stroke-width="1.2"/>
<text x="549.40" y="672.01" font-size="5.2" textLength="16.07" lengthAdjust="spacingAndGlyphs" fill="#262626" >GDMPA</text>
<line x1="533.40" y1="677.04" x2="548.10" y2="677.04" stroke="#ee1c1c" stroke-width="1.9"/>
<text x="549.40" y="679.34" font-size="5.2" textLength="10.60" lengthAdjust="spacingAndGlyphs" fill="#262626" >IMPA</text></g>
<clipPath id="clipF16"><rect x="597.90" y="608.70" width="167.90" height="152.80"/></clipPath>
<g><path d="M597.9 753.83H765.8M597.9 749.35H765.8M597.9 746.17H765.8M597.9 743.70H765.8M597.9 741.68H765.8M597.9 739.98H765.8M597.9 738.50H765.8M597.9 737.20H765.8M597.9 728.37H765.8M597.9 723.88H765.8M597.9 720.70H765.8M597.9 718.23H765.8M597.9 716.22H765.8M597.9 714.51H765.8M597.9 713.03H765.8M597.9 711.73H765.8M597.9 702.90H765.8M597.9 698.42H765.8M597.9 695.23H765.8M597.9 692.77H765.8M597.9 690.75H765.8M597.9 689.04H765.8M597.9 687.57H765.8M597.9 686.27H765.8M597.9 677.43H765.8M597.9 672.95H765.8M597.9 669.77H765.8M597.9 667.30H765.8M597.9 665.28H765.8M597.9 663.58H765.8M597.9 662.10H765.8M597.9 660.80H765.8M597.9 651.97H765.8M597.9 647.48H765.8M597.9 644.30H765.8M597.9 641.83H765.8M597.9 639.82H765.8M597.9 638.11H765.8M597.9 636.63H765.8M597.9 635.33H765.8M597.9 626.50H765.8M597.9 622.02H765.8M597.9 618.83H765.8M597.9 616.37H765.8M597.9 614.35H765.8M597.9 612.64H765.8M597.9 611.17H765.8M597.9 609.87H765.8" stroke="#f0f0f0" stroke-width="0.6"/>
<path d="M597.9 634.17H765.8M597.9 659.63H765.8M597.9 685.10H765.8M597.9 710.57H765.8M597.9 736.03H765.8M614.69 608.7V761.5M631.48 608.7V761.5M648.27 608.7V761.5M665.06 608.7V761.5M681.85 608.7V761.5M698.64 608.7V761.5M715.43 608.7V761.5M732.22 608.7V761.5M749.01 608.7V761.5" stroke="#e4e4e4" stroke-width="0.6"/>
<g clip-path="url(#clipF16)">
<polyline points="597.91,662.54 599.20,687.93 603.09,687.93 603.61,711.76 608.27,713.83 610.34,713.83 610.86,718.24" fill="none" stroke="#22e022" stroke-width="1.15" stroke-linejoin="round"/>
<polyline points="597.91,632.75 599.20,649.59 599.98,706.58 600.50,729.90" fill="none" stroke="#dc7a4a" stroke-width="1.15" stroke-linejoin="round"/>
<polyline points="597.91,638.70 765.78,638.70" fill="none" stroke="#2c2cec" stroke-width="1.15" stroke-linejoin="round"/>
<polyline points="597.91,667.72 598.68,753.21 602.57,753.21" fill="none" stroke="#84b04a" stroke-width="1.15" stroke-linejoin="round"/>
<polyline points="597.91,665.13 598.68,709.17" fill="none" stroke="#262626" stroke-width="1.15" stroke-linejoin="round"/>
</g>
<rect x="597.90" y="608.70" width="167.90" height="152.80" fill="none" stroke="#6a6a6a" stroke-width="0.8"/>
<path d="M597.90 761.5v-1.6M597.90 608.7v1.6M614.69 761.5v-1.6M614.69 608.7v1.6M631.48 761.5v-1.6M631.48 608.7v1.6M648.27 761.5v-1.6M648.27 608.7v1.6M665.06 761.5v-1.6M665.06 608.7v1.6M681.85 761.5v-1.6M681.85 608.7v1.6M698.64 761.5v-1.6M698.64 608.7v1.6M715.43 761.5v-1.6M715.43 608.7v1.6M732.22 761.5v-1.6M732.22 608.7v1.6M749.01 761.5v-1.6M749.01 608.7v1.6M765.80 761.5v-1.6M765.80 608.7v1.6M597.9 608.70h1.6M765.8 608.70h-1.6M597.9 634.17h1.6M765.8 634.17h-1.6M597.9 659.63h1.6M765.8 659.63h-1.6M597.9 685.10h1.6M765.8 685.10h-1.6M597.9 710.57h1.6M765.8 710.57h-1.6M597.9 736.03h1.6M765.8 736.03h-1.6M597.9 761.50h1.6M765.8 761.50h-1.6" stroke="#6a6a6a" stroke-width="0.6"/>
<path d="M597.9 753.83h0.9M765.8 753.83h-0.9M597.9 749.35h0.9M765.8 749.35h-0.9M597.9 746.17h0.9M765.8 746.17h-0.9M597.9 743.70h0.9M765.8 743.70h-0.9M597.9 741.68h0.9M765.8 741.68h-0.9M597.9 739.98h0.9M765.8 739.98h-0.9M597.9 738.50h0.9M765.8 738.50h-0.9M597.9 737.20h0.9M765.8 737.20h-0.9M597.9 728.37h0.9M765.8 728.37h-0.9M597.9 723.88h0.9M765.8 723.88h-0.9M597.9 720.70h0.9M765.8 720.70h-0.9M597.9 718.23h0.9M765.8 718.23h-0.9M597.9 716.22h0.9M765.8 716.22h-0.9M597.9 714.51h0.9M765.8 714.51h-0.9M597.9 713.03h0.9M765.8 713.03h-0.9M597.9 711.73h0.9M765.8 711.73h-0.9M597.9 702.90h0.9M765.8 702.90h-0.9M597.9 698.42h0.9M765.8 698.42h-0.9M597.9 695.23h0.9M765.8 695.23h-0.9M597.9 692.77h0.9M765.8 692.77h-0.9M597.9 690.75h0.9M765.8 690.75h-0.9M597.9 689.04h0.9M765.8 689.04h-0.9M597.9 687.57h0.9M765.8 687.57h-0.9M597.9 686.27h0.9M765.8 686.27h-0.9M597.9 677.43h0.9M765.8 677.43h-0.9M597.9 672.95h0.9M765.8 672.95h-0.9M597.9 669.77h0.9M765.8 669.77h-0.9M597.9 667.30h0.9M765.8 667.30h-0.9M597.9 665.28h0.9M765.8 665.28h-0.9M597.9 663.58h0.9M765.8 663.58h-0.9M597.9 662.10h0.9M765.8 662.10h-0.9M597.9 660.80h0.9M765.8 660.80h-0.9M597.9 651.97h0.9M765.8 651.97h-0.9M597.9 647.48h0.9M765.8 647.48h-0.9M597.9 644.30h0.9M765.8 644.30h-0.9M597.9 641.83h0.9M765.8 641.83h-0.9M597.9 639.82h0.9M765.8 639.82h-0.9M597.9 638.11h0.9M765.8 638.11h-0.9M597.9 636.63h0.9M765.8 636.63h-0.9M597.9 635.33h0.9M765.8 635.33h-0.9M597.9 626.50h0.9M765.8 626.50h-0.9M597.9 622.02h0.9M765.8 622.02h-0.9M597.9 618.83h0.9M765.8 618.83h-0.9M597.9 616.37h0.9M765.8 616.37h-0.9M597.9 614.35h0.9M765.8 614.35h-0.9M597.9 612.64h0.9M765.8 612.64h-0.9M597.9 611.17h0.9M765.8 611.17h-0.9M597.9 609.87h0.9M765.8 609.87h-0.9" stroke="#6a6a6a" stroke-width="0.5"/>
<text x="596.55" y="770.20" font-size="5.6" textLength="2.71" lengthAdjust="spacingAndGlyphs" fill="#262626" >0</text>
<text x="610.63" y="770.20" font-size="5.6" textLength="8.13" lengthAdjust="spacingAndGlyphs" fill="#262626" >100</text>
<text x="627.42" y="770.20" font-size="5.6" textLength="8.13" lengthAdjust="spacingAndGlyphs" fill="#262626" >200</text>
<text x="644.21" y="770.20" font-size="5.6" textLength="8.13" lengthAdjust="spacingAndGlyphs" fill="#262626" >300</text>
<text x="661.00" y="770.20" font-size="5.6" textLength="8.13" lengthAdjust="spacingAndGlyphs" fill="#262626" >400</text>
<text x="677.79" y="770.20" font-size="5.6" textLength="8.13" lengthAdjust="spacingAndGlyphs" fill="#262626" >500</text>
<text x="694.58" y="770.20" font-size="5.6" textLength="8.13" lengthAdjust="spacingAndGlyphs" fill="#262626" >600</text>
<text x="711.37" y="770.20" font-size="5.6" textLength="8.13" lengthAdjust="spacingAndGlyphs" fill="#262626" >700</text>
<text x="728.16" y="770.20" font-size="5.6" textLength="8.13" lengthAdjust="spacingAndGlyphs" fill="#262626" >800</text>
<text x="744.95" y="770.20" font-size="5.6" textLength="8.13" lengthAdjust="spacingAndGlyphs" fill="#262626" >900</text>
<text x="760.38" y="770.20" font-size="5.6" textLength="10.84" lengthAdjust="spacingAndGlyphs" fill="#262626" >1000</text>
<text x="588.20" y="612.00" font-size="5.6" textLength="5.42" lengthAdjust="spacingAndGlyphs" fill="#262626" >10</text>
<text x="593.62" y="609.20" font-size="4.3" textLength="2.08" lengthAdjust="spacingAndGlyphs" fill="#262626" >4</text>
<text x="588.20" y="637.47" font-size="5.6" textLength="5.42" lengthAdjust="spacingAndGlyphs" fill="#262626" >10</text>
<text x="593.62" y="634.67" font-size="4.3" textLength="2.08" lengthAdjust="spacingAndGlyphs" fill="#262626" >3</text>
<text x="588.20" y="662.93" font-size="5.6" textLength="5.42" lengthAdjust="spacingAndGlyphs" fill="#262626" >10</text>
<text x="593.62" y="660.13" font-size="4.3" textLength="2.08" lengthAdjust="spacingAndGlyphs" fill="#262626" >2</text>
<text x="588.20" y="688.40" font-size="5.6" textLength="5.42" lengthAdjust="spacingAndGlyphs" fill="#262626" >10</text>
<text x="593.62" y="685.60" font-size="4.3" textLength="2.08" lengthAdjust="spacingAndGlyphs" fill="#262626" >1</text>
<text x="588.20" y="713.87" font-size="5.6" textLength="5.42" lengthAdjust="spacingAndGlyphs" fill="#262626" >10</text>
<text x="593.62" y="711.07" font-size="4.3" textLength="2.08" lengthAdjust="spacingAndGlyphs" fill="#262626" >0</text>
<text x="586.96" y="739.33" font-size="5.6" textLength="5.42" lengthAdjust="spacingAndGlyphs" fill="#262626" >10</text>
<text x="592.37" y="736.53" font-size="4.3" textLength="3.33" lengthAdjust="spacingAndGlyphs" fill="#262626" >-1</text>
<text x="586.96" y="764.80" font-size="5.6" textLength="5.42" lengthAdjust="spacingAndGlyphs" fill="#262626" >10</text>
<text x="592.37" y="762.00" font-size="4.3" textLength="3.33" lengthAdjust="spacingAndGlyphs" fill="#262626" >-2</text>
<text x="671.77" y="778.20" font-size="6.2" textLength="20.16" lengthAdjust="spacingAndGlyphs" fill="#262626" >Iteration</text>
<text x="676.45" y="606.10" font-size="6.6" textLength="10.80" lengthAdjust="spacingAndGlyphs" fill="#262626" >F16</text>
<text x="-28.72" y="0.00" font-size="6.5" textLength="57.45" lengthAdjust="spacingAndGlyphs" fill="#262626" transform="translate(583.60,685.90) rotate(-90)" style="stroke-width:0.1px">Best score obtained</text>
<rect x="725.00" y="613.50" width="36.60" height="67.90" fill="#fff" stroke="#666" stroke-width="0.6"/>
<line x1="726.60" y1="618.40" x2="741.30" y2="618.40" stroke="#f2f21a" stroke-width="1.2"/>
<text x="742.60" y="620.70" font-size="5.2" textLength="11.18" lengthAdjust="spacingAndGlyphs" fill="#262626" >RIME</text>
<line x1="726.60" y1="625.73" x2="741.30" y2="625.73" stroke="#22e022" stroke-width="1.2"/>
<text x="742.60" y="628.03" font-size="5.2" textLength="12.10" lengthAdjust="spacingAndGlyphs" fill="#262626" >AVOA</text>
<line x1="726.60" y1="633.06" x2="741.30" y2="633.06" stroke="#dc7a4a" stroke-width="1.2"/>
<text x="742.60" y="635.36" font-size="5.2" textLength="9.61" lengthAdjust="spacingAndGlyphs" fill="#262626" >GTO</text>
<line x1="726.60" y1="640.39" x2="741.30" y2="640.39" stroke="#cfcfcf" stroke-width="1.2"/>
<text x="742.60" y="642.69" font-size="5.2" textLength="10.19" lengthAdjust="spacingAndGlyphs" fill="#262626" >OMA</text>
<line x1="726.60" y1="647.72" x2="741.30" y2="647.72" stroke="#2c2cec" stroke-width="1.2"/>
<text x="742.60" y="650.02" font-size="5.2" textLength="14.66" lengthAdjust="spacingAndGlyphs" fill="#262626" >IWSCA</text>
<line x1="726.60" y1="655.05" x2="741.30" y2="655.05" stroke="#ee44ee" stroke-width="1.2"/>
<text x="742.60" y="657.35" font-size="5.2" textLength="9.36" lengthAdjust="spacingAndGlyphs" fill="#262626" >MPA</text>
<line x1="726.60" y1="662.38" x2="741.30" y2="662.38" stroke="#84b04a" stroke-width="1.2"/>
<text x="742.60" y="664.68" font-size="5.2" textLength="12.34" lengthAdjust="spacingAndGlyphs" fill="#262626" >EMPA</text>
<line x1="726.60" y1="669.71" x2="741.30" y2="669.71" stroke="#262626" stroke-width="1.2"/>
<text x="742.60" y="672.01" font-size="5.2" textLength="16.07" lengthAdjust="spacingAndGlyphs" fill="#262626" >GDMPA</text>
<line x1="726.60" y1="677.04" x2="741.30" y2="677.04" stroke="#ee1c1c" stroke-width="1.9"/>
<text x="742.60" y="679.34" font-size="5.2" textLength="10.60" lengthAdjust="spacingAndGlyphs" fill="#262626" >IMPA</text></g>
<clipPath id="clipF17"><rect x="18.50" y="808.20" width="169.10" height="153.10"/></clipPath>
<g><path d="M18.5 956.03H187.6M18.5 950.95H187.6M18.5 946.65H187.6M18.5 942.92H187.6M18.5 939.63H187.6M18.5 917.35H187.6M18.5 906.04H187.6M18.5 898.01H187.6M18.5 891.79H187.6M18.5 886.70H187.6M18.5 882.40H187.6M18.5 878.67H187.6M18.5 875.39H187.6M18.5 853.11H187.6M18.5 841.79H187.6M18.5 833.77H187.6M18.5 827.54H187.6M18.5 822.45H187.6M18.5 818.15H187.6M18.5 814.43H187.6M18.5 811.14H187.6" stroke="#f0f0f0" stroke-width="0.6"/>
<path d="M18.5 872.45H187.6M18.5 936.69H187.6M35.41 808.2V961.3M52.32 808.2V961.3M69.23 808.2V961.3M86.14 808.2V961.3M103.05 808.2V961.3M119.96 808.2V961.3M136.87 808.2V961.3M153.78 808.2V961.3M170.69 808.2V961.3" stroke="#e4e4e4" stroke-width="0.6"/>
<g clip-path="url(#clipF17)">
<polyline points="18.39,926.98 19.07,954.09 19.74,960.19 23.13,960.73 187.60,960.90" fill="none" stroke="#f2f21a" stroke-width="1.15" stroke-linejoin="round"/>
<polyline points="18.39,859.22 19.74,861.93 20.42,899.88 21.10,940.54 23.13,941.22 25.84,941.89 27.20,942.57 27.47,960.87" fill="none" stroke="#22e022" stroke-width="1.15" stroke-linejoin="round"/>
<polyline points="18.39,861.93 20.42,870.06 21.78,872.77 23.81,889.03 25.17,891.74 25.84,940.54 26.52,943.25 27.88,959.51 28.55,960.19" fill="none" stroke="#dc7a4a" stroke-width="1.15" stroke-linejoin="round"/>
<polyline points="19.47,878.46 105.00,878.46 187.60,878.50" fill="none" stroke="#2c2cec" stroke-width="1.15" stroke-linejoin="round"/>
<polyline points="18.39,817.20 18.80,859.22 19.74,910.72 20.69,940.54 23.13,941.89 23.81,950.70 36.69,951.38 37.36,960.87" fill="none" stroke="#ee44ee" stroke-width="1.15" stroke-linejoin="round"/>
<polyline points="18.39,861.93 20.42,920.21 25.17,921.56 25.84,923.60 33.30,923.60 33.98,933.76 39.40,934.44 40.07,939.86 46.85,939.86 47.53,945.96 84.80,945.96 89.55,947.99 89.82,957.48 105.00,957.48 155.40,957.50 180.00,957.90 187.60,958.40" fill="none" stroke="#84b04a" stroke-width="1.15" stroke-linejoin="round"/>
<polyline points="18.39,855.15 19.74,872.77 20.42,889.03 21.10,940.54 23.13,945.96 29.91,946.64 31.94,948.40 85.48,948.40 101.74,948.40 104.46,950.03 113.00,950.20 113.30,960.00 187.60,960.20" fill="none" stroke="#262626" stroke-width="1.15" stroke-linejoin="round"/>
<polyline points="18.39,910.72 19.07,959.51 20.42,960.87 105.00,960.87 187.60,960.90" fill="none" stroke="#ee1c1c" stroke-width="1.9" stroke-linejoin="round"/>
</g>
<rect x="18.50" y="808.20" width="169.10" height="153.10" fill="none" stroke="#6a6a6a" stroke-width="0.8"/>
<path d="M18.50 961.3v-1.6M18.50 808.2v1.6M35.41 961.3v-1.6M35.41 808.2v1.6M52.32 961.3v-1.6M52.32 808.2v1.6M69.23 961.3v-1.6M69.23 808.2v1.6M86.14 961.3v-1.6M86.14 808.2v1.6M103.05 961.3v-1.6M103.05 808.2v1.6M119.96 961.3v-1.6M119.96 808.2v1.6M136.87 961.3v-1.6M136.87 808.2v1.6M153.78 961.3v-1.6M153.78 808.2v1.6M170.69 961.3v-1.6M170.69 808.2v1.6M187.60 961.3v-1.6M187.60 808.2v1.6M18.5 808.20h1.6M187.6 808.20h-1.6M18.5 872.45h1.6M187.6 872.45h-1.6M18.5 936.69h1.6M187.6 936.69h-1.6" stroke="#6a6a6a" stroke-width="0.6"/>
<path d="M18.5 956.03h0.9M187.6 956.03h-0.9M18.5 950.95h0.9M187.6 950.95h-0.9M18.5 946.65h0.9M187.6 946.65h-0.9M18.5 942.92h0.9M187.6 942.92h-0.9M18.5 939.63h0.9M187.6 939.63h-0.9M18.5 917.35h0.9M187.6 917.35h-0.9M18.5 906.04h0.9M187.6 906.04h-0.9M18.5 898.01h0.9M187.6 898.01h-0.9M18.5 891.79h0.9M187.6 891.79h-0.9M18.5 886.70h0.9M187.6 886.70h-0.9M18.5 882.40h0.9M187.6 882.40h-0.9M18.5 878.67h0.9M187.6 878.67h-0.9M18.5 875.39h0.9M187.6 875.39h-0.9M18.5 853.11h0.9M187.6 853.11h-0.9M18.5 841.79h0.9M187.6 841.79h-0.9M18.5 833.77h0.9M187.6 833.77h-0.9M18.5 827.54h0.9M187.6 827.54h-0.9M18.5 822.45h0.9M187.6 822.45h-0.9M18.5 818.15h0.9M187.6 818.15h-0.9M18.5 814.43h0.9M187.6 814.43h-0.9M18.5 811.14h0.9M187.6 811.14h-0.9" stroke="#6a6a6a" stroke-width="0.5"/>
<text x="17.15" y="970.00" font-size="5.6" textLength="2.71" lengthAdjust="spacingAndGlyphs" fill="#262626" >0</text>
<text x="31.35" y="970.00" font-size="5.6" textLength="8.13" lengthAdjust="spacingAndGlyphs" fill="#262626" >100</text>
<text x="48.26" y="970.00" font-size="5.6" textLength="8.13" lengthAdjust="spacingAndGlyphs" fill="#262626" >200</text>
<text x="65.17" y="970.00" font-size="5.6" textLength="8.13" lengthAdjust="spacingAndGlyphs" fill="#262626" >300</text>
<text x="82.08" y="970.00" font-size="5.6" textLength="8.13" lengthAdjust="spacingAndGlyphs" fill="#262626" >400</text>
<text x="98.99" y="970.00" font-size="5.6" textLength="8.13" lengthAdjust="spacingAndGlyphs" fill="#262626" >500</text>
<text x="115.90" y="970.00" font-size="5.6" textLength="8.13" lengthAdjust="spacingAndGlyphs" fill="#262626" >600</text>
<text x="132.81" y="970.00" font-size="5.6" textLength="8.13" lengthAdjust="spacingAndGlyphs" fill="#262626" >700</text>
<text x="149.72" y="970.00" font-size="5.6" textLength="8.13" lengthAdjust="spacingAndGlyphs" fill="#262626" >800</text>
<text x="166.63" y="970.00" font-size="5.6" textLength="8.13" lengthAdjust="spacingAndGlyphs" fill="#262626" >900</text>
<text x="182.18" y="970.00" font-size="5.6" textLength="10.84" lengthAdjust="spacingAndGlyphs" fill="#262626" >1000</text>
<text x="8.80" y="811.50" font-size="5.6" textLength="5.42" lengthAdjust="spacingAndGlyphs" fill="#262626" >10</text>
<text x="14.22" y="808.70" font-size="4.3" textLength="2.08" lengthAdjust="spacingAndGlyphs" fill="#262626" >2</text>
<text x="8.80" y="875.75" font-size="5.6" textLength="5.42" lengthAdjust="spacingAndGlyphs" fill="#262626" >10</text>
<text x="14.22" y="872.95" font-size="4.3" textLength="2.08" lengthAdjust="spacingAndGlyphs" fill="#262626" >1</text>
<text x="8.80" y="939.99" font-size="5.6" textLength="5.42" lengthAdjust="spacingAndGlyphs" fill="#262626" >10</text>
<text x="14.22" y="937.19" font-size="4.3" textLength="2.08" lengthAdjust="spacingAndGlyphs" fill="#262626" >0</text>
<text x="92.97" y="978.00" font-size="6.2" textLength="20.16" lengthAdjust="spacingAndGlyphs" fill="#262626" >Iteration</text>
<text x="97.65" y="805.60" font-size="6.6" textLength="10.80" lengthAdjust="spacingAndGlyphs" fill="#262626" >F17</text>
<text x="-28.72" y="0.00" font-size="6.5" textLength="57.45" lengthAdjust="spacingAndGlyphs" fill="#262626" transform="translate(5.50,885.55) rotate(-90)" style="stroke-width:0.1px">Best score obtained</text>
<rect x="146.80" y="813.00" width="36.60" height="67.90" fill="#fff" stroke="#666" stroke-width="0.6"/>
<line x1="148.40" y1="817.90" x2="163.10" y2="817.90" stroke="#f2f21a" stroke-width="1.2"/>
<text x="164.40" y="820.20" font-size="5.2" textLength="11.18" lengthAdjust="spacingAndGlyphs" fill="#262626" >RIME</text>
<line x1="148.40" y1="825.23" x2="163.10" y2="825.23" stroke="#22e022" stroke-width="1.2"/>
<text x="164.40" y="827.53" font-size="5.2" textLength="12.10" lengthAdjust="spacingAndGlyphs" fill="#262626" >AVOA</text>
<line x1="148.40" y1="832.56" x2="163.10" y2="832.56" stroke="#dc7a4a" stroke-width="1.2"/>
<text x="164.40" y="834.86" font-size="5.2" textLength="9.61" lengthAdjust="spacingAndGlyphs" fill="#262626" >GTO</text>
<line x1="148.40" y1="839.89" x2="163.10" y2="839.89" stroke="#cfcfcf" stroke-width="1.2"/>
<text x="164.40" y="842.19" font-size="5.2" textLength="10.19" lengthAdjust="spacingAndGlyphs" fill="#262626" >OMA</text>
<line x1="148.40" y1="847.22" x2="163.10" y2="847.22" stroke="#2c2cec" stroke-width="1.2"/>
<text x="164.40" y="849.52" font-size="5.2" textLength="14.66" lengthAdjust="spacingAndGlyphs" fill="#262626" >IWSCA</text>
<line x1="148.40" y1="854.55" x2="163.10" y2="854.55" stroke="#ee44ee" stroke-width="1.2"/>
<text x="164.40" y="856.85" font-size="5.2" textLength="9.36" lengthAdjust="spacingAndGlyphs" fill="#262626" >MPA</text>
<line x1="148.40" y1="861.88" x2="163.10" y2="861.88" stroke="#84b04a" stroke-width="1.2"/>
<text x="164.40" y="864.18" font-size="5.2" textLength="12.34" lengthAdjust="spacingAndGlyphs" fill="#262626" >EMPA</text>
<line x1="148.40" y1="869.21" x2="163.10" y2="869.21" stroke="#262626" stroke-width="1.2"/>
<text x="164.40" y="871.51" font-size="5.2" textLength="16.07" lengthAdjust="spacingAndGlyphs" fill="#262626" >GDMPA</text>
<line x1="148.40" y1="876.54" x2="163.10" y2="876.54" stroke="#ee1c1c" stroke-width="1.9"/>
<text x="164.40" y="878.84" font-size="5.2" textLength="10.60" lengthAdjust="spacingAndGlyphs" fill="#262626" >IMPA</text></g>
<clipPath id="clipF18"><rect x="211.50" y="808.00" width="168.90" height="153.30"/></clipPath>
<g><path d="M211.5 952.07H380.4M211.5 946.67H380.4M211.5 942.84H380.4M211.5 939.87H380.4M211.5 937.44H380.4M211.5 935.39H380.4M211.5 933.61H380.4M211.5 932.04H380.4M211.5 921.41H380.4M211.5 916.01H380.4M211.5 912.18H380.4M211.5 909.21H380.4M211.5 906.78H380.4M211.5 904.73H380.4M211.5 902.95H380.4M211.5 901.38H380.4M211.5 890.75H380.4M211.5 885.35H380.4M211.5 881.52H380.4M211.5 878.55H380.4M211.5 876.12H380.4M211.5 874.07H380.4M211.5 872.29H380.4M211.5 870.72H380.4M211.5 860.09H380.4M211.5 854.69H380.4M211.5 850.86H380.4M211.5 847.89H380.4M211.5 845.46H380.4M211.5 843.41H380.4M211.5 841.63H380.4M211.5 840.06H380.4M211.5 829.43H380.4M211.5 824.03H380.4M211.5 820.20H380.4M211.5 817.23H380.4M211.5 814.80H380.4M211.5 812.75H380.4M211.5 810.97H380.4M211.5 809.40H380.4" stroke="#f0f0f0" stroke-width="0.6"/>
<path d="M211.5 838.66H380.4M211.5 869.32H380.4M211.5 899.98H380.4M211.5 930.64H380.4M228.39 808.0V961.3M245.28 808.0V961.3M262.17 808.0V961.3M279.06 808.0V961.3M295.95 808.0V961.3M312.84 808.0V961.3M329.73 808.0V961.3M346.62 808.0V961.3M363.51 808.0V961.3" stroke="#e4e4e4" stroke-width="0.6"/>
<g clip-path="url(#clipF18)">
<polyline points="211.39,931.05 212.07,945.96 216.13,946.50" fill="none" stroke="#f2f21a" stroke-width="1.15" stroke-linejoin="round"/>
<polyline points="211.39,886.32 212.74,920.21 216.13,921.56 222.91,921.83 224.26,931.05 226.30,934.44 235.11,934.44 236.46,941.22 245.27,941.22 245.95,945.28 254.76,945.28" fill="none" stroke="#22e022" stroke-width="1.15" stroke-linejoin="round"/>
<polyline points="211.39,825.33 211.80,910.72 213.42,912.08 221.55,913.43 228.33,915.46 298.00,916.41 380.40,916.40" fill="none" stroke="#dc7a4a" stroke-width="1.15" stroke-linejoin="round"/>
<polyline points="211.39,891.34 298.00,891.34 380.40,891.30" fill="none" stroke="#2c2cec" stroke-width="1.15" stroke-linejoin="round"/>
<polyline points="211.39,879.55 212.74,886.32 214.10,912.08 216.13,913.43 221.55,914.11 228.33,915.46 268.99,915.87 271.03,918.17 298.00,918.17 380.40,918.20" fill="none" stroke="#ee44ee" stroke-width="1.15" stroke-linejoin="round"/>
<polyline points="211.39,889.03 213.42,899.88 216.13,908.01 220.20,910.04 224.26,910.04 224.94,921.56 229.69,922.24 233.75,932.41 235.11,934.44 247.31,935.12 248.66,935.79 271.70,935.79 273.06,936.47 278.48,938.51 292.03,938.51 292.71,944.60 298.00,944.74 380.40,945.00" fill="none" stroke="#84b04a" stroke-width="1.15" stroke-linejoin="round"/>
<polyline points="211.39,817.20 211.80,899.88 212.34,909.36 216.13,910.04 220.20,912.08 223.59,913.43 224.26,944.60 298.00,944.60 380.40,944.60" fill="none" stroke="#262626" stroke-width="1.15" stroke-linejoin="round"/>
<polyline points="211.39,935.12 212.07,945.96 213.42,946.64 298.00,946.64 380.40,946.60" fill="none" stroke="#ee1c1c" stroke-width="1.9" stroke-linejoin="round"/>
</g>
<rect x="211.50" y="808.00" width="168.90" height="153.30" fill="none" stroke="#6a6a6a" stroke-width="0.8"/>
<path d="M211.50 961.3v-1.6M211.50 808.0v1.6M228.39 961.3v-1.6M228.39 808.0v1.6M245.28 961.3v-1.6M245.28 808.0v1.6M262.17 961.3v-1.6M262.17 808.0v1.6M279.06 961.3v-1.6M279.06 808.0v1.6M295.95 961.3v-1.6M295.95 808.0v1.6M312.84 961.3v-1.6M312.84 808.0v1.6M329.73 961.3v-1.6M329.73 808.0v1.6M346.62 961.3v-1.6M346.62 808.0v1.6M363.51 961.3v-1.6M363.51 808.0v1.6M380.40 961.3v-1.6M380.40 808.0v1.6M211.5 808.00h1.6M380.4 808.00h-1.6M211.5 838.66h1.6M380.4 838.66h-1.6M211.5 869.32h1.6M380.4 869.32h-1.6M211.5 899.98h1.6M380.4 899.98h-1.6M211.5 930.64h1.6M380.4 930.64h-1.6M211.5 961.30h1.6M380.4 961.30h-1.6" stroke="#6a6a6a" stroke-width="0.6"/>
<path d="M211.5 952.07h0.9M380.4 952.07h-0.9M211.5 946.67h0.9M380.4 946.67h-0.9M211.5 942.84h0.9M380.4 942.84h-0.9M211.5 939.87h0.9M380.4 939.87h-0.9M211.5 937.44h0.9M380.4 937.44h-0.9M211.5 935.39h0.9M380.4 935.39h-0.9M211.5 933.61h0.9M380.4 933.61h-0.9M211.5 932.04h0.9M380.4 932.04h-0.9M211.5 921.41h0.9M380.4 921.41h-0.9M211.5 916.01h0.9M380.4 916.01h-0.9M211.5 912.18h0.9M380.4 912.18h-0.9M211.5 909.21h0.9M380.4 909.21h-0.9M211.5 906.78h0.9M380.4 906.78h-0.9M211.5 904.73h0.9M380.4 904.73h-0.9M211.5 902.95h0.9M380.4 902.95h-0.9M211.5 901.38h0.9M380.4 901.38h-0.9M211.5 890.75h0.9M380.4 890.75h-0.9M211.5 885.35h0.9M380.4 885.35h-0.9M211.5 881.52h0.9M380.4 881.52h-0.9M211.5 878.55h0.9M380.4 878.55h-0.9M211.5 876.12h0.9M380.4 876.12h-0.9M211.5 874.07h0.9M380.4 874.07h-0.9M211.5 872.29h0.9M380.4 872.29h-0.9M211.5 870.72h0.9M380.4 870.72h-0.9M211.5 860.09h0.9M380.4 860.09h-0.9M211.5 854.69h0.9M380.4 854.69h-0.9M211.5 850.86h0.9M380.4 850.86h-0.9M211.5 847.89h0.9M380.4 847.89h-0.9M211.5 845.46h0.9M380.4 845.46h-0.9M211.5 843.41h0.9M380.4 843.41h-0.9M211.5 841.63h0.9M380.4 841.63h-0.9M211.5 840.06h0.9M380.4 840.06h-0.9M211.5 829.43h0.9M380.4 829.43h-0.9M211.5 824.03h0.9M380.4 824.03h-0.9M211.5 820.20h0.9M380.4 820.20h-0.9M211.5 817.23h0.9M380.4 817.23h-0.9M211.5 814.80h0.9M380.4 814.80h-0.9M211.5 812.75h0.9M380.4 812.75h-0.9M211.5 810.97h0.9M380.4 810.97h-0.9M211.5 809.40h0.9M380.4 809.40h-0.9" stroke="#6a6a6a" stroke-width="0.5"/>
<text x="210.15" y="970.00" font-size="5.6" textLength="2.71" lengthAdjust="spacingAndGlyphs" fill="#262626" >0</text>
<text x="224.33" y="970.00" font-size="5.6" textLength="8.13" lengthAdjust="spacingAndGlyphs" fill="#262626" >100</text>
<text x="241.22" y="970.00" font-size="5.6" textLength="8.13" lengthAdjust="spacingAndGlyphs" fill="#262626" >200</text>
<text x="258.11" y="970.00" font-size="5.6" textLength="8.13" lengthAdjust="spacingAndGlyphs" fill="#262626" >300</text>
<text x="275.00" y="970.00" font-size="5.6" textLength="8.13" lengthAdjust="spacingAndGlyphs" fill="#262626" >400</text>
<text x="291.89" y="970.00" font-size="5.6" textLength="8.13" lengthAdjust="spacingAndGlyphs" fill="#262626" >500</text>
<text x="308.78" y="970.00" font-size="5.6" textLength="8.13" lengthAdjust="spacingAndGlyphs" fill="#262626" >600</text>
<text x="325.67" y="970.00" font-size="5.6" textLength="8.13" lengthAdjust="spacingAndGlyphs" fill="#262626" >700</text>
<text x="342.56" y="970.00" font-size="5.6" textLength="8.13" lengthAdjust="spacingAndGlyphs" fill="#262626" >800</text>
<text x="359.45" y="970.00" font-size="5.6" textLength="8.13" lengthAdjust="spacingAndGlyphs" fill="#262626" >900</text>
<text x="374.98" y="970.00" font-size="5.6" textLength="10.84" lengthAdjust="spacingAndGlyphs" fill="#262626" >1000</text>
<text x="201.80" y="811.30" font-size="5.6" textLength="5.42" lengthAdjust="spacingAndGlyphs" fill="#262626" >10</text>
<text x="207.22" y="808.50" font-size="4.3" textLength="2.08" lengthAdjust="spacingAndGlyphs" fill="#262626" >5</text>
<text x="201.80" y="841.96" font-size="5.6" textLength="5.42" lengthAdjust="spacingAndGlyphs" fill="#262626" >10</text>
<text x="207.22" y="839.16" font-size="4.3" textLength="2.08" lengthAdjust="spacingAndGlyphs" fill="#262626" >4</text>
<text x="201.80" y="872.62" font-size="5.6" textLength="5.42" lengthAdjust="spacingAndGlyphs" fill="#262626" >10</text>
<text x="207.22" y="869.82" font-size="4.3" textLength="2.08" lengthAdjust="spacingAndGlyphs" fill="#262626" >3</text>
<text x="201.80" y="903.28" font-size="5.6" textLength="5.42" lengthAdjust="spacingAndGlyphs" fill="#262626" >10</text>
<text x="207.22" y="900.48" font-size="4.3" textLength="2.08" lengthAdjust="spacingAndGlyphs" fill="#262626" >2</text>
<text x="201.80" y="933.94" font-size="5.6" textLength="5.42" lengthAdjust="spacingAndGlyphs" fill="#262626" >10</text>
<text x="207.22" y="931.14" font-size="4.3" textLength="2.08" lengthAdjust="spacingAndGlyphs" fill="#262626" >1</text>
<text x="201.80" y="964.60" font-size="5.6" textLength="5.42" lengthAdjust="spacingAndGlyphs" fill="#262626" >10</text>
<text x="207.22" y="961.80" font-size="4.3" textLength="2.08" lengthAdjust="spacingAndGlyphs" fill="#262626" >0</text>
<text x="285.87" y="978.00" font-size="6.2" textLength="20.16" lengthAdjust="spacingAndGlyphs" fill="#262626" >Iteration</text>
<text x="290.55" y="805.40" font-size="6.6" textLength="10.80" lengthAdjust="spacingAndGlyphs" fill="#262626" >F18</text>
<text x="-28.72" y="0.00" font-size="6.5" textLength="57.45" lengthAdjust="spacingAndGlyphs" fill="#262626" transform="translate(198.20,885.45) rotate(-90)" style="stroke-width:0.1px">Best score obtained</text>
<rect x="339.60" y="812.80" width="36.60" height="67.90" fill="#fff" stroke="#666" stroke-width="0.6"/>
<line x1="341.20" y1="817.70" x2="355.90" y2="817.70" stroke="#f2f21a" stroke-width="1.2"/>
<text x="357.20" y="820.00" font-size="5.2" textLength="11.18" lengthAdjust="spacingAndGlyphs" fill="#262626" >RIME</text>
<line x1="341.20" y1="825.03" x2="355.90" y2="825.03" stroke="#22e022" stroke-width="1.2"/>
<text x="357.20" y="827.33" font-size="5.2" textLength="12.10" lengthAdjust="spacingAndGlyphs" fill="#262626" >AVOA</text>
<line x1="341.20" y1="832.36" x2="355.90" y2="832.36" stroke="#dc7a4a" stroke-width="1.2"/>
<text x="357.20" y="834.66" font-size="5.2" textLength="9.61" lengthAdjust="spacingAndGlyphs" fill="#262626" >GTO</text>
<line x1="341.20" y1="839.69" x2="355.90" y2="839.69" stroke="#cfcfcf" stroke-width="1.2"/>
<text x="357.20" y="841.99" font-size="5.2" textLength="10.19" lengthAdjust="spacingAndGlyphs" fill="#262626" >OMA</text>
<line x1="341.20" y1="847.02" x2="355.90" y2="847.02" stroke="#2c2cec" stroke-width="1.2"/>
<text x="357.20" y="849.32" font-size="5.2" textLength="14.66" lengthAdjust="spacingAndGlyphs" fill="#262626" >IWSCA</text>
<line x1="341.20" y1="854.35" x2="355.90" y2="854.35" stroke="#ee44ee" stroke-width="1.2"/>
<text x="357.20" y="856.65" font-size="5.2" textLength="9.36" lengthAdjust="spacingAndGlyphs" fill="#262626" >MPA</text>
<line x1="341.20" y1="861.68" x2="355.90" y2="861.68" stroke="#84b04a" stroke-width="1.2"/>
<text x="357.20" y="863.98" font-size="5.2" textLength="12.34" lengthAdjust="spacingAndGlyphs" fill="#262626" >EMPA</text>
<line x1="341.20" y1="869.01" x2="355.90" y2="869.01" stroke="#262626" stroke-width="1.2"/>
<text x="357.20" y="871.31" font-size="5.2" textLength="16.07" lengthAdjust="spacingAndGlyphs" fill="#262626" >GDMPA</text>
<line x1="341.20" y1="876.34" x2="355.90" y2="876.34" stroke="#ee1c1c" stroke-width="1.9"/>
<text x="357.20" y="878.64" font-size="5.2" textLength="10.60" lengthAdjust="spacingAndGlyphs" fill="#262626" >IMPA</text></g>
<clipPath id="clipF19"><rect x="404.90" y="808.00" width="167.70" height="153.30"/></clipPath>
<g><path d="M404.9 816.55H572.6M404.9 827.34H572.6M404.9 845.73H572.6M404.9 853.71H572.6M404.9 861.04H572.6M404.9 867.84H572.6M404.9 880.07H572.6M404.9 885.63H572.6M404.9 890.87H572.6M404.9 895.83H572.6M404.9 905.00H572.6M404.9 909.26H572.6M404.9 913.34H572.6M404.9 917.24H572.6M404.9 924.57H572.6M404.9 928.03H572.6M404.9 931.37H572.6M404.9 934.58H572.6M404.9 940.69H572.6M404.9 943.60H572.6M404.9 946.42H572.6M404.9 949.16H572.6M404.9 954.40H572.6M404.9 956.91H572.6M404.9 959.35H572.6" stroke="#e6e6e6" stroke-width="0.6"/>
<path d="" stroke="#f0f0f0" stroke-width="0.6"/>
<path d="M404.9 837.00H572.6M404.9 874.16H572.6M404.9 900.53H572.6M404.9 920.98H572.6M404.9 937.69H572.6M404.9 951.82H572.6M421.67 808.0V961.3M438.44 808.0V961.3M455.21 808.0V961.3M471.98 808.0V961.3M488.75 808.0V961.3M505.52 808.0V961.3M522.29 808.0V961.3M539.06 808.0V961.3M555.83 808.0V961.3" stroke="#e4e4e4" stroke-width="0.6"/>
<g clip-path="url(#clipF19)">
<polyline points="404.95,948.39 408.32,958.76 572.56,960.57" fill="none" stroke="#f2f21a" stroke-width="1.15" stroke-linejoin="round"/>
<polyline points="404.95,935.44 407.02,945.80 410.91,956.17 418.68,959.27 572.56,960.31" fill="none" stroke="#22e022" stroke-width="1.15" stroke-linejoin="round"/>
<polyline points="405.47,807.98 405.47,935.44 407.02,948.39 410.91,958.76 572.56,959.79" fill="none" stroke="#dc7a4a" stroke-width="1.15" stroke-linejoin="round"/>
<polyline points="404.95,951.50 572.56,951.50" fill="none" stroke="#2c2cec" stroke-width="1.15" stroke-linejoin="round"/>
<polyline points="404.95,883.63 405.73,938.03 408.32,945.80 410.91,953.58 418.68,958.24 572.56,959.79" fill="none" stroke="#ee44ee" stroke-width="1.15" stroke-linejoin="round"/>
<polyline points="404.95,930.26 407.02,948.39 413.50,957.46 572.56,960.31" fill="none" stroke="#84b04a" stroke-width="1.15" stroke-linejoin="round"/>
<polyline points="404.95,901.76 405.73,943.21 409.61,944.51 410.91,950.98 418.68,957.46 436.81,958.76 572.56,960.05" fill="none" stroke="#262626" stroke-width="1.15" stroke-linejoin="round"/>
<polyline points="404.95,945.80 406.24,958.76 410.91,960.83 572.56,960.83" fill="none" stroke="#ee1c1c" stroke-width="1.9" stroke-linejoin="round"/>
</g>
<rect x="404.90" y="808.00" width="167.70" height="153.30" fill="none" stroke="#6a6a6a" stroke-width="0.8"/>
<path d="M404.90 961.3v-1.6M404.90 808.0v1.6M421.67 961.3v-1.6M421.67 808.0v1.6M438.44 961.3v-1.6M438.44 808.0v1.6M455.21 961.3v-1.6M455.21 808.0v1.6M471.98 961.3v-1.6M471.98 808.0v1.6M488.75 961.3v-1.6M488.75 808.0v1.6M505.52 961.3v-1.6M505.52 808.0v1.6M522.29 961.3v-1.6M522.29 808.0v1.6M539.06 961.3v-1.6M539.06 808.0v1.6M555.83 961.3v-1.6M555.83 808.0v1.6M572.60 961.3v-1.6M572.60 808.0v1.6M404.9 837.00h1.6M572.6 837.00h-1.6M404.9 874.16h1.6M572.6 874.16h-1.6M404.9 900.53h1.6M572.6 900.53h-1.6M404.9 920.98h1.6M572.6 920.98h-1.6M404.9 937.69h1.6M572.6 937.69h-1.6M404.9 951.82h1.6M572.6 951.82h-1.6" stroke="#6a6a6a" stroke-width="0.6"/>
<path d="M404.9 816.55h0.9M572.6 816.55h-0.9M404.9 827.34h0.9M572.6 827.34h-0.9M404.9 845.73h0.9M572.6 845.73h-0.9M404.9 853.71h0.9M572.6 853.71h-0.9M404.9 861.04h0.9M572.6 861.04h-0.9M404.9 867.84h0.9M572.6 867.84h-0.9M404.9 880.07h0.9M572.6 880.07h-0.9M404.9 885.63h0.9M572.6 885.63h-0.9M404.9 890.87h0.9M572.6 890.87h-0.9M404.9 895.83h0.9M572.6 895.83h-0.9M404.9 905.00h0.9M572.6 905.00h-0.9M404.9 909.26h0.9M572.6 909.26h-0.9M404.9 913.34h0.9M572.6 913.34h-0.9M404.9 917.24h0.9M572.6 917.24h-0.9M404.9 924.57h0.9M572.6 924.57h-0.9M404.9 928.03h0.9M572.6 928.03h-0.9M404.9 931.37h0.9M572.6 931.37h-0.9M404.9 934.58h0.9M572.6 934.58h-0.9M404.9 940.69h0.9M572.6 940.69h-0.9M404.9 943.60h0.9M572.6 943.60h-0.9M404.9 946.42h0.9M572.6 946.42h-0.9M404.9 949.16h0.9M572.6 949.16h-0.9M404.9 954.40h0.9M572.6 954.40h-0.9M404.9 956.91h0.9M572.6 956.91h-0.9M404.9 959.35h0.9M572.6 959.35h-0.9" stroke="#6a6a6a" stroke-width="0.5"/>
<text x="403.55" y="970.00" font-size="5.6" textLength="2.71" lengthAdjust="spacingAndGlyphs" fill="#262626" >0</text>
<text x="417.61" y="970.00" font-size="5.6" textLength="8.13" lengthAdjust="spacingAndGlyphs" fill="#262626" >100</text>
<text x="434.38" y="970.00" font-size="5.6" textLength="8.13" lengthAdjust="spacingAndGlyphs" fill="#262626" >200</text>
<text x="451.15" y="970.00" font-size="5.6" textLength="8.13" lengthAdjust="spacingAndGlyphs" fill="#262626" >300</text>
<text x="467.92" y="970.00" font-size="5.6" textLength="8.13" lengthAdjust="spacingAndGlyphs" fill="#262626" >400</text>
<text x="484.69" y="970.00" font-size="5.6" textLength="8.13" lengthAdjust="spacingAndGlyphs" fill="#262626" >500</text>
<text x="501.46" y="970.00" font-size="5.6" textLength="8.13" lengthAdjust="spacingAndGlyphs" fill="#262626" >600</text>
<text x="518.23" y="970.00" font-size="5.6" textLength="8.13" lengthAdjust="spacingAndGlyphs" fill="#262626" >700</text>
<text x="535.00" y="970.00" font-size="5.6" textLength="8.13" lengthAdjust="spacingAndGlyphs" fill="#262626" >800</text>
<text x="551.77" y="970.00" font-size="5.6" textLength="8.13" lengthAdjust="spacingAndGlyphs" fill="#262626" >900</text>
<text x="567.18" y="970.00" font-size="5.6" textLength="10.84" lengthAdjust="spacingAndGlyphs" fill="#262626" >1000</text>
<text x="398.37" y="838.90" font-size="5.6" textLength="4.33" lengthAdjust="spacingAndGlyphs" fill="#262626" >-1</text>
<text x="394.31" y="876.06" font-size="5.6" textLength="8.39" lengthAdjust="spacingAndGlyphs" fill="#262626" >-1.5</text>
<text x="398.37" y="902.43" font-size="5.6" textLength="4.33" lengthAdjust="spacingAndGlyphs" fill="#262626" >-2</text>
<text x="394.31" y="922.88" font-size="5.6" textLength="8.39" lengthAdjust="spacingAndGlyphs" fill="#262626" >-2.5</text>
<text x="398.37" y="939.59" font-size="5.6" textLength="4.33" lengthAdjust="spacingAndGlyphs" fill="#262626" >-3</text>
<text x="394.31" y="953.72" font-size="5.6" textLength="8.39" lengthAdjust="spacingAndGlyphs" fill="#262626" >-3.5</text>
<text x="478.67" y="978.00" font-size="6.2" textLength="20.16" lengthAdjust="spacingAndGlyphs" fill="#262626" >Iteration</text>
<text x="483.35" y="805.40" font-size="6.6" textLength="10.80" lengthAdjust="spacingAndGlyphs" fill="#262626" >F19</text>
<text x="-28.72" y="0.00" font-size="6.5" textLength="57.45" lengthAdjust="spacingAndGlyphs" fill="#262626" transform="translate(390.90,885.45) rotate(-90)" style="stroke-width:0.1px">Best score obtained</text>
<rect x="531.80" y="812.80" width="36.60" height="67.90" fill="#fff" stroke="#666" stroke-width="0.6"/>
<line x1="533.40" y1="817.70" x2="548.10" y2="817.70" stroke="#f2f21a" stroke-width="1.2"/>
<text x="549.40" y="820.00" font-size="5.2" textLength="11.18" lengthAdjust="spacingAndGlyphs" fill="#262626" >RIME</text>
<line x1="533.40" y1="825.03" x2="548.10" y2="825.03" stroke="#22e022" stroke-width="1.2"/>
<text x="549.40" y="827.33" font-size="5.2" textLength="12.10" lengthAdjust="spacingAndGlyphs" fill="#262626" >AVOA</text>
<line x1="533.40" y1="832.36" x2="548.10" y2="832.36" stroke="#dc7a4a" stroke-width="1.2"/>
<text x="549.40" y="834.66" font-size="5.2" textLength="9.61" lengthAdjust="spacingAndGlyphs" fill="#262626" >GTO</text>
<line x1="533.40" y1="839.69" x2="548.10" y2="839.69" stroke="#cfcfcf" stroke-width="1.2"/>
<text x="549.40" y="841.99" font-size="5.2" textLength="10.19" lengthAdjust="spacingAndGlyphs" fill="#262626" >OMA</text>
<line x1="533.40" y1="847.02" x2="548.10" y2="847.02" stroke="#2c2cec" stroke-width="1.2"/>
<text x="549.40" y="849.32" font-size="5.2" textLength="14.66" lengthAdjust="spacingAndGlyphs" fill="#262626" >IWSCA</text>
<line x1="533.40" y1="854.35" x2="548.10" y2="854.35" stroke="#ee44ee" stroke-width="1.2"/>
<text x="549.40" y="856.65" font-size="5.2" textLength="9.36" lengthAdjust="spacingAndGlyphs" fill="#262626" >MPA</text>
<line x1="533.40" y1="861.68" x2="548.10" y2="861.68" stroke="#84b04a" stroke-width="1.2"/>
<text x="549.40" y="863.98" font-size="5.2" textLength="12.34" lengthAdjust="spacingAndGlyphs" fill="#262626" >EMPA</text>
<line x1="533.40" y1="869.01" x2="548.10" y2="869.01" stroke="#262626" stroke-width="1.2"/>
<text x="549.40" y="871.31" font-size="5.2" textLength="16.07" lengthAdjust="spacingAndGlyphs" fill="#262626" >GDMPA</text>
<line x1="533.40" y1="876.34" x2="548.10" y2="876.34" stroke="#ee1c1c" stroke-width="1.9"/>
<text x="549.40" y="878.64" font-size="5.2" textLength="10.60" lengthAdjust="spacingAndGlyphs" fill="#262626" >IMPA</text></g>
<clipPath id="clipF20"><rect x="597.40" y="808.00" width="168.40" height="153.30"/></clipPath>
<g><path d="M597.4 830.25H765.8M597.4 842.05H765.8M597.4 852.28H765.8M597.4 861.30H765.8M597.4 876.67H765.8M597.4 883.33H765.8M597.4 889.46H765.8M597.4 895.14H765.8M597.4 905.37H765.8M597.4 910.01H765.8M597.4 914.39H765.8M597.4 918.53H765.8M597.4 926.19H765.8M597.4 929.76H765.8M597.4 933.16H765.8M597.4 936.42H765.8M597.4 942.55H765.8M597.4 945.44H765.8M597.4 948.23H765.8M597.4 950.91H765.8M597.4 956.02H765.8M597.4 958.45H765.8M597.4 960.81H765.8" stroke="#e6e6e6" stroke-width="0.6"/>
<path d="" stroke="#f0f0f0" stroke-width="0.6"/>
<path d="M597.4 816.28H765.8M597.4 869.37H765.8M597.4 900.42H765.8M597.4 922.46H765.8M597.4 939.55H765.8M597.4 953.51H765.8M614.24 808.0V961.3M631.08 808.0V961.3M647.92 808.0V961.3M664.76 808.0V961.3M681.60 808.0V961.3M698.44 808.0V961.3M715.28 808.0V961.3M732.12 808.0V961.3M748.96 808.0V961.3" stroke="#e4e4e4" stroke-width="0.6"/>
<g clip-path="url(#clipF20)">
<polyline points="597.39,935.44 599.20,958.76 601.79,960.57 765.78,960.83" fill="none" stroke="#f2f21a" stroke-width="1.15" stroke-linejoin="round"/>
<polyline points="597.39,836.99 598.68,878.45 599.98,906.94 601.79,909.53 603.09,935.44 604.38,956.17 605.68,958.76" fill="none" stroke="#22e022" stroke-width="1.15" stroke-linejoin="round"/>
<polyline points="597.39,930.26 600.50,935.44 605.68,956.17 606.97,960.05" fill="none" stroke="#dc7a4a" stroke-width="1.15" stroke-linejoin="round"/>
<polyline points="597.39,808.24 765.78,808.24" fill="none" stroke="#2c2cec" stroke-width="1.15" stroke-linejoin="round"/>
<polyline points="597.39,821.26 597.80,872.77 598.74,913.43 599.42,926.98 600.78,933.76 602.81,937.83 604.17,941.22 610.26,941.89 611.62,943.93 627.21,943.93 627.88,946.64 632.63,947.31 633.31,948.94 661.09,948.94 661.77,950.03 684.00,950.30 753.30,951.00 758.50,954.10 765.80,955.60" fill="none" stroke="#ee44ee" stroke-width="1.15" stroke-linejoin="round"/>
<polyline points="597.39,891.40 599.20,925.08 603.09,940.62 604.38,945.80 608.27,947.10 609.56,950.98 765.78,952.28" fill="none" stroke="#84b04a" stroke-width="1.15" stroke-linejoin="round"/>
<polyline points="597.39,862.90 599.20,904.35 600.50,935.44 601.79,950.47 765.78,950.98" fill="none" stroke="#262626" stroke-width="1.15" stroke-linejoin="round"/>
<polyline points="597.39,932.85 597.91,952.28 600.50,958.76 605.68,960.57 765.78,960.83" fill="none" stroke="#ee1c1c" stroke-width="1.9" stroke-linejoin="round"/>
</g>
<rect x="597.40" y="808.00" width="168.40" height="153.30" fill="none" stroke="#6a6a6a" stroke-width="0.8"/>
<path d="M597.40 961.3v-1.6M597.40 808.0v1.6M614.24 961.3v-1.6M614.24 808.0v1.6M631.08 961.3v-1.6M631.08 808.0v1.6M647.92 961.3v-1.6M647.92 808.0v1.6M664.76 961.3v-1.6M664.76 808.0v1.6M681.60 961.3v-1.6M681.60 808.0v1.6M698.44 961.3v-1.6M698.44 808.0v1.6M715.28 961.3v-1.6M715.28 808.0v1.6M732.12 961.3v-1.6M732.12 808.0v1.6M748.96 961.3v-1.6M748.96 808.0v1.6M765.80 961.3v-1.6M765.80 808.0v1.6M597.4 816.28h1.6M765.8 816.28h-1.6M597.4 869.37h1.6M765.8 869.37h-1.6M597.4 900.42h1.6M765.8 900.42h-1.6M597.4 922.46h1.6M765.8 922.46h-1.6M597.4 939.55h1.6M765.8 939.55h-1.6M597.4 953.51h1.6M765.8 953.51h-1.6" stroke="#6a6a6a" stroke-width="0.6"/>
<path d="M597.4 830.25h0.9M765.8 830.25h-0.9M597.4 842.05h0.9M765.8 842.05h-0.9M597.4 852.28h0.9M765.8 852.28h-0.9M597.4 861.30h0.9M765.8 861.30h-0.9M597.4 876.67h0.9M765.8 876.67h-0.9M597.4 883.33h0.9M765.8 883.33h-0.9M597.4 889.46h0.9M765.8 889.46h-0.9M597.4 895.14h0.9M765.8 895.14h-0.9M597.4 905.37h0.9M765.8 905.37h-0.9M597.4 910.01h0.9M765.8 910.01h-0.9M597.4 914.39h0.9M765.8 914.39h-0.9M597.4 918.53h0.9M765.8 918.53h-0.9M597.4 926.19h0.9M765.8 926.19h-0.9M597.4 929.76h0.9M765.8 929.76h-0.9M597.4 933.16h0.9M765.8 933.16h-0.9M597.4 936.42h0.9M765.8 936.42h-0.9M597.4 942.55h0.9M765.8 942.55h-0.9M597.4 945.44h0.9M765.8 945.44h-0.9M597.4 948.23h0.9M765.8 948.23h-0.9M597.4 950.91h0.9M765.8 950.91h-0.9M597.4 956.02h0.9M765.8 956.02h-0.9M597.4 958.45h0.9M765.8 958.45h-0.9M597.4 960.81h0.9M765.8 960.81h-0.9" stroke="#6a6a6a" stroke-width="0.5"/>
<text x="596.05" y="970.00" font-size="5.6" textLength="2.71" lengthAdjust="spacingAndGlyphs" fill="#262626" >0</text>
<text x="610.18" y="970.00" font-size="5.6" textLength="8.13" lengthAdjust="spacingAndGlyphs" fill="#262626" >100</text>
<text x="627.02" y="970.00" font-size="5.6" textLength="8.13" lengthAdjust="spacingAndGlyphs" fill="#262626" >200</text>
<text x="643.86" y="970.00" font-size="5.6" textLength="8.13" lengthAdjust="spacingAndGlyphs" fill="#262626" >300</text>
<text x="660.70" y="970.00" font-size="5.6" textLength="8.13" lengthAdjust="spacingAndGlyphs" fill="#262626" >400</text>
<text x="677.54" y="970.00" font-size="5.6" textLength="8.13" lengthAdjust="spacingAndGlyphs" fill="#262626" >500</text>
<text x="694.38" y="970.00" font-size="5.6" textLength="8.13" lengthAdjust="spacingAndGlyphs" fill="#262626" >600</text>
<text x="711.22" y="970.00" font-size="5.6" textLength="8.13" lengthAdjust="spacingAndGlyphs" fill="#262626" >700</text>
<text x="728.06" y="970.00" font-size="5.6" textLength="8.13" lengthAdjust="spacingAndGlyphs" fill="#262626" >800</text>
<text x="744.90" y="970.00" font-size="5.6" textLength="8.13" lengthAdjust="spacingAndGlyphs" fill="#262626" >900</text>
<text x="760.38" y="970.00" font-size="5.6" textLength="10.84" lengthAdjust="spacingAndGlyphs" fill="#262626" >1000</text>
<text x="586.81" y="818.18" font-size="5.6" textLength="8.39" lengthAdjust="spacingAndGlyphs" fill="#262626" >-0.5</text>
<text x="590.87" y="871.27" font-size="5.6" textLength="4.33" lengthAdjust="spacingAndGlyphs" fill="#262626" >-1</text>
<text x="586.81" y="902.32" font-size="5.6" textLength="8.39" lengthAdjust="spacingAndGlyphs" fill="#262626" >-1.5</text>
<text x="590.87" y="924.36" font-size="5.6" textLength="4.33" lengthAdjust="spacingAndGlyphs" fill="#262626" >-2</text>
<text x="586.81" y="941.45" font-size="5.6" textLength="8.39" lengthAdjust="spacingAndGlyphs" fill="#262626" >-2.5</text>
<text x="590.87" y="955.41" font-size="5.6" textLength="4.33" lengthAdjust="spacingAndGlyphs" fill="#262626" >-3</text>
<text x="671.52" y="978.00" font-size="6.2" textLength="20.16" lengthAdjust="spacingAndGlyphs" fill="#262626" >Iteration</text>
<text x="676.20" y="805.40" font-size="6.6" textLength="10.80" lengthAdjust="spacingAndGlyphs" fill="#262626" >F20</text>
<text x="-28.72" y="0.00" font-size="6.5" textLength="57.45" lengthAdjust="spacingAndGlyphs" fill="#262626" transform="translate(583.60,885.45) rotate(-90)" style="stroke-width:0.1px">Best score obtained</text>
<rect x="725.00" y="812.80" width="36.60" height="67.90" fill="#fff" stroke="#666" stroke-width="0.6"/>
<line x1="726.60" y1="817.70" x2="741.30" y2="817.70" stroke="#f2f21a" stroke-width="1.2"/>
<text x="742.60" y="820.00" font-size="5.2" textLength="11.18" lengthAdjust="spacingAndGlyphs" fill="#262626" >RIME</text>
<line x1="726.60" y1="825.03" x2="741.30" y2="825.03" stroke="#22e022" stroke-width="1.2"/>
<text x="742.60" y="827.33" font-size="5.2" textLength="12.10" lengthAdjust="spacingAndGlyphs" fill="#262626" >AVOA</text>
<line x1="726.60" y1="832.36" x2="741.30" y2="832.36" stroke="#dc7a4a" stroke-width="1.2"/>
<text x="742.60" y="834.66" font-size="5.2" textLength="9.61" lengthAdjust="spacingAndGlyphs" fill="#262626" >GTO</text>
<line x1="726.60" y1="839.69" x2="741.30" y2="839.69" stroke="#cfcfcf" stroke-width="1.2"/>
<text x="742.60" y="841.99" font-size="5.2" textLength="10.19" lengthAdjust="spacingAndGlyphs" fill="#262626" >OMA</text>
<line x1="726.60" y1="847.02" x2="741.30" y2="847.02" stroke="#2c2cec" stroke-width="1.2"/>
<text x="742.60" y="849.32" font-size="5.2" textLength="14.66" lengthAdjust="spacingAndGlyphs" fill="#262626" >IWSCA</text>
<line x1="726.60" y1="854.35" x2="741.30" y2="854.35" stroke="#ee44ee" stroke-width="1.2"/>
<text x="742.60" y="856.65" font-size="5.2" textLength="9.36" lengthAdjust="spacingAndGlyphs" fill="#262626" >MPA</text>
<line x1="726.60" y1="861.68" x2="741.30" y2="861.68" stroke="#84b04a" stroke-width="1.2"/>
<text x="742.60" y="863.98" font-size="5.2" textLength="12.34" lengthAdjust="spacingAndGlyphs" fill="#262626" >EMPA</text>
<line x1="726.60" y1="869.01" x2="741.30" y2="869.01" stroke="#262626" stroke-width="1.2"/>
<text x="742.60" y="871.31" font-size="5.2" textLength="16.07" lengthAdjust="spacingAndGlyphs" fill="#262626" >GDMPA</text>
<line x1="726.60" y1="876.34" x2="741.30" y2="876.34" stroke="#ee1c1c" stroke-width="1.9"/>
<text x="742.60" y="878.64" font-size="5.2" textLength="10.60" lengthAdjust="spacingAndGlyphs" fill="#262626" >IMPA</text></g>
<clipPath id="clipF21"><rect x="117.90" y="1008.50" width="166.10" height="152.70"/></clipPath>
<g><path d="M117.9 1023.82H284.0M117.9 1032.79H284.0M117.9 1039.14H284.0M117.9 1044.08H284.0M117.9 1048.11H284.0M117.9 1051.52H284.0M117.9 1054.47H284.0M117.9 1057.07H284.0M117.9 1074.72H284.0M117.9 1083.69H284.0M117.9 1090.04H284.0M117.9 1094.98H284.0M117.9 1099.01H284.0M117.9 1102.42H284.0M117.9 1105.37H284.0M117.9 1107.97H284.0M117.9 1125.62H284.0M117.9 1134.59H284.0M117.9 1140.94H284.0M117.9 1145.88H284.0M117.9 1149.91H284.0M117.9 1153.32H284.0M117.9 1156.27H284.0M117.9 1158.87H284.0" stroke="#f0f0f0" stroke-width="0.6"/>
<path d="M117.9 1059.40H284.0M117.9 1110.30H284.0M134.51 1008.5V1161.2M151.12 1008.5V1161.2M167.73 1008.5V1161.2M184.34 1008.5V1161.2M200.95 1008.5V1161.2M217.56 1008.5V1161.2M234.17 1008.5V1161.2M250.78 1008.5V1161.2M267.39 1008.5V1161.2" stroke="#e4e4e4" stroke-width="0.6"/>
<g clip-path="url(#clipF21)">
<polyline points="118.39,1072.77 123.13,1102.59 125.84,1105.30 128.55,1107.33 132.62,1109.36" fill="none" stroke="#f2f21a" stroke-width="1.15" stroke-linejoin="round"/>
<polyline points="118.39,1032.11 120.15,1032.11 121.10,1045.66 122.45,1064.64 124.49,1071.41 128.55,1078.19 132.62,1078.87 133.98,1084.97 138.72,1086.32 140.07,1089.03 155.66,1089.71 159.73,1094.46 180.06,1095.54 205.00,1095.54 284.00,1095.50" fill="none" stroke="#22e022" stroke-width="1.15" stroke-linejoin="round"/>
<polyline points="118.39,1065.99 120.42,1086.32 123.13,1090.39 125.84,1094.46 127.20,1102.59 128.55,1104.62 129.91,1108.01 132.62,1110.04" fill="none" stroke="#dc7a4a" stroke-width="1.15" stroke-linejoin="round"/>
<polyline points="233.90,1081.50 284.00,1082.60" fill="none" stroke="#cfcfcf" stroke-width="1.15" stroke-linejoin="round"/>
<polyline points="118.39,1011.78 205.00,1011.78 284.00,1011.80" fill="none" stroke="#2c2cec" stroke-width="1.15" stroke-linejoin="round"/>
<polyline points="118.39,1021.26 118.80,1059.22 120.42,1086.32 123.13,1093.10 124.49,1099.88 129.91,1099.88 132.62,1103.27 140.75,1103.27 142.11,1108.01 150.24,1109.09" fill="none" stroke="#ee44ee" stroke-width="1.15" stroke-linejoin="round"/>
<polyline points="118.39,1064.64 120.42,1067.35 124.49,1068.70 133.30,1070.06 133.98,1090.39 142.11,1091.07 155.66,1091.07 158.37,1093.10 166.50,1094.46 180.06,1095.13 205.00,1095.27 213.90,1095.40 215.40,1096.80 245.30,1096.80 248.10,1101.10 256.70,1102.50 284.00,1102.50" fill="none" stroke="#84b04a" stroke-width="1.15" stroke-linejoin="round"/>
<polyline points="118.39,1036.17 119.07,1065.99 123.13,1068.70 124.49,1070.74 142.79,1070.74 143.46,1075.48 152.95,1075.48 154.31,1077.51 162.44,1077.78 163.79,1078.87 186.84,1078.87 188.19,1079.55 205.00,1079.55 284.00,1080.50" fill="none" stroke="#262626" stroke-width="1.15" stroke-linejoin="round"/>
<polyline points="118.39,1056.50 119.74,1086.32 122.45,1105.30 127.20,1108.01 131.26,1109.36 136.69,1110.45 205.00,1110.45 284.00,1110.40" fill="none" stroke="#ee1c1c" stroke-width="1.9" stroke-linejoin="round"/>
</g>
<rect x="117.90" y="1008.50" width="166.10" height="152.70" fill="none" stroke="#6a6a6a" stroke-width="0.8"/>
<path d="M117.90 1161.2v-1.6M117.90 1008.5v1.6M134.51 1161.2v-1.6M134.51 1008.5v1.6M151.12 1161.2v-1.6M151.12 1008.5v1.6M167.73 1161.2v-1.6M167.73 1008.5v1.6M184.34 1161.2v-1.6M184.34 1008.5v1.6M200.95 1161.2v-1.6M200.95 1008.5v1.6M217.56 1161.2v-1.6M217.56 1008.5v1.6M234.17 1161.2v-1.6M234.17 1008.5v1.6M250.78 1161.2v-1.6M250.78 1008.5v1.6M267.39 1161.2v-1.6M267.39 1008.5v1.6M284.00 1161.2v-1.6M284.00 1008.5v1.6M117.9 1008.50h1.6M284.0 1008.50h-1.6M117.9 1059.40h1.6M284.0 1059.40h-1.6M117.9 1110.30h1.6M284.0 1110.30h-1.6M117.9 1161.20h1.6M284.0 1161.20h-1.6" stroke="#6a6a6a" stroke-width="0.6"/>
<path d="M117.9 1023.82h0.9M284.0 1023.82h-0.9M117.9 1032.79h0.9M284.0 1032.79h-0.9M117.9 1039.14h0.9M284.0 1039.14h-0.9M117.9 1044.08h0.9M284.0 1044.08h-0.9M117.9 1048.11h0.9M284.0 1048.11h-0.9M117.9 1051.52h0.9M284.0 1051.52h-0.9M117.9 1054.47h0.9M284.0 1054.47h-0.9M117.9 1057.07h0.9M284.0 1057.07h-0.9M117.9 1074.72h0.9M284.0 1074.72h-0.9M117.9 1083.69h0.9M284.0 1083.69h-0.9M117.9 1090.04h0.9M284.0 1090.04h-0.9M117.9 1094.98h0.9M284.0 1094.98h-0.9M117.9 1099.01h0.9M284.0 1099.01h-0.9M117.9 1102.42h0.9M284.0 1102.42h-0.9M117.9 1105.37h0.9M284.0 1105.37h-0.9M117.9 1107.97h0.9M284.0 1107.97h-0.9M117.9 1125.62h0.9M284.0 1125.62h-0.9M117.9 1134.59h0.9M284.0 1134.59h-0.9M117.9 1140.94h0.9M284.0 1140.94h-0.9M117.9 1145.88h0.9M284.0 1145.88h-0.9M117.9 1149.91h0.9M284.0 1149.91h-0.9M117.9 1153.32h0.9M284.0 1153.32h-0.9M117.9 1156.27h0.9M284.0 1156.27h-0.9M117.9 1158.87h0.9M284.0 1158.87h-0.9" stroke="#6a6a6a" stroke-width="0.5"/>
<text x="116.55" y="1169.90" font-size="5.6" textLength="2.71" lengthAdjust="spacingAndGlyphs" fill="#262626" >0</text>
<text x="130.45" y="1169.90" font-size="5.6" textLength="8.13" lengthAdjust="spacingAndGlyphs" fill="#262626" >100</text>
<text x="147.06" y="1169.90" font-size="5.6" textLength="8.13" lengthAdjust="spacingAndGlyphs" fill="#262626" >200</text>
<text x="163.67" y="1169.90" font-size="5.6" textLength="8.13" lengthAdjust="spacingAndGlyphs" fill="#262626" >300</text>
<text x="180.28" y="1169.90" font-size="5.6" textLength="8.13" lengthAdjust="spacingAndGlyphs" fill="#262626" >400</text>
<text x="196.89" y="1169.90" font-size="5.6" textLength="8.13" lengthAdjust="spacingAndGlyphs" fill="#262626" >500</text>
<text x="213.50" y="1169.90" font-size="5.6" textLength="8.13" lengthAdjust="spacingAndGlyphs" fill="#262626" >600</text>
<text x="230.11" y="1169.90" font-size="5.6" textLength="8.13" lengthAdjust="spacingAndGlyphs" fill="#262626" >700</text>
<text x="246.72" y="1169.90" font-size="5.6" textLength="8.13" lengthAdjust="spacingAndGlyphs" fill="#262626" >800</text>
<text x="263.33" y="1169.90" font-size="5.6" textLength="8.13" lengthAdjust="spacingAndGlyphs" fill="#262626" >900</text>
<text x="278.58" y="1169.90" font-size="5.6" textLength="10.84" lengthAdjust="spacingAndGlyphs" fill="#262626" >1000</text>
<text x="105.33" y="1011.80" font-size="5.6" textLength="7.04" lengthAdjust="spacingAndGlyphs" fill="#262626" >-10</text>
<text x="112.37" y="1009.00" font-size="4.3" textLength="3.33" lengthAdjust="spacingAndGlyphs" fill="#262626" >-1</text>
<text x="106.58" y="1062.70" font-size="5.6" textLength="7.04" lengthAdjust="spacingAndGlyphs" fill="#262626" >-10</text>
<text x="113.62" y="1059.90" font-size="4.3" textLength="2.08" lengthAdjust="spacingAndGlyphs" fill="#262626" >0</text>
<text x="106.58" y="1113.60" font-size="5.6" textLength="7.04" lengthAdjust="spacingAndGlyphs" fill="#262626" >-10</text>
<text x="113.62" y="1110.80" font-size="4.3" textLength="2.08" lengthAdjust="spacingAndGlyphs" fill="#262626" >1</text>
<text x="106.58" y="1164.50" font-size="5.6" textLength="7.04" lengthAdjust="spacingAndGlyphs" fill="#262626" >-10</text>
<text x="113.62" y="1161.70" font-size="4.3" textLength="2.08" lengthAdjust="spacingAndGlyphs" fill="#262626" >2</text>
<text x="190.87" y="1177.90" font-size="6.2" textLength="20.16" lengthAdjust="spacingAndGlyphs" fill="#262626" >Iteration</text>
<text x="195.55" y="1005.90" font-size="6.6" textLength="10.80" lengthAdjust="spacingAndGlyphs" fill="#262626" >F21</text>
<text x="-28.72" y="0.00" font-size="6.5" textLength="57.45" lengthAdjust="spacingAndGlyphs" fill="#262626" transform="translate(101.85,1085.65) rotate(-90)" style="stroke-width:0.1px">Best score obtained</text>
<rect x="243.20" y="1013.30" width="36.60" height="67.90" fill="#fff" stroke="#666" stroke-width="0.6"/>
<line x1="244.80" y1="1018.20" x2="259.50" y2="1018.20" stroke="#f2f21a" stroke-width="1.2"/>
<text x="260.80" y="1020.50" font-size="5.2" textLength="11.18" lengthAdjust="spacingAndGlyphs" fill="#262626" >RIME</text>
<line x1="244.80" y1="1025.53" x2="259.50" y2="1025.53" stroke="#22e022" stroke-width="1.2"/>
<text x="260.80" y="1027.83" font-size="5.2" textLength="12.10" lengthAdjust="spacingAndGlyphs" fill="#262626" >AVOA</text>
<line x1="244.80" y1="1032.86" x2="259.50" y2="1032.86" stroke="#dc7a4a" stroke-width="1.2"/>
<text x="260.80" y="1035.16" font-size="5.2" textLength="9.61" lengthAdjust="spacingAndGlyphs" fill="#262626" >GTO</text>
<line x1="244.80" y1="1040.19" x2="259.50" y2="1040.19" stroke="#cfcfcf" stroke-width="1.2"/>
<text x="260.80" y="1042.49" font-size="5.2" textLength="10.19" lengthAdjust="spacingAndGlyphs" fill="#262626" >OMA</text>
<line x1="244.80" y1="1047.52" x2="259.50" y2="1047.52" stroke="#2c2cec" stroke-width="1.2"/>
<text x="260.80" y="1049.82" font-size="5.2" textLength="14.66" lengthAdjust="spacingAndGlyphs" fill="#262626" >IWSCA</text>
<line x1="244.80" y1="1054.85" x2="259.50" y2="1054.85" stroke="#ee44ee" stroke-width="1.2"/>
<text x="260.80" y="1057.15" font-size="5.2" textLength="9.36" lengthAdjust="spacingAndGlyphs" fill="#262626" >MPA</text>
<line x1="244.80" y1="1062.18" x2="259.50" y2="1062.18" stroke="#84b04a" stroke-width="1.2"/>
<text x="260.80" y="1064.48" font-size="5.2" textLength="12.34" lengthAdjust="spacingAndGlyphs" fill="#262626" >EMPA</text>
<line x1="244.80" y1="1069.51" x2="259.50" y2="1069.51" stroke="#262626" stroke-width="1.2"/>
<text x="260.80" y="1071.81" font-size="5.2" textLength="16.07" lengthAdjust="spacingAndGlyphs" fill="#262626" >GDMPA</text>
<line x1="244.80" y1="1076.84" x2="259.50" y2="1076.84" stroke="#ee1c1c" stroke-width="1.9"/>
<text x="260.80" y="1079.14" font-size="5.2" textLength="10.60" lengthAdjust="spacingAndGlyphs" fill="#262626" >IMPA</text></g>
<clipPath id="clipF22"><rect x="310.80" y="1008.50" width="165.80" height="152.70"/></clipPath>
<g><path d="M310.8 1023.82H476.6M310.8 1032.79H476.6M310.8 1039.14H476.6M310.8 1044.08H476.6M310.8 1048.11H476.6M310.8 1051.52H476.6M310.8 1054.47H476.6M310.8 1057.07H476.6M310.8 1074.72H476.6M310.8 1083.69H476.6M310.8 1090.04H476.6M310.8 1094.98H476.6M310.8 1099.01H476.6M310.8 1102.42H476.6M310.8 1105.37H476.6M310.8 1107.97H476.6M310.8 1125.62H476.6M310.8 1134.59H476.6M310.8 1140.94H476.6M310.8 1145.88H476.6M310.8 1149.91H476.6M310.8 1153.32H476.6M310.8 1156.27H476.6M310.8 1158.87H476.6" stroke="#f0f0f0" stroke-width="0.6"/>
<path d="M310.8 1059.40H476.6M310.8 1110.30H476.6M327.38 1008.5V1161.2M343.96 1008.5V1161.2M360.54 1008.5V1161.2M377.12 1008.5V1161.2M393.70 1008.5V1161.2M410.28 1008.5V1161.2M426.86 1008.5V1161.2M443.44 1008.5V1161.2M460.02 1008.5V1161.2" stroke="#e4e4e4" stroke-width="0.6"/>
<g clip-path="url(#clipF22)">
<polyline points="311.39,1059.22 314.78,1097.17 318.17,1099.88 320.20,1105.30 321.55,1109.36" fill="none" stroke="#f2f21a" stroke-width="1.15" stroke-linejoin="round"/>
<polyline points="311.39,1040.24 313.42,1041.60 314.10,1048.37 314.51,1078.19 317.49,1080.90 318.17,1090.39 320.20,1093.10 320.88,1099.88 322.91,1102.59 326.30,1102.59 326.98,1109.36 335.11,1110.45" fill="none" stroke="#22e022" stroke-width="1.15" stroke-linejoin="round"/>
<polyline points="311.39,1052.44 313.42,1086.32 314.78,1097.17 318.17,1098.52 321.55,1099.20 322.91,1102.59 340.53,1104.62 342.56,1110.04" fill="none" stroke="#dc7a4a" stroke-width="1.15" stroke-linejoin="round"/>
<polyline points="311.39,1022.62 398.00,1022.62 476.60,1022.60" fill="none" stroke="#2c2cec" stroke-width="1.15" stroke-linejoin="round"/>
<polyline points="311.39,1032.11 312.07,1072.77 313.42,1093.10 314.78,1099.88 318.84,1101.23 321.55,1103.94 325.62,1105.30 326.98,1110.04" fill="none" stroke="#ee44ee" stroke-width="1.15" stroke-linejoin="round"/>
<polyline points="311.39,1045.66 314.10,1049.73 314.78,1067.35 318.17,1067.35 318.84,1076.84 335.11,1078.19 362.22,1078.19 363.57,1086.32 383.90,1086.32 389.32,1087.68 398.00,1087.95 399.00,1088.50 422.50,1088.90 423.90,1093.40 476.60,1093.40" fill="none" stroke="#84b04a" stroke-width="1.15" stroke-linejoin="round"/>
<polyline points="311.39,1044.31 312.07,1061.93 312.74,1076.16 316.81,1076.16 317.49,1080.90 328.33,1080.90 329.01,1089.30 379.84,1089.30 381.19,1090.39 398.00,1090.39 476.60,1090.50" fill="none" stroke="#262626" stroke-width="1.15" stroke-linejoin="round"/>
<polyline points="311.39,1061.93 312.07,1080.90 313.42,1093.10 315.45,1098.52 318.84,1101.23 320.88,1108.01 322.91,1110.04 328.33,1110.72 398.00,1110.99 476.60,1111.20" fill="none" stroke="#ee1c1c" stroke-width="1.9" stroke-linejoin="round"/>
</g>
<rect x="310.80" y="1008.50" width="165.80" height="152.70" fill="none" stroke="#6a6a6a" stroke-width="0.8"/>
<path d="M310.80 1161.2v-1.6M310.80 1008.5v1.6M327.38 1161.2v-1.6M327.38 1008.5v1.6M343.96 1161.2v-1.6M343.96 1008.5v1.6M360.54 1161.2v-1.6M360.54 1008.5v1.6M377.12 1161.2v-1.6M377.12 1008.5v1.6M393.70 1161.2v-1.6M393.70 1008.5v1.6M410.28 1161.2v-1.6M410.28 1008.5v1.6M426.86 1161.2v-1.6M426.86 1008.5v1.6M443.44 1161.2v-1.6M443.44 1008.5v1.6M460.02 1161.2v-1.6M460.02 1008.5v1.6M476.60 1161.2v-1.6M476.60 1008.5v1.6M310.8 1008.50h1.6M476.6 1008.50h-1.6M310.8 1059.40h1.6M476.6 1059.40h-1.6M310.8 1110.30h1.6M476.6 1110.30h-1.6M310.8 1161.20h1.6M476.6 1161.20h-1.6" stroke="#6a6a6a" stroke-width="0.6"/>
<path d="M310.8 1023.82h0.9M476.6 1023.82h-0.9M310.8 1032.79h0.9M476.6 1032.79h-0.9M310.8 1039.14h0.9M476.6 1039.14h-0.9M310.8 1044.08h0.9M476.6 1044.08h-0.9M310.8 1048.11h0.9M476.6 1048.11h-0.9M310.8 1051.52h0.9M476.6 1051.52h-0.9M310.8 1054.47h0.9M476.6 1054.47h-0.9M310.8 1057.07h0.9M476.6 1057.07h-0.9M310.8 1074.72h0.9M476.6 1074.72h-0.9M310.8 1083.69h0.9M476.6 1083.69h-0.9M310.8 1090.04h0.9M476.6 1090.04h-0.9M310.8 1094.98h0.9M476.6 1094.98h-0.9M310.8 1099.01h0.9M476.6 1099.01h-0.9M310.8 1102.42h0.9M476.6 1102.42h-0.9M310.8 1105.37h0.9M476.6 1105.37h-0.9M310.8 1107.97h0.9M476.6 1107.97h-0.9M310.8 1125.62h0.9M476.6 1125.62h-0.9M310.8 1134.59h0.9M476.6 1134.59h-0.9M310.8 1140.94h0.9M476.6 1140.94h-0.9M310.8 1145.88h0.9M476.6 1145.88h-0.9M310.8 1149.91h0.9M476.6 1149.91h-0.9M310.8 1153.32h0.9M476.6 1153.32h-0.9M310.8 1156.27h0.9M476.6 1156.27h-0.9M310.8 1158.87h0.9M476.6 1158.87h-0.9" stroke="#6a6a6a" stroke-width="0.5"/>
<text x="309.45" y="1169.90" font-size="5.6" textLength="2.71" lengthAdjust="spacingAndGlyphs" fill="#262626" >0</text>
<text x="323.32" y="1169.90" font-size="5.6" textLength="8.13" lengthAdjust="spacingAndGlyphs" fill="#262626" >100</text>
<text x="339.90" y="1169.90" font-size="5.6" textLength="8.13" lengthAdjust="spacingAndGlyphs" fill="#262626" >200</text>
<text x="356.48" y="1169.90" font-size="5.6" textLength="8.13" lengthAdjust="spacingAndGlyphs" fill="#262626" >300</text>
<text x="373.06" y="1169.90" font-size="5.6" textLength="8.13" lengthAdjust="spacingAndGlyphs" fill="#262626" >400</text>
<text x="389.64" y="1169.90" font-size="5.6" textLength="8.13" lengthAdjust="spacingAndGlyphs" fill="#262626" >500</text>
<text x="406.22" y="1169.90" font-size="5.6" textLength="8.13" lengthAdjust="spacingAndGlyphs" fill="#262626" >600</text>
<text x="422.80" y="1169.90" font-size="5.6" textLength="8.13" lengthAdjust="spacingAndGlyphs" fill="#262626" >700</text>
<text x="439.38" y="1169.90" font-size="5.6" textLength="8.13" lengthAdjust="spacingAndGlyphs" fill="#262626" >800</text>
<text x="455.96" y="1169.90" font-size="5.6" textLength="8.13" lengthAdjust="spacingAndGlyphs" fill="#262626" >900</text>
<text x="471.18" y="1169.90" font-size="5.6" textLength="10.84" lengthAdjust="spacingAndGlyphs" fill="#262626" >1000</text>
<text x="298.23" y="1011.80" font-size="5.6" textLength="7.04" lengthAdjust="spacingAndGlyphs" fill="#262626" >-10</text>
<text x="305.27" y="1009.00" font-size="4.3" textLength="3.33" lengthAdjust="spacingAndGlyphs" fill="#262626" >-1</text>
<text x="299.48" y="1062.70" font-size="5.6" textLength="7.04" lengthAdjust="spacingAndGlyphs" fill="#262626" >-10</text>
<text x="306.52" y="1059.90" font-size="4.3" textLength="2.08" lengthAdjust="spacingAndGlyphs" fill="#262626" >0</text>
<text x="299.48" y="1113.60" font-size="5.6" textLength="7.04" lengthAdjust="spacingAndGlyphs" fill="#262626" >-10</text>
<text x="306.52" y="1110.80" font-size="4.3" textLength="2.08" lengthAdjust="spacingAndGlyphs" fill="#262626" >1</text>
<text x="299.48" y="1164.50" font-size="5.6" textLength="7.04" lengthAdjust="spacingAndGlyphs" fill="#262626" >-10</text>
<text x="306.52" y="1161.70" font-size="4.3" textLength="2.08" lengthAdjust="spacingAndGlyphs" fill="#262626" >2</text>
<text x="383.62" y="1177.90" font-size="6.2" textLength="20.16" lengthAdjust="spacingAndGlyphs" fill="#262626" >Iteration</text>
<text x="388.30" y="1005.90" font-size="6.6" textLength="10.80" lengthAdjust="spacingAndGlyphs" fill="#262626" >F22</text>
<text x="-28.72" y="0.00" font-size="6.5" textLength="57.45" lengthAdjust="spacingAndGlyphs" fill="#262626" transform="translate(294.55,1085.65) rotate(-90)" style="stroke-width:0.1px">Best score obtained</text>
<rect x="435.80" y="1013.30" width="36.60" height="67.90" fill="#fff" stroke="#666" stroke-width="0.6"/>
<line x1="437.40" y1="1018.20" x2="452.10" y2="1018.20" stroke="#f2f21a" stroke-width="1.2"/>
<text x="453.40" y="1020.50" font-size="5.2" textLength="11.18" lengthAdjust="spacingAndGlyphs" fill="#262626" >RIME</text>
<line x1="437.40" y1="1025.53" x2="452.10" y2="1025.53" stroke="#22e022" stroke-width="1.2"/>
<text x="453.40" y="1027.83" font-size="5.2" textLength="12.10" lengthAdjust="spacingAndGlyphs" fill="#262626" >AVOA</text>
<line x1="437.40" y1="1032.86" x2="452.10" y2="1032.86" stroke="#dc7a4a" stroke-width="1.2"/>
<text x="453.40" y="1035.16" font-size="5.2" textLength="9.61" lengthAdjust="spacingAndGlyphs" fill="#262626" >GTO</text>
<line x1="437.40" y1="1040.19" x2="452.10" y2="1040.19" stroke="#cfcfcf" stroke-width="1.2"/>
<text x="453.40" y="1042.49" font-size="5.2" textLength="10.19" lengthAdjust="spacingAndGlyphs" fill="#262626" >OMA</text>
<line x1="437.40" y1="1047.52" x2="452.10" y2="1047.52" stroke="#2c2cec" stroke-width="1.2"/>
<text x="453.40" y="1049.82" font-size="5.2" textLength="14.66" lengthAdjust="spacingAndGlyphs" fill="#262626" >IWSCA</text>
<line x1="437.40" y1="1054.85" x2="452.10" y2="1054.85" stroke="#ee44ee" stroke-width="1.2"/>
<text x="453.40" y="1057.15" font-size="5.2" textLength="9.36" lengthAdjust="spacingAndGlyphs" fill="#262626" >MPA</text>
<line x1="437.40" y1="1062.18" x2="452.10" y2="1062.18" stroke="#84b04a" stroke-width="1.2"/>
<text x="453.40" y="1064.48" font-size="5.2" textLength="12.34" lengthAdjust="spacingAndGlyphs" fill="#262626" >EMPA</text>
<line x1="437.40" y1="1069.51" x2="452.10" y2="1069.51" stroke="#262626" stroke-width="1.2"/>
<text x="453.40" y="1071.81" font-size="5.2" textLength="16.07" lengthAdjust="spacingAndGlyphs" fill="#262626" >GDMPA</text>
<line x1="437.40" y1="1076.84" x2="452.10" y2="1076.84" stroke="#ee1c1c" stroke-width="1.9"/>
<text x="453.40" y="1079.14" font-size="5.2" textLength="10.60" lengthAdjust="spacingAndGlyphs" fill="#262626" >IMPA</text></g>
<clipPath id="clipF23"><rect x="503.30" y="1008.50" width="166.20" height="152.70"/></clipPath>
<g><path d="M503.3 1023.82H669.5M503.3 1032.79H669.5M503.3 1039.14H669.5M503.3 1044.08H669.5M503.3 1048.11H669.5M503.3 1051.52H669.5M503.3 1054.47H669.5M503.3 1057.07H669.5M503.3 1074.72H669.5M503.3 1083.69H669.5M503.3 1090.04H669.5M503.3 1094.98H669.5M503.3 1099.01H669.5M503.3 1102.42H669.5M503.3 1105.37H669.5M503.3 1107.97H669.5M503.3 1125.62H669.5M503.3 1134.59H669.5M503.3 1140.94H669.5M503.3 1145.88H669.5M503.3 1149.91H669.5M503.3 1153.32H669.5M503.3 1156.27H669.5M503.3 1158.87H669.5" stroke="#f0f0f0" stroke-width="0.6"/>
<path d="M503.3 1059.40H669.5M503.3 1110.30H669.5M519.92 1008.5V1161.2M536.54 1008.5V1161.2M553.16 1008.5V1161.2M569.78 1008.5V1161.2M586.40 1008.5V1161.2M603.02 1008.5V1161.2M619.64 1008.5V1161.2M636.26 1008.5V1161.2M652.88 1008.5V1161.2" stroke="#e4e4e4" stroke-width="0.6"/>
<g clip-path="url(#clipF23)">
<polyline points="503.39,1061.93 505.42,1099.88 508.13,1108.01" fill="none" stroke="#f2f21a" stroke-width="1.15" stroke-linejoin="round"/>
<polyline points="503.39,1040.24 505.42,1051.08 508.13,1052.44 508.81,1061.93 509.49,1068.70 510.84,1072.77 513.55,1078.19 517.62,1082.26 518.98,1086.32 520.33,1097.17 521.01,1104.62 523.72,1105.30 527.11,1109.36 533.88,1110.04 544.73,1110.45" fill="none" stroke="#22e022" stroke-width="1.15" stroke-linejoin="round"/>
<polyline points="503.39,1033.46 504.74,1072.77 505.42,1090.39 506.78,1094.46 513.55,1095.13 514.23,1102.59 515.59,1108.01 516.26,1109.36" fill="none" stroke="#dc7a4a" stroke-width="1.15" stroke-linejoin="round"/>
<polyline points="503.39,1025.33 590.00,1025.33 669.50,1025.30" fill="none" stroke="#2c2cec" stroke-width="1.15" stroke-linejoin="round"/>
<polyline points="503.39,1056.50 504.74,1089.03 506.78,1094.46 508.81,1095.81 510.17,1099.88 511.52,1109.36" fill="none" stroke="#ee44ee" stroke-width="1.15" stroke-linejoin="round"/>
<polyline points="503.39,1041.60 505.42,1059.22 508.13,1064.64 509.49,1065.99 510.84,1068.03 513.55,1068.70 514.91,1072.77 518.98,1073.45 520.33,1074.80 525.07,1075.48 528.46,1078.19 529.14,1087.00 555.57,1087.00 556.25,1090.39 561.67,1090.39 562.35,1096.49 584.71,1096.49 585.39,1101.91 590.00,1101.91 669.50,1101.90" fill="none" stroke="#84b04a" stroke-width="1.15" stroke-linejoin="round"/>
<polyline points="503.39,1045.66 504.74,1056.50 506.10,1063.28 507.45,1064.64 508.13,1079.55 512.20,1080.90 513.55,1081.58 526.43,1081.58 527.11,1090.39 590.00,1090.39 632.40,1090.40 633.90,1093.40 669.50,1093.40" fill="none" stroke="#262626" stroke-width="1.15" stroke-linejoin="round"/>
<polyline points="503.39,1061.93 504.74,1078.19 506.10,1080.22 506.78,1105.30 511.52,1108.01 512.88,1110.04 521.69,1110.04 527.11,1111.40 590.00,1111.40 669.50,1111.40" fill="none" stroke="#ee1c1c" stroke-width="1.9" stroke-linejoin="round"/>
</g>
<rect x="503.30" y="1008.50" width="166.20" height="152.70" fill="none" stroke="#6a6a6a" stroke-width="0.8"/>
<path d="M503.30 1161.2v-1.6M503.30 1008.5v1.6M519.92 1161.2v-1.6M519.92 1008.5v1.6M536.54 1161.2v-1.6M536.54 1008.5v1.6M553.16 1161.2v-1.6M553.16 1008.5v1.6M569.78 1161.2v-1.6M569.78 1008.5v1.6M586.40 1161.2v-1.6M586.40 1008.5v1.6M603.02 1161.2v-1.6M603.02 1008.5v1.6M619.64 1161.2v-1.6M619.64 1008.5v1.6M636.26 1161.2v-1.6M636.26 1008.5v1.6M652.88 1161.2v-1.6M652.88 1008.5v1.6M669.50 1161.2v-1.6M669.50 1008.5v1.6M503.3 1008.50h1.6M669.5 1008.50h-1.6M503.3 1059.40h1.6M669.5 1059.40h-1.6M503.3 1110.30h1.6M669.5 1110.30h-1.6M503.3 1161.20h1.6M669.5 1161.20h-1.6" stroke="#6a6a6a" stroke-width="0.6"/>
<path d="M503.3 1023.82h0.9M669.5 1023.82h-0.9M503.3 1032.79h0.9M669.5 1032.79h-0.9M503.3 1039.14h0.9M669.5 1039.14h-0.9M503.3 1044.08h0.9M669.5 1044.08h-0.9M503.3 1048.11h0.9M669.5 1048.11h-0.9M503.3 1051.52h0.9M669.5 1051.52h-0.9M503.3 1054.47h0.9M669.5 1054.47h-0.9M503.3 1057.07h0.9M669.5 1057.07h-0.9M503.3 1074.72h0.9M669.5 1074.72h-0.9M503.3 1083.69h0.9M669.5 1083.69h-0.9M503.3 1090.04h0.9M669.5 1090.04h-0.9M503.3 1094.98h0.9M669.5 1094.98h-0.9M503.3 1099.01h0.9M669.5 1099.01h-0.9M503.3 1102.42h0.9M669.5 1102.42h-0.9M503.3 1105.37h0.9M669.5 1105.37h-0.9M503.3 1107.97h0.9M669.5 1107.97h-0.9M503.3 1125.62h0.9M669.5 1125.62h-0.9M503.3 1134.59h0.9M669.5 1134.59h-0.9M503.3 1140.94h0.9M669.5 1140.94h-0.9M503.3 1145.88h0.9M669.5 1145.88h-0.9M503.3 1149.91h0.9M669.5 1149.91h-0.9M503.3 1153.32h0.9M669.5 1153.32h-0.9M503.3 1156.27h0.9M669.5 1156.27h-0.9M503.3 1158.87h0.9M669.5 1158.87h-0.9" stroke="#6a6a6a" stroke-width="0.5"/>
<text x="501.95" y="1169.90" font-size="5.6" textLength="2.71" lengthAdjust="spacingAndGlyphs" fill="#262626" >0</text>
<text x="515.86" y="1169.90" font-size="5.6" textLength="8.13" lengthAdjust="spacingAndGlyphs" fill="#262626" >100</text>
<text x="532.48" y="1169.90" font-size="5.6" textLength="8.13" lengthAdjust="spacingAndGlyphs" fill="#262626" >200</text>
<text x="549.10" y="1169.90" font-size="5.6" textLength="8.13" lengthAdjust="spacingAndGlyphs" fill="#262626" >300</text>
<text x="565.72" y="1169.90" font-size="5.6" textLength="8.13" lengthAdjust="spacingAndGlyphs" fill="#262626" >400</text>
<text x="582.34" y="1169.90" font-size="5.6" textLength="8.13" lengthAdjust="spacingAndGlyphs" fill="#262626" >500</text>
<text x="598.96" y="1169.90" font-size="5.6" textLength="8.13" lengthAdjust="spacingAndGlyphs" fill="#262626" >600</text>
<text x="615.58" y="1169.90" font-size="5.6" textLength="8.13" lengthAdjust="spacingAndGlyphs" fill="#262626" >700</text>
<text x="632.20" y="1169.90" font-size="5.6" textLength="8.13" lengthAdjust="spacingAndGlyphs" fill="#262626" >800</text>
<text x="648.82" y="1169.90" font-size="5.6" textLength="8.13" lengthAdjust="spacingAndGlyphs" fill="#262626" >900</text>
<text x="664.08" y="1169.90" font-size="5.6" textLength="10.84" lengthAdjust="spacingAndGlyphs" fill="#262626" >1000</text>
<text x="490.73" y="1011.80" font-size="5.6" textLength="7.04" lengthAdjust="spacingAndGlyphs" fill="#262626" >-10</text>
<text x="497.77" y="1009.00" font-size="4.3" textLength="3.33" lengthAdjust="spacingAndGlyphs" fill="#262626" >-1</text>
<text x="491.98" y="1062.70" font-size="5.6" textLength="7.04" lengthAdjust="spacingAndGlyphs" fill="#262626" >-10</text>
<text x="499.02" y="1059.90" font-size="4.3" textLength="2.08" lengthAdjust="spacingAndGlyphs" fill="#262626" >0</text>
<text x="491.98" y="1113.60" font-size="5.6" textLength="7.04" lengthAdjust="spacingAndGlyphs" fill="#262626" >-10</text>
<text x="499.02" y="1110.80" font-size="4.3" textLength="2.08" lengthAdjust="spacingAndGlyphs" fill="#262626" >1</text>
<text x="491.98" y="1164.50" font-size="5.6" textLength="7.04" lengthAdjust="spacingAndGlyphs" fill="#262626" >-10</text>
<text x="499.02" y="1161.70" font-size="4.3" textLength="2.08" lengthAdjust="spacingAndGlyphs" fill="#262626" >2</text>
<text x="576.32" y="1177.90" font-size="6.2" textLength="20.16" lengthAdjust="spacingAndGlyphs" fill="#262626" >Iteration</text>
<text x="581.00" y="1005.90" font-size="6.6" textLength="10.80" lengthAdjust="spacingAndGlyphs" fill="#262626" >F23</text>
<text x="-28.72" y="0.00" font-size="6.5" textLength="57.45" lengthAdjust="spacingAndGlyphs" fill="#262626" transform="translate(487.25,1085.65) rotate(-90)" style="stroke-width:0.1px">Best score obtained</text>
<rect x="628.70" y="1013.30" width="36.60" height="67.90" fill="#fff" stroke="#666" stroke-width="0.6"/>
<line x1="630.30" y1="1018.20" x2="645.00" y2="1018.20" stroke="#f2f21a" stroke-width="1.2"/>
<text x="646.30" y="1020.50" font-size="5.2" textLength="11.18" lengthAdjust="spacingAndGlyphs" fill="#262626" >RIME</text>
<line x1="630.30" y1="1025.53" x2="645.00" y2="1025.53" stroke="#22e022" stroke-width="1.2"/>
<text x="646.30" y="1027.83" font-size="5.2" textLength="12.10" lengthAdjust="spacingAndGlyphs" fill="#262626" >AVOA</text>
<line x1="630.30" y1="1032.86" x2="645.00" y2="1032.86" stroke="#dc7a4a" stroke-width="1.2"/>
<text x="646.30" y="1035.16" font-size="5.2" textLength="9.61" lengthAdjust="spacingAndGlyphs" fill="#262626" >GTO</text>
<line x1="630.30" y1="1040.19" x2="645.00" y2="1040.19" stroke="#cfcfcf" stroke-width="1.2"/>
<text x="646.30" y="1042.49" font-size="5.2" textLength="10.19" lengthAdjust="spacingAndGlyphs" fill="#262626" >OMA</text>
<line x1="630.30" y1="1047.52" x2="645.00" y2="1047.52" stroke="#2c2cec" stroke-width="1.2"/>
<text x="646.30" y="1049.82" font-size="5.2" textLength="14.66" lengthAdjust="spacingAndGlyphs" fill="#262626" >IWSCA</text>
<line x1="630.30" y1="1054.85" x2="645.00" y2="1054.85" stroke="#ee44ee" stroke-width="1.2"/>
<text x="646.30" y="1057.15" font-size="5.2" textLength="9.36" lengthAdjust="spacingAndGlyphs" fill="#262626" >MPA</text>
<line x1="630.30" y1="1062.18" x2="645.00" y2="1062.18" stroke="#84b04a" stroke-width="1.2"/>
<text x="646.30" y="1064.48" font-size="5.2" textLength="12.34" lengthAdjust="spacingAndGlyphs" fill="#262626" >EMPA</text>
<line x1="630.30" y1="1069.51" x2="645.00" y2="1069.51" stroke="#262626" stroke-width="1.2"/>
<text x="646.30" y="1071.81" font-size="5.2" textLength="16.07" lengthAdjust="spacingAndGlyphs" fill="#262626" >GDMPA</text>
<line x1="630.30" y1="1076.84" x2="645.00" y2="1076.84" stroke="#ee1c1c" stroke-width="1.9"/>
<text x="646.30" y="1079.14" font-size="5.2" textLength="10.60" lengthAdjust="spacingAndGlyphs" fill="#262626" >IMPA</text></g></g></svg></body></html>
